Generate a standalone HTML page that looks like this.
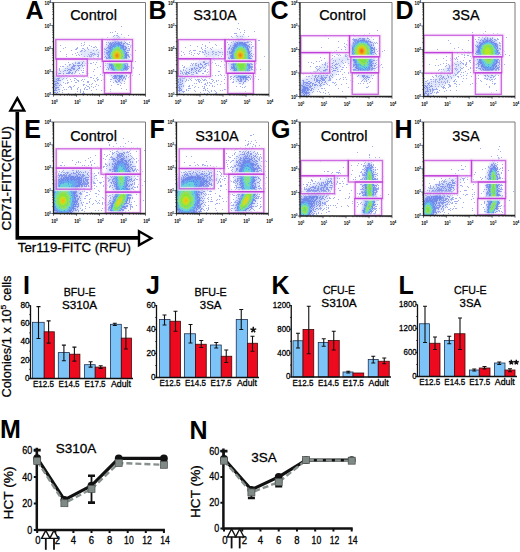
<!DOCTYPE html>
<html><head><meta charset="utf-8"><style>
html,body{margin:0;padding:0;background:#fff;}
svg{display:block;font-family:"Liberation Sans", sans-serif;}
</style></head><body>
<svg width="520" height="552" viewBox="0 0 520 552">
<defs><filter id="bl" x="-5%" y="-5%" width="110%" height="110%"><feGaussianBlur stdDeviation="1.0"/></filter><filter id="bl2"><feGaussianBlur stdDeviation="0.55"/></filter></defs>
<rect width="520" height="552" fill="#fff"/>
<text x="25.5" y="18.5" font-size="25" font-weight="bold">A</text><text x="148.5" y="18.5" font-size="25" font-weight="bold">B</text><text x="270.5" y="18.5" font-size="25" font-weight="bold">C</text><text x="395.5" y="18.5" font-size="25" font-weight="bold">D</text><text x="24.3" y="137.5" font-size="25" font-weight="bold">E</text><text x="149.5" y="137.5" font-size="25" font-weight="bold">F</text><text x="271" y="137.5" font-size="25" font-weight="bold">G</text><text x="394.5" y="137.5" font-size="25" font-weight="bold">H</text><text x="23" y="293.5" font-size="25" font-weight="bold">I</text><text x="146" y="293.5" font-size="25" font-weight="bold">J</text><text x="271.5" y="293.5" font-size="25" font-weight="bold">K</text><text x="398.5" y="293.5" font-size="25" font-weight="bold">L</text><text x="0" y="438" font-size="25" font-weight="bold">M</text><text x="189.5" y="438.5" font-size="25" font-weight="bold">N</text><clipPath id="c1"><rect x="53.5" y="2.5" width="92.0" height="92.0"/></clipPath><g clip-path="url(#c1)"><g filter="url(#bl)"><path d="M55.1 97.0L53.9 95.5L52.8 92.5L51.0 81.5L51.2 78.0L52.8 74.0L54.0 72.1L55.5 70.8L61.0 69.7L80.8 58.0L81.5 57.0L81.7 56.0L78.8 52.5L79.5 51.1L82.2 50.0L86.5 49.4L92.0 49.3L99.0 49.8L101.0 49.5L103.5 47.5L107.5 41.3L109.5 38.9L112.0 36.9L114.5 35.9L117.5 35.6L120.0 36.2L122.5 37.6L125.0 40.0L127.7 44.5L129.2 49.5L129.7 54.5L130.1 65.5L129.4 70.0L127.8 74.5L125.3 79.5L123.0 82.3L120.5 83.7L118.0 83.9L115.5 83.0L113.2 81.0L108.8 74.5L106.7 70.5L104.0 59.5L103.0 57.0L101.0 55.2L99.0 55.2L95.0 56.8L91.5 58.9L83.0 67.7L75.0 74.3L70.0 77.2L64.0 79.5L62.3 80.5L61.1 83.0L59.3 93.0L58.3 95.5L57.1 97.0Z" fill="rgb(225, 230, 250)" fill-rule="evenodd"/><path d="M120.0 80.6L117.5 80.5L115.5 79.3L113.3 76.5L110.2 71.5L108.1 66.0L105.6 54.0L105.7 51.5L106.2 49.5L109.0 44.0L112.0 40.8L114.0 39.6L116.0 39.1L118.0 39.2L120.0 39.8L123.5 42.6L126.3 47.5L127.4 53.0L127.8 64.5L127.2 69.0L125.8 73.0L123.5 77.5L122.0 79.4L120.0 80.6ZM69.5 71.6L68.0 71.9L67.2 71.5L68.1 70.0L71.6 67.5L75.0 66.1L76.0 66.0L76.5 66.4L75.9 67.5L74.3 69.0L69.5 71.6ZM56.0 91.6L55.0 90.7L54.2 88.5L53.5 80.5L54.5 76.4L55.5 75.2L57.0 74.7L58.5 75.6L59.0 78.0L58.0 88.2L57.0 90.9L56.0 91.6Z" fill="rgb(190, 202, 246)" fill-rule="evenodd"/><path d="M119.5 77.1L118.0 77.1L116.0 75.8L113.6 73.0L111.7 70.0L109.8 64.5L107.9 55.5L108.1 51.0L110.0 46.5L113.0 43.2L114.5 42.4L116.5 42.0L119.5 42.5L122.5 45.0L124.8 49.0L125.8 54.0L125.9 64.5L125.4 68.5L124.2 71.5L122.5 74.5L121.0 76.3L119.5 77.1Z" fill="rgb(135, 160, 240)" fill-rule="evenodd"/><path d="M120.0 73.7L118.5 74.0L117.0 73.5L115.0 71.9L113.6 70.0L111.8 66.0L109.3 56.5L109.3 52.5L110.8 48.5L113.0 45.7L116.0 44.3L119.0 44.6L121.5 46.5L123.4 49.5L124.5 53.5L124.5 64.5L124.1 67.5L122.5 71.2L120.0 73.7Z" fill="rgb(85, 125, 236)" fill-rule="evenodd"/><path d="M119.5 71.6L118.5 71.8L117.0 71.4L114.5 69.0L113.1 66.0L110.2 56.5L110.3 53.0L111.5 49.5L114.0 46.8L116.5 45.8L119.0 46.3L121.2 48.0L122.8 50.5L123.7 54.0L123.0 67.0L121.6 70.0L119.5 71.6Z" fill="rgb(75, 180, 235)" fill-rule="evenodd"/><path d="M119.0 70.0L117.0 69.7L115.0 67.5L111.7 59.5L110.9 56.0L111.1 53.0L112.3 50.0L114.0 48.1L116.5 47.1L118.5 47.4L120.8 49.0L122.3 51.5L123.0 54.5L121.9 66.5L120.6 69.0L119.0 70.0Z" fill="rgb(90, 220, 150)" fill-rule="evenodd"/><path d="M118.5 68.1L117.0 67.6L115.7 66.0L112.5 59.4L111.6 56.0L111.8 53.5L112.7 51.0L114.5 49.0L116.5 48.3L118.5 48.6L120.5 50.0L121.7 52.0L122.3 54.5L122.3 57.5L120.8 65.5L120.0 67.2L118.5 68.1Z" fill="rgb(120, 230, 60)" fill-rule="evenodd"/><path d="M118.5 62.2L117.0 62.3L115.5 61.3L113.8 59.0L112.9 56.5L112.9 54.5L113.5 52.4L115.0 50.6L116.5 50.1L118.0 50.2L119.5 51.1L120.5 52.5L121.1 54.5L120.7 58.5L119.5 61.0L118.5 62.2Z" fill="rgb(185, 230, 35)" fill-rule="evenodd"/><path d="M118.0 59.7L117.0 59.8L115.5 59.1L114.1 56.5L114.3 53.5L115.0 52.5L116.5 51.6L118.5 52.1L119.4 53.0L120.0 54.5L119.7 57.5L119.0 58.8L118.0 59.7Z" fill="rgb(240, 205, 25)" fill-rule="evenodd"/><path d="M117.5 58.2L116.0 57.8L115.0 56.0L115.3 54.0L116.5 52.9L118.0 53.2L119.0 55.0L118.8 57.0L117.5 58.2Z" fill="rgb(245, 135, 25)" fill-rule="evenodd"/><path d="M117.5 56.8L116.5 56.7L116.0 56.0L116.0 54.9L117.0 54.1L118.0 55.0L118.1 56.0L117.5 56.8Z" fill="rgb(235, 65, 20)" fill-rule="evenodd"/></g><g filter="url(#bl2)"><path d="M113 18.5h1M121 26.5h1M115 31.5h1M110 32.5h1M112 32.5h1M117 33.5h1M121 34.5h1M114 35.5h1M116 35.5h1M117 35.5h1M128 35.5h1M113 36.5h1M118 36.5h1M107 37.5h1M117 37.5h1M119 37.5h1M124 37.5h1M113 38.5h1M114 38.5h1M109 39.5h1M123 39.5h1M125 39.5h1M107 40.5h1M109 40.5h1M124 40.5h1M126 40.5h1M124 41.5h1M84 42.5h1M106 42.5h1M108 42.5h1M125 42.5h1M129 42.5h1M81 43.5h1M126 43.5h1M127 43.5h1M84 44.5h1M106 44.5h1M127 44.5h1M128 44.5h1M129 44.5h1M60 45.5h1M81 45.5h1M83 45.5h1M89 45.5h1M130 45.5h1M131 45.5h1M91 46.5h1M95 46.5h1M100 46.5h1M128 46.5h1M130 46.5h1M65 47.5h1M77 47.5h1M87 47.5h1M93 47.5h1M94 47.5h1M96 47.5h1M100 47.5h1M130 47.5h1M63 48.5h1M76 48.5h1M77 48.5h1M82 48.5h1M83 48.5h1M87 48.5h1M101 48.5h1M102 48.5h1M103 48.5h1M104 48.5h1M128 48.5h1M129 48.5h1M75 49.5h1M76 49.5h1M84 49.5h1M88 49.5h1M97 49.5h1M102 49.5h1M103 49.5h1M104 49.5h1M129 49.5h1M71 50.5h1M81 50.5h1M82 50.5h1M85 50.5h1M93 50.5h1M96 50.5h1M100 50.5h1M101 50.5h1M128 50.5h1M129 50.5h1M135 50.5h1M60 51.5h1M80 51.5h1M81 51.5h1M84 51.5h1M104 51.5h1M77 52.5h1M90 52.5h1M91 52.5h1M98 52.5h1M102 52.5h1M104 52.5h1M75 53.5h1M92 53.5h1M93 53.5h1M94 53.5h1M103 53.5h1M66 54.5h1M72 54.5h1M78 54.5h1M81 54.5h1M88 54.5h1M90 54.5h1M91 54.5h1M92 54.5h1M94 54.5h1M95 54.5h1M97 54.5h1M98 54.5h1M104 54.5h1M128 54.5h1M130 54.5h1M76 55.5h1M79 55.5h1M89 55.5h1M91 55.5h1M93 55.5h1M98 55.5h1M131 55.5h1M66 56.5h1M84 56.5h1M87 56.5h1M89 56.5h1M90 56.5h1M91 56.5h1M97 56.5h1M98 56.5h1M129 56.5h1M82 57.5h1M88 57.5h1M90 57.5h1M91 57.5h1M93 57.5h1M98 57.5h1M104 57.5h1M129 57.5h1M62 58.5h1M80 58.5h1M88 58.5h1M94 58.5h1M97 58.5h1M70 59.5h1M100 59.5h1M129 59.5h1M130 59.5h1M131 59.5h1M81 60.5h1M82 60.5h1M87 60.5h1M88 60.5h1M97 60.5h1M101 60.5h1M102 60.5h1M130 60.5h1M83 61.5h1M101 61.5h1M135 61.5h1M68 62.5h1M75 62.5h1M78 62.5h1M79 62.5h1M87 62.5h1M93 62.5h1M96 62.5h1M101 62.5h1M72 63.5h1M75 63.5h1M77 63.5h1M85 63.5h1M88 63.5h1M90 63.5h1M91 63.5h1M105 63.5h1M65 64.5h1M69 64.5h1M70 64.5h1M73 64.5h1M95 64.5h1M69 65.5h1M84 65.5h1M87 65.5h1M105 65.5h1M130 65.5h1M60 66.5h1M62 66.5h1M63 66.5h1M67 66.5h1M82 66.5h1M87 66.5h1M100 66.5h1M129 66.5h1M56 67.5h1M97 67.5h1M103 67.5h1M104 67.5h1M107 67.5h1M129 67.5h1M132 67.5h1M133 67.5h1M59 68.5h1M65 68.5h1M67 68.5h1M83 68.5h1M102 68.5h1M133 68.5h1M57 69.5h1M59 69.5h1M94 69.5h1M106 69.5h1M59 70.5h1M64 70.5h1M76 70.5h1M78 70.5h1M81 70.5h1M83 70.5h1M60 71.5h1M63 71.5h1M86 71.5h1M93 71.5h1M106 71.5h1M107 71.5h1M108 71.5h1M128 71.5h1M129 71.5h1M57 72.5h1M75 72.5h1M82 72.5h1M83 72.5h1M108 72.5h1M127 72.5h1M60 73.5h1M72 73.5h1M74 73.5h1M79 73.5h1M86 73.5h1M88 73.5h1M102 73.5h1M108 73.5h1M127 73.5h1M128 73.5h1M72 74.5h1M80 74.5h1M82 74.5h1M100 74.5h1M110 74.5h1M128 74.5h1M139 74.5h1M74 75.5h1M76 75.5h1M94 75.5h1M102 75.5h1M104 75.5h1M111 75.5h1M132 75.5h1M69 76.5h1M73 76.5h1M77 76.5h1M81 76.5h1M84 76.5h1M126 76.5h1M129 76.5h1M62 77.5h1M64 77.5h1M67 77.5h1M83 77.5h1M88 77.5h1M90 77.5h1M91 77.5h1M97 77.5h1M112 77.5h1M128 77.5h1M63 78.5h1M66 78.5h1M74 78.5h1M75 78.5h1M93 78.5h1M96 78.5h1M125 78.5h1M62 79.5h1M70 79.5h1M76 79.5h1M82 79.5h1M84 79.5h1M97 79.5h1M98 79.5h1M103 79.5h1M110 79.5h1M111 79.5h1M125 79.5h1M67 80.5h1M74 80.5h1M77 80.5h1M78 80.5h1M81 80.5h1M94 80.5h1M97 80.5h1M101 80.5h1M71 81.5h1M78 81.5h1M83 81.5h1M87 81.5h1M88 81.5h1M95 81.5h1M110 81.5h1M115 81.5h1M124 81.5h1M63 82.5h1M67 82.5h1M68 82.5h1M75 82.5h1M76 82.5h1M87 82.5h1M88 82.5h1M113 82.5h1M116 82.5h1M117 82.5h1M120 82.5h1M65 83.5h1M67 83.5h1M92 83.5h1M121 83.5h1M124 83.5h1M60 84.5h1M83 84.5h1M84 84.5h1M89 84.5h1M91 84.5h1M96 84.5h1M117 84.5h1M118 84.5h1M61 85.5h1M74 85.5h1M83 85.5h1M86 85.5h1M98 85.5h1M111 85.5h1M120 85.5h1M69 86.5h1M70 86.5h1M73 86.5h1M87 86.5h1M88 86.5h1M91 86.5h1M95 86.5h1M63 87.5h1M68 87.5h1M70 87.5h1M71 87.5h1M78 87.5h1M85 87.5h1M89 87.5h1M93 87.5h1M104 87.5h1M71 88.5h1M77 88.5h1M84 88.5h1M89 88.5h1M104 88.5h1M121 88.5h1M59 89.5h1M64 89.5h1M66 89.5h1M71 89.5h1M77 89.5h1M80 89.5h1M84 89.5h1M86 89.5h1M87 89.5h1M96 89.5h1M110 89.5h1M126 89.5h1M62 90.5h1M80 90.5h1M91 90.5h1M101 90.5h1M105 90.5h1M59 91.5h1M77 91.5h1M80 91.5h1M83 91.5h1M110 91.5h1M62 92.5h1M80 92.5h1M83 92.5h1M68 93.5h1M75 93.5h1M82 93.5h1M83 93.5h1M84 93.5h1M92 93.5h1M55 94.5h1M58 94.5h1M60 94.5h1M65 94.5h1" stroke="#a0aef0" stroke-width="1" fill="none"/><path d="M114 38.5h1M116 38.5h1M118 38.5h1M119 38.5h1M112 39.5h1M114 39.5h1M115 39.5h1M116 39.5h1M117 39.5h1M112 40.5h1M113 40.5h1M114 40.5h1M115 40.5h1M117 40.5h1M114 41.5h1M115 41.5h1M116 41.5h1M117 41.5h1M118 41.5h1M121 41.5h1M110 42.5h1M112 42.5h1M113 42.5h1M119 42.5h1M120 42.5h1M121 42.5h1M125 42.5h1M109 43.5h1M110 43.5h1M111 43.5h1M112 43.5h1M123 43.5h1M124 43.5h1M109 44.5h1M110 44.5h1M111 44.5h1M123 44.5h1M108 45.5h1M110 45.5h1M108 46.5h1M109 46.5h1M110 46.5h1M124 46.5h1M125 46.5h1M107 47.5h1M108 47.5h1M109 47.5h1M125 47.5h1M126 47.5h1M106 48.5h1M108 48.5h1M109 48.5h1M125 48.5h1M126 48.5h1M105 49.5h1M106 50.5h1M107 50.5h1M127 50.5h1M106 52.5h1M107 52.5h1M127 52.5h1M128 52.5h1M106 53.5h1M107 53.5h1M126 53.5h1M107 54.5h1M127 54.5h1M127 55.5h1M128 55.5h1M105 56.5h1M128 56.5h1M106 57.5h1M106 58.5h1M107 58.5h1M126 58.5h1M106 59.5h1M108 59.5h1M128 59.5h1M107 61.5h1M108 61.5h1M126 61.5h1M82 62.5h1M127 62.5h1M78 63.5h1M79 63.5h1M82 63.5h1M107 63.5h1M109 63.5h1M127 63.5h1M73 64.5h1M81 64.5h1M109 64.5h1M127 64.5h1M73 65.5h1M74 65.5h1M75 65.5h1M77 65.5h1M78 65.5h1M79 65.5h1M80 65.5h1M82 65.5h1M109 65.5h1M127 65.5h1M72 66.5h1M73 66.5h1M74 66.5h1M78 66.5h1M109 66.5h1M126 66.5h1M127 66.5h1M128 66.5h1M71 67.5h1M72 67.5h1M79 67.5h1M109 67.5h1M126 67.5h1M127 67.5h1M71 68.5h1M72 68.5h1M73 68.5h1M74 68.5h1M78 68.5h1M79 68.5h1M108 68.5h1M110 68.5h1M126 68.5h1M127 68.5h1M128 68.5h1M68 69.5h1M69 69.5h1M70 69.5h1M73 69.5h1M74 69.5h1M77 69.5h1M108 69.5h1M126 69.5h1M127 69.5h1M65 70.5h1M67 70.5h1M70 70.5h1M71 70.5h1M76 70.5h1M126 70.5h1M69 71.5h1M75 71.5h1M111 71.5h1M112 71.5h1M68 72.5h1M69 72.5h1M70 72.5h1M72 72.5h1M110 72.5h1M111 72.5h1M112 72.5h1M113 72.5h1M125 72.5h1M126 72.5h1M127 72.5h1M56 73.5h1M58 73.5h1M59 73.5h1M60 73.5h1M63 73.5h1M66 73.5h1M67 73.5h1M68 73.5h1M69 73.5h1M71 73.5h1M112 73.5h1M113 73.5h1M124 73.5h1M56 74.5h1M58 74.5h1M63 74.5h1M125 74.5h1M59 75.5h1M62 75.5h1M65 75.5h1M66 75.5h1M114 75.5h1M115 75.5h1M126 75.5h1M55 76.5h1M57 76.5h1M58 76.5h1M59 76.5h1M61 76.5h1M63 76.5h1M113 76.5h1M114 76.5h1M116 76.5h1M122 76.5h1M124 76.5h1M55 77.5h1M56 77.5h1M58 77.5h1M59 77.5h1M60 77.5h1M61 77.5h1M114 77.5h1M115 77.5h1M116 77.5h1M121 77.5h1M123 77.5h1M124 77.5h1M57 78.5h1M58 78.5h1M59 78.5h1M113 78.5h1M114 78.5h1M115 78.5h1M116 78.5h1M118 78.5h1M119 78.5h1M121 78.5h1M123 78.5h1M125 78.5h1M56 79.5h1M58 79.5h1M117 79.5h1M119 79.5h1M120 79.5h1M122 79.5h1M57 80.5h1M58 80.5h1M59 80.5h1M60 80.5h1M115 80.5h1M118 80.5h1M119 80.5h1M122 80.5h1M54 81.5h1M55 81.5h1M56 81.5h1M116 81.5h1M118 81.5h1M119 81.5h1M57 82.5h1M55 83.5h1M56 83.5h1M57 83.5h1M58 83.5h1M54 84.5h1M55 84.5h1M55 85.5h1M56 85.5h1M59 85.5h1M54 86.5h1M55 87.5h1M56 87.5h1M57 87.5h1M58 87.5h1M55 88.5h1M56 88.5h1M55 89.5h1M58 89.5h1M54 90.5h1M55 90.5h1M56 90.5h1M54 92.5h1M55 92.5h1M57 92.5h1M56 93.5h1" stroke="#8898ec" stroke-width="1" fill="none"/><path d="M115 42.5h1M118 42.5h1M114 43.5h1M116 43.5h1M117 43.5h1M118 43.5h1M119 43.5h1M121 43.5h1M111 44.5h1M113 44.5h1M115 44.5h1M117 44.5h1M118 44.5h1M119 44.5h1M120 44.5h1M111 45.5h1M113 45.5h1M120 45.5h1M121 45.5h1M122 45.5h1M123 45.5h1M110 46.5h1M112 46.5h1M113 46.5h1M121 46.5h1M122 46.5h1M123 46.5h1M110 47.5h1M111 47.5h1M122 47.5h1M123 47.5h1M109 48.5h1M110 48.5h1M122 48.5h1M123 48.5h1M110 49.5h1M123 49.5h1M124 49.5h1M125 49.5h1M108 51.5h1M109 51.5h1M125 51.5h1M108 52.5h1M126 52.5h1M109 53.5h1M125 53.5h1M126 53.5h1M109 54.5h1M125 54.5h1M126 54.5h1M108 55.5h1M125 55.5h1M126 55.5h1M109 56.5h1M125 56.5h1M126 56.5h1M108 57.5h1M109 57.5h1M125 57.5h1M126 57.5h1M110 59.5h1M109 60.5h1M110 60.5h1M125 60.5h1M126 60.5h1M109 61.5h1M110 61.5h1M125 61.5h1M126 61.5h1M109 62.5h1M110 62.5h1M124 62.5h1M125 62.5h1M109 63.5h1M111 63.5h1M125 63.5h1M126 63.5h1M110 64.5h1M111 64.5h1M110 65.5h1M111 65.5h1M124 65.5h1M125 65.5h1M111 66.5h1M124 66.5h1M125 66.5h1M111 67.5h1M125 67.5h1M126 67.5h1M111 68.5h1M112 68.5h1M124 68.5h1M125 68.5h1M112 69.5h1M125 69.5h1M113 70.5h1M114 70.5h1M114 71.5h1M113 72.5h1M114 72.5h1M115 72.5h1M122 72.5h1M123 72.5h1M113 73.5h1M114 73.5h1M116 73.5h1M117 73.5h1M122 73.5h1M123 73.5h1M114 74.5h1M116 74.5h1M117 74.5h1M119 74.5h1M121 74.5h1M122 74.5h1M115 75.5h1M117 75.5h1M119 75.5h1M121 75.5h1M122 75.5h1M115 76.5h1M119 76.5h1M120 76.5h1M121 76.5h1M119 77.5h1M120 77.5h1" stroke="#6f88ea" stroke-width="1" fill="none"/><path d="M116 44.5h1M117 44.5h1M115 45.5h1M116 45.5h1M117 45.5h1M119 45.5h1M114 46.5h1M115 46.5h1M116 46.5h1M118 46.5h1M120 46.5h1M121 46.5h1M112 47.5h1M113 47.5h1M114 47.5h1M120 47.5h1M111 48.5h1M112 48.5h1M113 48.5h1M121 48.5h1M122 48.5h1M111 49.5h1M111 50.5h1M123 50.5h1M124 50.5h1M110 51.5h1M111 51.5h1M123 51.5h1M124 51.5h1M109 52.5h1M110 52.5h1M123 52.5h1M109 53.5h1M110 53.5h1M124 53.5h1M110 54.5h1M124 54.5h1M124 55.5h1M124 56.5h1M124 57.5h1M110 58.5h1M124 58.5h1M110 59.5h1M124 59.5h1M124 60.5h1M111 61.5h1M111 62.5h1M124 62.5h1M111 63.5h1M112 63.5h1M123 63.5h1M124 63.5h1M112 64.5h1M123 64.5h1M124 64.5h1M123 65.5h1M124 65.5h1M113 66.5h1M123 66.5h1M124 66.5h1M112 67.5h1M113 67.5h1M123 67.5h1M124 67.5h1M114 68.5h1M123 68.5h1M114 69.5h1M122 69.5h1M114 70.5h1M115 70.5h1M122 70.5h1M123 70.5h1M114 71.5h1M115 71.5h1M116 71.5h1M121 71.5h1M122 71.5h1M123 71.5h1M115 72.5h1M116 72.5h1M117 72.5h1M118 72.5h1M119 72.5h1M120 72.5h1M118 73.5h1M119 73.5h1M121 73.5h1M118 74.5h1M119 74.5h1M120 74.5h1" stroke="#68a8ef" stroke-width="1" fill="none"/><path d="M116 46.5h1M117 46.5h1M119 46.5h1M113 47.5h1M115 47.5h1M116 47.5h1M117 47.5h1M118 47.5h1M119 47.5h1M113 48.5h1M114 48.5h1M115 48.5h1M119 48.5h1M113 49.5h1M121 49.5h1M122 49.5h1M112 50.5h1M121 50.5h1M122 50.5h1M112 51.5h1M122 51.5h1M123 51.5h1M111 52.5h1M123 52.5h1M111 53.5h1M123 53.5h1M110 54.5h1M123 54.5h1M124 54.5h1M110 55.5h1M111 55.5h1M123 55.5h1M110 56.5h1M123 56.5h1M124 56.5h1M111 57.5h1M123 57.5h1M111 58.5h1M123 58.5h1M124 58.5h1M111 59.5h1M112 60.5h1M112 61.5h1M123 61.5h1M112 62.5h1M123 62.5h1M112 63.5h1M123 63.5h1M122 64.5h1M123 64.5h1M114 65.5h1M122 65.5h1M123 65.5h1M114 66.5h1M122 66.5h1M123 66.5h1M114 67.5h1M115 67.5h1M122 67.5h1M123 67.5h1M114 68.5h1M115 68.5h1M122 68.5h1M115 69.5h1M116 69.5h1M120 69.5h1M121 69.5h1M122 69.5h1M115 70.5h1M116 70.5h1M117 70.5h1M118 70.5h1M120 70.5h1M117 71.5h1M118 71.5h1M119 71.5h1M120 71.5h1M121 71.5h1M118 72.5h1M119 72.5h1" stroke="#68d0d8" stroke-width="1" fill="none"/><path d="M116 47.5h1M117 47.5h1M118 47.5h1M119 47.5h1M114 48.5h1M115 48.5h1M116 48.5h1M117 48.5h1M118 48.5h1M119 48.5h1M113 49.5h1M115 49.5h1M120 49.5h1M113 50.5h1M114 50.5h1M120 50.5h1M121 50.5h1M112 51.5h1M121 51.5h1M122 51.5h1M111 52.5h1M112 52.5h1M122 52.5h1M111 53.5h1M122 53.5h1M111 54.5h1M112 54.5h1M123 54.5h1M111 55.5h1M112 55.5h1M123 55.5h1M123 56.5h1M111 57.5h1M112 57.5h1M122 57.5h1M112 58.5h1M112 59.5h1M112 60.5h1M122 60.5h1M113 61.5h1M122 61.5h1M113 62.5h1M114 62.5h1M121 62.5h1M122 62.5h1M113 63.5h1M114 63.5h1M121 63.5h1M122 63.5h1M113 64.5h1M114 64.5h1M115 64.5h1M121 64.5h1M122 64.5h1M114 65.5h1M121 65.5h1M114 66.5h1M115 66.5h1M121 66.5h1M122 66.5h1M116 67.5h1M120 67.5h1M121 67.5h1M116 68.5h1M117 68.5h1M119 68.5h1M120 68.5h1M121 68.5h1M117 69.5h1M118 69.5h1M119 69.5h1M118 70.5h1M119 70.5h1M120 70.5h1" stroke="#80e090" stroke-width="1" fill="none"/><path d="M118 48.5h1M119 49.5h1M120 50.5h1M121 50.5h1M113 51.5h1M121 51.5h1M112 52.5h1M122 53.5h1M112 54.5h1M122 54.5h1M112 55.5h1M122 55.5h1M112 56.5h1M122 57.5h1M112 58.5h1M122 58.5h1M112 59.5h1M113 60.5h1M113 61.5h1M121 62.5h1M115 63.5h1M115 64.5h1M121 64.5h1M115 65.5h1M120 65.5h1M121 65.5h1M120 66.5h1M117 67.5h1M119 67.5h1M120 67.5h1M117 68.5h1M118 68.5h1M119 68.5h1" stroke="#98e050" stroke-width="1" fill="none"/></g></g><rect x="55.8" y="39.5" width="46.2" height="19.5" fill="none" stroke="#f8e8f8" stroke-width="4" stroke-opacity="0.7"/><rect x="56.5" y="59" width="30.799999999999997" height="17" fill="none" stroke="#f8e8f8" stroke-width="4" stroke-opacity="0.7"/><rect x="102.3" y="39.5" width="30.200000000000003" height="21.799999999999997" fill="none" stroke="#f8e8f8" stroke-width="4" stroke-opacity="0.7"/><rect x="103.3" y="61.3" width="28.200000000000003" height="11.5" fill="none" stroke="#f8e8f8" stroke-width="4" stroke-opacity="0.7"/><rect x="104.5" y="72.8" width="26.0" height="20.700000000000003" fill="none" stroke="#f8e8f8" stroke-width="4" stroke-opacity="0.7"/><rect x="55.8" y="39.5" width="46.2" height="19.5" fill="none" stroke="#b828d8" stroke-opacity="0.66" stroke-width="1.35"/><rect x="56.5" y="59" width="30.799999999999997" height="17" fill="none" stroke="#b828d8" stroke-opacity="0.66" stroke-width="1.35"/><rect x="102.3" y="39.5" width="30.200000000000003" height="21.799999999999997" fill="none" stroke="#b828d8" stroke-opacity="0.66" stroke-width="1.35"/><rect x="103.3" y="61.3" width="28.200000000000003" height="11.5" fill="none" stroke="#b828d8" stroke-opacity="0.66" stroke-width="1.35"/><rect x="104.5" y="72.8" width="26.0" height="20.700000000000003" fill="none" stroke="#b828d8" stroke-opacity="0.66" stroke-width="1.35"/><path d="M53.5 2.5H145.5V94.5" stroke="#7a7a7a" stroke-width="1" fill="none"/><path d="M53.5 2.5V94.5H145.5" stroke="#222" stroke-width="1.3" fill="none"/><path d="M53.5 94.5h-2.2M53.5 94.5v2.2M53.5 87.6h-1.2M60.4 94.5v1.2M53.5 83.5h-1.2M64.5 94.5v1.2M53.5 80.7h-1.2M67.3 94.5v1.2M53.5 78.4h-1.2M69.6 94.5v1.2M53.5 76.6h-1.2M71.4 94.5v1.2M53.5 75.1h-1.2M72.9 94.5v1.2M53.5 73.7h-1.2M74.3 94.5v1.2M53.5 72.6h-1.2M75.4 94.5v1.2M53.5 71.5h-2.2M76.5 94.5v2.2M53.5 64.6h-1.2M83.4 94.5v1.2M53.5 60.5h-1.2M87.5 94.5v1.2M53.5 57.7h-1.2M90.3 94.5v1.2M53.5 55.4h-1.2M92.6 94.5v1.2M53.5 53.6h-1.2M94.4 94.5v1.2M53.5 52.1h-1.2M95.9 94.5v1.2M53.5 50.7h-1.2M97.3 94.5v1.2M53.5 49.6h-1.2M98.4 94.5v1.2M53.5 48.5h-2.2M99.5 94.5v2.2M53.5 41.6h-1.2M106.4 94.5v1.2M53.5 37.5h-1.2M110.5 94.5v1.2M53.5 34.7h-1.2M113.3 94.5v1.2M53.5 32.4h-1.2M115.6 94.5v1.2M53.5 30.6h-1.2M117.4 94.5v1.2M53.5 29.1h-1.2M118.9 94.5v1.2M53.5 27.7h-1.2M120.3 94.5v1.2M53.5 26.6h-1.2M121.4 94.5v1.2M53.5 25.5h-2.2M122.5 94.5v2.2M53.5 18.6h-1.2M129.4 94.5v1.2M53.5 14.5h-1.2M133.5 94.5v1.2M53.5 11.7h-1.2M136.3 94.5v1.2M53.5 9.4h-1.2M138.6 94.5v1.2M53.5 7.6h-1.2M140.4 94.5v1.2M53.5 6.1h-1.2M141.9 94.5v1.2M53.5 4.7h-1.2M143.3 94.5v1.2M53.5 3.6h-1.2M144.4 94.5v1.2M53.5 2.5h-2.2M145.5 94.5v2.2" stroke="#222" stroke-width="0.7" fill="none"/><text x="51.0" y="96.7" font-size="5.6" font-weight="bold" text-anchor="end" textLength="6.5" lengthAdjust="spacingAndGlyphs">10<tspan font-size="4" dy="-2">0</tspan></text><text x="54.5" y="103.5" font-size="5.6" font-weight="bold" text-anchor="middle" textLength="6.5" lengthAdjust="spacingAndGlyphs">10<tspan font-size="4" dy="-2">0</tspan></text><text x="51.0" y="73.7" font-size="5.6" font-weight="bold" text-anchor="end" textLength="6.5" lengthAdjust="spacingAndGlyphs">10<tspan font-size="4" dy="-2">1</tspan></text><text x="77.5" y="103.5" font-size="5.6" font-weight="bold" text-anchor="middle" textLength="6.5" lengthAdjust="spacingAndGlyphs">10<tspan font-size="4" dy="-2">1</tspan></text><text x="51.0" y="50.7" font-size="5.6" font-weight="bold" text-anchor="end" textLength="6.5" lengthAdjust="spacingAndGlyphs">10<tspan font-size="4" dy="-2">2</tspan></text><text x="100.5" y="103.5" font-size="5.6" font-weight="bold" text-anchor="middle" textLength="6.5" lengthAdjust="spacingAndGlyphs">10<tspan font-size="4" dy="-2">2</tspan></text><text x="51.0" y="27.7" font-size="5.6" font-weight="bold" text-anchor="end" textLength="6.5" lengthAdjust="spacingAndGlyphs">10<tspan font-size="4" dy="-2">3</tspan></text><text x="123.5" y="103.5" font-size="5.6" font-weight="bold" text-anchor="middle" textLength="6.5" lengthAdjust="spacingAndGlyphs">10<tspan font-size="4" dy="-2">3</tspan></text><text x="51.0" y="4.7" font-size="5.6" font-weight="bold" text-anchor="end" textLength="6.5" lengthAdjust="spacingAndGlyphs">10<tspan font-size="4" dy="-2">4</tspan></text><text x="146.5" y="103.5" font-size="5.6" font-weight="bold" text-anchor="middle" textLength="6.5" lengthAdjust="spacingAndGlyphs">10<tspan font-size="4" dy="-2">4</tspan></text><text x="93.5" y="20.3" font-size="14.5" text-anchor="middle" stroke="#000" stroke-width="0.25">Control</text><clipPath id="c2"><rect x="177" y="2.5" width="92" height="92.0"/></clipPath><g clip-path="url(#c2)"><g filter="url(#bl)"><path d="M178.7 97.0L177.4 95.5L176.3 92.5L174.4 80.5L174.6 78.0L175.7 75.0L177.0 72.7L178.5 71.0L180.0 70.3L183.0 70.0L184.5 69.4L192.0 64.8L203.4 58.5L204.9 56.5L204.5 55.2L202.1 52.5L202.4 51.5L203.5 50.8L206.0 50.0L210.5 49.4L216.0 49.4L222.5 50.1L224.5 49.8L227.0 47.6L230.9 41.0L233.0 38.3L235.5 36.2L238.0 35.1L240.5 34.9L243.0 35.4L245.5 36.7L247.9 39.0L250.7 43.5L252.3 48.5L253.1 54.0L254.0 66.5L253.4 71.0L252.1 74.5L249.6 79.0L247.0 82.2L244.0 84.0L240.5 84.3L237.5 83.0L234.2 80.0L230.8 75.5L228.9 71.5L228.1 68.0L227.2 60.0L226.5 57.3L225.0 55.2L224.0 54.8L222.5 54.8L218.0 56.6L214.5 58.8L206.0 67.6L198.0 74.1L193.5 76.9L186.0 80.1L184.7 82.5L182.8 93.0L181.7 95.5L180.5 97.0Z" fill="rgb(225, 230, 250)" fill-rule="evenodd"/><path d="M243.5 81.2L241.0 81.4L238.5 80.3L235.6 77.5L232.8 73.5L231.7 71.0L230.7 67.5L229.1 55.0L229.4 50.5L232.3 44.0L235.5 40.2L237.5 39.1L239.5 38.6L241.5 38.7L243.5 39.4L245.5 40.8L247.0 42.4L249.6 47.5L250.8 53.5L251.6 65.0L251.1 70.0L249.7 74.0L247.7 77.5L245.5 80.0L243.5 81.2ZM191.5 71.5L190.8 71.0L191.0 70.5L193.3 68.5L197.0 66.6L198.8 66.5L198.6 67.5L196.2 69.5L193.5 71.0L191.5 71.5ZM180.0 91.3L179.0 91.2L177.9 89.0L177.2 85.0L177.0 80.5L178.0 76.3L179.0 75.1L180.5 74.6L182.1 75.5L182.5 77.5L181.6 87.5L181.0 89.8L180.0 91.3Z" fill="rgb(190, 202, 246)" fill-rule="evenodd"/><path d="M242.5 78.5L240.5 78.4L238.5 77.3L236.0 74.6L234.1 71.5L232.6 67.0L231.2 56.0L231.5 51.0L233.5 46.2L236.5 42.8L238.5 41.8L240.0 41.6L243.0 42.3L246.0 45.0L248.3 49.5L249.2 54.5L249.7 65.5L249.2 70.0L248.0 73.0L246.1 76.0L244.5 77.6L242.5 78.5Z" fill="rgb(135, 160, 240)" fill-rule="evenodd"/><path d="M242.5 76.0L241.0 76.0L239.0 75.1L237.0 73.1L235.6 71.0L234.2 67.0L232.6 56.5L232.8 52.0L234.3 48.0L237.0 45.0L240.0 43.9L243.0 44.7L245.4 47.0L247.2 50.5L248.0 54.5L248.3 65.5L247.8 69.0L246.9 71.5L245.5 73.8L244.0 75.3L242.5 76.0Z" fill="rgb(85, 125, 236)" fill-rule="evenodd"/><path d="M242.0 74.1L240.5 73.9L239.0 73.0L237.5 71.5L236.3 69.5L235.4 66.5L233.5 56.0L233.7 52.5L235.0 49.0L237.5 46.4L240.0 45.6L242.5 46.2L244.7 48.0L246.4 51.0L247.1 54.5L247.0 66.0L246.7 68.5L246.0 70.5L244.6 72.5L243.5 73.5L242.0 74.1Z" fill="rgb(75, 180, 235)" fill-rule="evenodd"/><path d="M242.5 72.2L241.5 72.3L240.0 71.9L238.5 70.7L237.5 69.2L236.6 67.0L234.2 56.5L234.3 53.0L235.5 50.0L237.5 47.7L240.0 46.8L242.5 47.4L244.3 49.0L245.7 51.5L246.4 54.5L245.7 67.5L244.5 70.5L242.5 72.2Z" fill="rgb(90, 220, 150)" fill-rule="evenodd"/><path d="M242.5 70.1L240.5 70.2L238.5 68.2L234.9 56.0L235.1 53.0L236.1 50.5L238.0 48.6L240.0 48.0L242.0 48.3L243.6 49.5L245.0 51.7L245.7 54.5L244.5 67.0L243.7 69.0L242.5 70.1Z" fill="rgb(120, 230, 60)" fill-rule="evenodd"/><path d="M241.5 62.7L240.5 62.9L238.5 61.1L236.8 58.5L236.1 56.0L236.3 53.5L237.0 51.7L238.5 50.2L240.0 49.7L241.5 49.9L243.0 51.0L243.9 52.5L244.5 54.5L243.9 58.5L243.0 60.6L241.5 62.7Z" fill="rgb(185, 230, 35)" fill-rule="evenodd"/><path d="M241.0 59.6L239.5 59.4L238.5 58.6L237.3 56.0L237.7 53.0L238.5 51.9L240.0 51.2L241.0 51.3L242.1 52.0L243.3 54.5L242.9 57.5L242.0 58.9L241.0 59.6Z" fill="rgb(240, 205, 25)" fill-rule="evenodd"/><path d="M241.5 57.5L240.0 58.0L238.5 56.5L238.3 54.5L239.5 52.7L241.0 52.7L242.2 54.0L242.3 56.0L241.5 57.5Z" fill="rgb(245, 135, 25)" fill-rule="evenodd"/><path d="M240.5 56.6L239.9 56.5L239.2 55.5L239.3 54.5L240.0 53.8L241.0 54.0L241.4 55.0L241.2 56.0L240.5 56.6Z" fill="rgb(235, 65, 20)" fill-rule="evenodd"/></g><g filter="url(#bl2)"><path d="M238 23.5h1M237 28.5h1M239 29.5h1M244 30.5h1M254 31.5h1M240 32.5h1M244 32.5h1M234 33.5h1M235 33.5h1M236 33.5h1M243 34.5h1M236 35.5h1M231 36.5h1M237 36.5h1M240 36.5h1M242 36.5h1M248 36.5h1M232 37.5h1M228 38.5h1M231 39.5h1M233 39.5h1M246 39.5h1M248 39.5h1M229 40.5h1M258 40.5h1M259 40.5h1M233 41.5h1M248 41.5h1M249 41.5h1M250 41.5h1M209 42.5h1M227 42.5h1M231 42.5h1M248 42.5h1M251 42.5h1M202 44.5h1M215 44.5h1M228 44.5h1M251 44.5h1M190 45.5h1M205 45.5h1M216 45.5h1M230 45.5h1M178 46.5h1M197 46.5h1M205 46.5h1M225 46.5h1M230 46.5h1M252 46.5h1M253 46.5h1M185 47.5h1M201 47.5h1M207 47.5h1M212 47.5h1M229 47.5h1M251 47.5h1M255 47.5h1M201 48.5h1M205 48.5h1M210 48.5h1M221 48.5h1M228 48.5h1M251 48.5h1M254 48.5h1M202 49.5h1M211 49.5h1M226 49.5h1M228 49.5h1M190 50.5h1M193 50.5h1M194 50.5h1M195 50.5h1M204 50.5h1M205 50.5h1M225 50.5h1M251 50.5h1M181 51.5h1M189 51.5h1M199 51.5h1M200 51.5h1M202 51.5h1M205 51.5h1M212 51.5h1M213 51.5h1M218 51.5h1M227 51.5h1M183 52.5h1M191 52.5h1M202 52.5h1M203 52.5h1M205 52.5h1M208 52.5h1M212 52.5h1M215 52.5h1M216 52.5h1M219 52.5h1M220 52.5h1M222 52.5h1M227 52.5h1M179 53.5h1M189 53.5h1M194 53.5h1M197 53.5h1M199 53.5h1M206 53.5h1M213 53.5h1M225 53.5h1M226 53.5h1M184 54.5h1M191 54.5h1M198 54.5h1M204 54.5h1M208 54.5h1M212 54.5h1M215 54.5h1M216 54.5h1M222 54.5h1M224 54.5h1M226 54.5h1M227 54.5h1M253 54.5h1M181 55.5h1M193 55.5h1M218 55.5h1M223 55.5h1M225 55.5h1M226 55.5h1M206 56.5h1M221 56.5h1M224 56.5h1M255 56.5h1M264 56.5h1M204 57.5h1M208 57.5h1M213 57.5h1M218 57.5h1M225 57.5h1M228 57.5h1M179 58.5h1M201 58.5h1M202 58.5h1M209 58.5h1M219 58.5h1M228 58.5h1M204 59.5h1M205 59.5h1M207 59.5h1M209 59.5h1M213 59.5h1M227 59.5h1M229 59.5h1M252 59.5h1M193 60.5h1M199 60.5h1M205 60.5h1M208 60.5h1M209 60.5h1M210 60.5h1M211 60.5h1M214 60.5h1M255 60.5h1M203 61.5h1M204 61.5h1M209 61.5h1M210 61.5h1M221 61.5h1M208 62.5h1M209 62.5h1M212 62.5h1M226 62.5h1M227 62.5h1M229 62.5h1M191 63.5h1M193 63.5h1M195 63.5h1M196 63.5h1M207 63.5h1M208 63.5h1M210 63.5h1M211 63.5h1M215 63.5h1M226 63.5h1M228 63.5h1M256 63.5h1M192 64.5h1M195 64.5h1M208 64.5h1M224 64.5h1M255 64.5h1M182 65.5h1M190 65.5h1M192 65.5h1M195 65.5h1M206 65.5h1M208 65.5h1M209 65.5h1M216 65.5h1M218 65.5h1M224 65.5h1M254 65.5h1M184 66.5h1M205 66.5h1M220 66.5h1M183 67.5h1M184 67.5h1M203 67.5h1M204 67.5h1M210 67.5h1M224 67.5h1M255 67.5h1M179 68.5h1M186 68.5h1M203 68.5h1M205 68.5h1M255 68.5h1M183 69.5h1M207 69.5h1M210 69.5h1M230 69.5h1M256 69.5h1M260 69.5h1M180 70.5h1M183 70.5h1M185 70.5h1M201 70.5h1M205 70.5h1M253 70.5h1M254 70.5h1M180 71.5h1M181 71.5h1M186 71.5h1M199 71.5h1M200 71.5h1M204 71.5h1M205 71.5h1M208 71.5h1M218 71.5h1M219 71.5h1M182 72.5h1M184 72.5h1M207 72.5h1M230 72.5h1M254 72.5h1M178 73.5h1M197 73.5h1M202 73.5h1M203 73.5h1M226 73.5h1M228 73.5h1M231 73.5h1M206 74.5h1M208 74.5h1M220 74.5h1M232 74.5h1M251 74.5h1M255 74.5h1M212 75.5h1M215 75.5h1M218 75.5h1M221 75.5h1M224 75.5h1M226 75.5h1M188 76.5h1M191 76.5h1M197 76.5h1M200 76.5h1M202 76.5h1M228 76.5h1M230 76.5h1M231 76.5h1M251 76.5h1M253 76.5h1M255 76.5h1M185 77.5h1M194 77.5h1M197 77.5h1M203 77.5h1M205 77.5h1M206 77.5h1M225 77.5h1M230 77.5h1M233 77.5h1M251 77.5h1M189 78.5h1M191 78.5h1M201 78.5h1M209 78.5h1M228 78.5h1M231 78.5h1M250 78.5h1M252 78.5h1M254 78.5h1M186 79.5h1M190 79.5h1M195 79.5h1M197 79.5h1M198 79.5h1M199 79.5h1M202 79.5h1M204 79.5h1M205 79.5h1M211 79.5h1M212 79.5h1M224 79.5h1M227 79.5h1M230 79.5h1M233 79.5h1M250 79.5h1M252 79.5h1M258 79.5h1M186 80.5h1M188 80.5h1M191 80.5h1M196 80.5h1M198 80.5h1M200 80.5h1M203 80.5h1M204 80.5h1M206 80.5h1M213 80.5h1M216 80.5h1M218 80.5h1M248 80.5h1M185 81.5h1M198 81.5h1M199 81.5h1M212 81.5h1M216 81.5h1M221 81.5h1M233 81.5h1M236 81.5h1M252 81.5h1M199 82.5h1M201 82.5h1M207 82.5h1M209 82.5h1M214 82.5h1M232 82.5h1M233 82.5h1M194 83.5h1M196 83.5h1M205 83.5h1M207 83.5h1M210 83.5h1M211 83.5h1M224 83.5h1M239 83.5h1M240 83.5h1M243 83.5h1M204 84.5h1M205 84.5h1M217 84.5h1M220 84.5h1M227 84.5h1M242 84.5h1M183 85.5h1M189 85.5h1M192 85.5h1M206 85.5h1M209 85.5h1M212 85.5h1M183 86.5h1M188 86.5h1M189 86.5h1M195 86.5h1M202 86.5h1M204 86.5h1M212 86.5h1M214 86.5h1M236 86.5h1M240 86.5h1M245 86.5h1M194 87.5h1M198 87.5h1M204 87.5h1M228 87.5h1M242 87.5h1M244 87.5h1M188 88.5h1M189 88.5h1M190 88.5h1M203 88.5h1M204 88.5h1M207 88.5h1M186 89.5h1M205 89.5h1M224 89.5h1M225 89.5h1M186 90.5h1M188 90.5h1M194 90.5h1M203 90.5h1M205 90.5h1M207 90.5h1M211 90.5h1M214 90.5h1M220 90.5h1M222 90.5h1M182 91.5h1M183 91.5h1M184 91.5h1M195 91.5h1M208 91.5h1M211 91.5h1M215 91.5h1M245 91.5h1M183 92.5h1M200 92.5h1M209 92.5h1M216 92.5h1M204 93.5h1M207 93.5h1M215 93.5h1M216 93.5h1M254 93.5h1M178 94.5h1M227 94.5h1" stroke="#a0aef0" stroke-width="1" fill="none"/><path d="M237 38.5h1M238 38.5h1M240 38.5h1M241 38.5h1M242 38.5h1M236 39.5h1M238 39.5h1M239 39.5h1M240 39.5h1M241 39.5h1M242 39.5h1M238 40.5h1M239 40.5h1M243 40.5h1M244 40.5h1M233 41.5h1M235 41.5h1M238 41.5h1M247 41.5h1M236 42.5h1M237 42.5h1M244 42.5h1M245 42.5h1M246 42.5h1M247 42.5h1M234 43.5h1M235 43.5h1M245 43.5h1M234 44.5h1M246 44.5h1M249 44.5h1M233 45.5h1M234 45.5h1M247 45.5h1M248 45.5h1M248 46.5h1M249 46.5h1M229 47.5h1M232 47.5h1M249 47.5h1M229 48.5h1M231 48.5h1M248 48.5h1M231 49.5h1M232 49.5h1M229 51.5h1M231 51.5h1M249 51.5h1M250 51.5h1M229 52.5h1M230 52.5h1M229 53.5h1M230 53.5h1M251 53.5h1M250 54.5h1M230 55.5h1M251 55.5h1M230 56.5h1M250 56.5h1M252 56.5h1M230 57.5h1M231 57.5h1M229 58.5h1M231 58.5h1M251 58.5h1M229 59.5h1M231 59.5h1M250 59.5h1M252 59.5h1M231 60.5h1M251 60.5h1M231 61.5h1M251 61.5h1M203 62.5h1M204 62.5h1M231 62.5h1M251 62.5h1M200 63.5h1M205 63.5h1M206 63.5h1M250 63.5h1M251 63.5h1M198 64.5h1M200 64.5h1M201 64.5h1M204 64.5h1M205 64.5h1M231 64.5h1M232 64.5h1M251 64.5h1M252 64.5h1M196 65.5h1M198 65.5h1M202 65.5h1M198 66.5h1M202 66.5h1M231 66.5h1M250 66.5h1M251 66.5h1M252 66.5h1M194 67.5h1M199 67.5h1M200 67.5h1M201 67.5h1M231 67.5h1M232 67.5h1M250 67.5h1M251 67.5h1M252 67.5h1M191 68.5h1M192 68.5h1M194 68.5h1M196 68.5h1M197 68.5h1M200 68.5h1M231 68.5h1M232 68.5h1M233 68.5h1M251 68.5h1M189 69.5h1M191 69.5h1M192 69.5h1M195 69.5h1M199 69.5h1M251 69.5h1M252 69.5h1M191 70.5h1M196 70.5h1M198 70.5h1M233 70.5h1M189 71.5h1M195 71.5h1M198 71.5h1M233 71.5h1M186 72.5h1M187 72.5h1M188 72.5h1M191 72.5h1M193 72.5h1M196 72.5h1M232 72.5h1M234 72.5h1M249 72.5h1M250 72.5h1M251 72.5h1M180 73.5h1M182 73.5h1M185 73.5h1M186 73.5h1M188 73.5h1M189 73.5h1M196 73.5h1M232 73.5h1M234 73.5h1M250 73.5h1M251 73.5h1M183 74.5h1M185 74.5h1M186 74.5h1M187 74.5h1M191 74.5h1M192 74.5h1M193 74.5h1M232 74.5h1M233 74.5h1M234 74.5h1M248 74.5h1M249 74.5h1M178 75.5h1M179 75.5h1M180 75.5h1M181 75.5h1M182 75.5h1M187 75.5h1M235 75.5h1M236 75.5h1M249 75.5h1M250 75.5h1M178 76.5h1M179 76.5h1M180 76.5h1M185 76.5h1M186 76.5h1M234 76.5h1M248 76.5h1M180 77.5h1M181 77.5h1M182 77.5h1M184 77.5h1M236 77.5h1M237 77.5h1M247 77.5h1M248 77.5h1M249 77.5h1M179 78.5h1M180 78.5h1M182 78.5h1M183 78.5h1M184 78.5h1M245 78.5h1M246 78.5h1M178 79.5h1M180 79.5h1M237 79.5h1M238 79.5h1M240 79.5h1M243 79.5h1M245 79.5h1M246 79.5h1M247 79.5h1M180 80.5h1M182 80.5h1M238 80.5h1M240 80.5h1M241 80.5h1M245 80.5h1M178 81.5h1M182 81.5h1M239 81.5h1M240 81.5h1M241 81.5h1M244 81.5h1M245 81.5h1M178 82.5h1M180 82.5h1M243 82.5h1M182 83.5h1M179 84.5h1M180 84.5h1M181 84.5h1M178 85.5h1M179 86.5h1M181 86.5h1M178 87.5h1M179 87.5h1M179 88.5h1M180 88.5h1M179 89.5h1M181 89.5h1M178 90.5h1M179 90.5h1M180 90.5h1M181 90.5h1M179 91.5h1M179 93.5h1M180 94.5h1" stroke="#8898ec" stroke-width="1" fill="none"/><path d="M237 42.5h1M239 42.5h1M240 42.5h1M241 42.5h1M242 42.5h1M237 43.5h1M239 43.5h1M240 43.5h1M241 43.5h1M242 43.5h1M243 43.5h1M244 43.5h1M235 44.5h1M236 44.5h1M237 44.5h1M238 44.5h1M240 44.5h1M241 44.5h1M243 44.5h1M244 44.5h1M245 44.5h1M246 44.5h1M234 45.5h1M235 45.5h1M236 45.5h1M244 45.5h1M245 45.5h1M246 45.5h1M234 46.5h1M235 46.5h1M236 46.5h1M245 46.5h1M247 46.5h1M233 47.5h1M234 47.5h1M235 47.5h1M246 47.5h1M247 47.5h1M233 48.5h1M234 48.5h1M247 48.5h1M233 49.5h1M247 49.5h1M248 49.5h1M232 50.5h1M233 50.5h1M248 50.5h1M232 51.5h1M248 51.5h1M231 52.5h1M232 52.5h1M248 52.5h1M249 52.5h1M231 53.5h1M248 53.5h1M249 53.5h1M232 54.5h1M231 55.5h1M232 55.5h1M249 55.5h1M231 56.5h1M232 56.5h1M232 57.5h1M249 57.5h1M231 58.5h1M232 58.5h1M233 58.5h1M248 58.5h1M249 58.5h1M250 58.5h1M231 59.5h1M249 59.5h1M232 60.5h1M233 60.5h1M249 60.5h1M233 61.5h1M232 62.5h1M233 62.5h1M248 62.5h1M249 62.5h1M250 62.5h1M233 63.5h1M233 64.5h1M234 64.5h1M249 64.5h1M233 65.5h1M248 65.5h1M249 65.5h1M233 66.5h1M234 66.5h1M249 66.5h1M232 67.5h1M233 67.5h1M234 67.5h1M248 67.5h1M249 67.5h1M233 68.5h1M234 68.5h1M248 68.5h1M249 68.5h1M234 69.5h1M234 70.5h1M235 70.5h1M249 70.5h1M234 71.5h1M236 71.5h1M247 71.5h1M248 71.5h1M235 72.5h1M236 72.5h1M247 72.5h1M248 72.5h1M236 73.5h1M237 73.5h1M246 73.5h1M248 73.5h1M236 74.5h1M237 74.5h1M238 74.5h1M246 74.5h1M247 74.5h1M248 74.5h1M238 75.5h1M244 75.5h1M245 75.5h1M246 75.5h1M238 76.5h1M239 76.5h1M240 76.5h1M241 76.5h1M243 76.5h1M244 76.5h1M245 76.5h1M240 77.5h1M241 77.5h1M242 77.5h1M243 77.5h1M244 77.5h1M245 77.5h1M246 77.5h1M240 78.5h1M243 78.5h1M241 79.5h1" stroke="#6f88ea" stroke-width="1" fill="none"/><path d="M238 44.5h1M240 44.5h1M241 44.5h1M237 45.5h1M238 45.5h1M239 45.5h1M240 45.5h1M241 45.5h1M243 45.5h1M237 46.5h1M238 46.5h1M243 46.5h1M244 46.5h1M235 47.5h1M237 47.5h1M244 47.5h1M245 47.5h1M235 48.5h1M245 48.5h1M234 49.5h1M235 49.5h1M234 50.5h1M246 50.5h1M247 50.5h1M234 51.5h1M233 52.5h1M233 53.5h1M233 54.5h1M248 54.5h1M233 55.5h1M247 55.5h1M248 55.5h1M233 56.5h1M247 56.5h1M248 56.5h1M234 57.5h1M247 57.5h1M248 57.5h1M233 58.5h1M247 58.5h1M248 58.5h1M233 59.5h1M234 59.5h1M247 59.5h1M248 59.5h1M234 60.5h1M247 60.5h1M234 61.5h1M248 61.5h1M234 62.5h1M234 63.5h1M235 63.5h1M248 63.5h1M234 64.5h1M248 64.5h1M234 65.5h1M235 65.5h1M234 66.5h1M235 66.5h1M235 67.5h1M247 67.5h1M248 67.5h1M235 68.5h1M236 68.5h1M247 68.5h1M248 68.5h1M235 69.5h1M246 69.5h1M247 69.5h1M236 70.5h1M237 70.5h1M246 70.5h1M236 71.5h1M237 71.5h1M246 71.5h1M247 71.5h1M237 72.5h1M245 72.5h1M246 72.5h1M247 72.5h1M238 73.5h1M239 73.5h1M244 73.5h1M245 73.5h1M246 73.5h1M239 74.5h1M240 74.5h1M241 74.5h1M243 74.5h1M244 74.5h1M245 74.5h1M239 75.5h1M240 75.5h1M241 75.5h1M242 75.5h1M243 75.5h1M244 75.5h1M241 76.5h1M242 76.5h1" stroke="#68a8ef" stroke-width="1" fill="none"/><path d="M238 46.5h1M239 46.5h1M240 46.5h1M241 46.5h1M242 46.5h1M237 47.5h1M238 47.5h1M239 47.5h1M240 47.5h1M241 47.5h1M242 47.5h1M244 47.5h1M236 48.5h1M237 48.5h1M243 48.5h1M244 48.5h1M245 48.5h1M235 49.5h1M236 49.5h1M245 49.5h1M235 50.5h1M246 50.5h1M246 51.5h1M234 52.5h1M235 52.5h1M234 53.5h1M246 53.5h1M247 53.5h1M246 54.5h1M247 54.5h1M247 55.5h1M234 56.5h1M247 56.5h1M234 57.5h1M246 57.5h1M247 57.5h1M246 58.5h1M247 58.5h1M234 59.5h1M235 59.5h1M246 59.5h1M247 59.5h1M235 60.5h1M246 60.5h1M235 61.5h1M246 61.5h1M235 62.5h1M236 62.5h1M246 62.5h1M247 62.5h1M246 63.5h1M246 64.5h1M235 65.5h1M236 65.5h1M246 65.5h1M235 66.5h1M236 66.5h1M246 66.5h1M247 66.5h1M235 67.5h1M236 67.5h1M246 67.5h1M247 67.5h1M237 68.5h1M246 68.5h1M247 68.5h1M237 69.5h1M245 69.5h1M246 69.5h1M237 70.5h1M238 70.5h1M245 70.5h1M246 70.5h1M237 71.5h1M238 71.5h1M239 71.5h1M241 72.5h1M242 72.5h1M244 72.5h1M239 73.5h1M241 73.5h1M242 73.5h1M243 73.5h1M244 73.5h1M241 74.5h1" stroke="#68d0d8" stroke-width="1" fill="none"/><path d="M239 47.5h1M240 47.5h1M241 47.5h1M242 47.5h1M237 48.5h1M238 48.5h1M239 48.5h1M241 48.5h1M242 48.5h1M243 48.5h1M238 49.5h1M243 49.5h1M244 49.5h1M236 50.5h1M245 50.5h1M235 51.5h1M235 52.5h1M245 52.5h1M246 52.5h1M234 53.5h1M245 53.5h1M246 53.5h1M234 54.5h1M246 54.5h1M234 55.5h1M246 55.5h1M235 56.5h1M246 56.5h1M234 57.5h1M235 57.5h1M246 57.5h1M235 58.5h1M246 58.5h1M235 59.5h1M245 59.5h1M235 60.5h1M246 60.5h1M235 61.5h1M236 61.5h1M245 61.5h1M246 61.5h1M236 62.5h1M237 62.5h1M245 62.5h1M246 62.5h1M237 63.5h1M245 63.5h1M246 63.5h1M236 64.5h1M237 64.5h1M245 64.5h1M246 64.5h1M236 65.5h1M245 65.5h1M246 65.5h1M237 66.5h1M238 66.5h1M245 66.5h1M237 67.5h1M238 67.5h1M245 67.5h1M237 68.5h1M238 68.5h1M244 68.5h1M245 68.5h1M237 69.5h1M238 69.5h1M239 69.5h1M244 69.5h1M245 69.5h1M238 70.5h1M239 70.5h1M241 70.5h1M242 70.5h1M243 70.5h1M244 70.5h1M240 71.5h1M241 71.5h1M242 71.5h1M244 71.5h1M240 72.5h1M241 72.5h1M242 72.5h1" stroke="#80e090" stroke-width="1" fill="none"/><path d="M239 48.5h1M240 48.5h1M241 48.5h1M242 49.5h1M243 49.5h1M244 50.5h1M236 51.5h1M245 51.5h1M236 52.5h1M245 52.5h1M235 53.5h1M235 54.5h1M235 55.5h1M245 56.5h1M235 57.5h1M245 58.5h1M246 58.5h1M236 59.5h1M245 59.5h1M236 60.5h1M245 60.5h1M236 61.5h1M245 61.5h1M245 62.5h1M237 63.5h1M245 63.5h1M237 64.5h1M244 64.5h1M238 65.5h1M244 65.5h1M245 65.5h1M238 66.5h1M244 66.5h1M245 66.5h1M238 67.5h1M239 67.5h1M244 67.5h1M244 68.5h1M240 69.5h1M242 69.5h1M243 69.5h1M241 70.5h1M242 70.5h1" stroke="#98e050" stroke-width="1" fill="none"/></g></g><rect x="178.2" y="39.6" width="46.80000000000001" height="19.199999999999996" fill="none" stroke="#f8e8f8" stroke-width="4" stroke-opacity="0.7"/><rect x="178.2" y="58.8" width="32.30000000000001" height="17.700000000000003" fill="none" stroke="#f8e8f8" stroke-width="4" stroke-opacity="0.7"/><rect x="225" y="39.6" width="30.69999999999999" height="21.6" fill="none" stroke="#f8e8f8" stroke-width="4" stroke-opacity="0.7"/><rect x="226.3" y="61.2" width="28.5" height="12.099999999999994" fill="none" stroke="#f8e8f8" stroke-width="4" stroke-opacity="0.7"/><rect x="227.8" y="73.3" width="25.599999999999994" height="20.200000000000003" fill="none" stroke="#f8e8f8" stroke-width="4" stroke-opacity="0.7"/><rect x="178.2" y="39.6" width="46.80000000000001" height="19.199999999999996" fill="none" stroke="#b828d8" stroke-opacity="0.66" stroke-width="1.35"/><rect x="178.2" y="58.8" width="32.30000000000001" height="17.700000000000003" fill="none" stroke="#b828d8" stroke-opacity="0.66" stroke-width="1.35"/><rect x="225" y="39.6" width="30.69999999999999" height="21.6" fill="none" stroke="#b828d8" stroke-opacity="0.66" stroke-width="1.35"/><rect x="226.3" y="61.2" width="28.5" height="12.099999999999994" fill="none" stroke="#b828d8" stroke-opacity="0.66" stroke-width="1.35"/><rect x="227.8" y="73.3" width="25.599999999999994" height="20.200000000000003" fill="none" stroke="#b828d8" stroke-opacity="0.66" stroke-width="1.35"/><path d="M177 2.5H269V94.5" stroke="#7a7a7a" stroke-width="1" fill="none"/><path d="M177 2.5V94.5H269" stroke="#222" stroke-width="1.3" fill="none"/><path d="M177 94.5h-2.2M177.0 94.5v2.2M177 87.6h-1.2M183.9 94.5v1.2M177 83.5h-1.2M188.0 94.5v1.2M177 80.7h-1.2M190.8 94.5v1.2M177 78.4h-1.2M193.1 94.5v1.2M177 76.6h-1.2M194.9 94.5v1.2M177 75.1h-1.2M196.4 94.5v1.2M177 73.7h-1.2M197.8 94.5v1.2M177 72.6h-1.2M198.9 94.5v1.2M177 71.5h-2.2M200.0 94.5v2.2M177 64.6h-1.2M206.9 94.5v1.2M177 60.5h-1.2M211.0 94.5v1.2M177 57.7h-1.2M213.8 94.5v1.2M177 55.4h-1.2M216.1 94.5v1.2M177 53.6h-1.2M217.9 94.5v1.2M177 52.1h-1.2M219.4 94.5v1.2M177 50.7h-1.2M220.8 94.5v1.2M177 49.6h-1.2M221.9 94.5v1.2M177 48.5h-2.2M223.0 94.5v2.2M177 41.6h-1.2M229.9 94.5v1.2M177 37.5h-1.2M234.0 94.5v1.2M177 34.7h-1.2M236.8 94.5v1.2M177 32.4h-1.2M239.1 94.5v1.2M177 30.6h-1.2M240.9 94.5v1.2M177 29.1h-1.2M242.4 94.5v1.2M177 27.7h-1.2M243.8 94.5v1.2M177 26.6h-1.2M244.9 94.5v1.2M177 25.5h-2.2M246.0 94.5v2.2M177 18.6h-1.2M252.9 94.5v1.2M177 14.5h-1.2M257.0 94.5v1.2M177 11.7h-1.2M259.8 94.5v1.2M177 9.4h-1.2M262.1 94.5v1.2M177 7.6h-1.2M263.9 94.5v1.2M177 6.1h-1.2M265.4 94.5v1.2M177 4.7h-1.2M266.8 94.5v1.2M177 3.6h-1.2M267.9 94.5v1.2M177 2.5h-2.2M269 94.5v2.2" stroke="#222" stroke-width="0.7" fill="none"/><text x="174.5" y="96.7" font-size="5.6" font-weight="bold" text-anchor="end" textLength="6.5" lengthAdjust="spacingAndGlyphs">10<tspan font-size="4" dy="-2">0</tspan></text><text x="178.0" y="103.5" font-size="5.6" font-weight="bold" text-anchor="middle" textLength="6.5" lengthAdjust="spacingAndGlyphs">10<tspan font-size="4" dy="-2">0</tspan></text><text x="174.5" y="73.7" font-size="5.6" font-weight="bold" text-anchor="end" textLength="6.5" lengthAdjust="spacingAndGlyphs">10<tspan font-size="4" dy="-2">1</tspan></text><text x="201.0" y="103.5" font-size="5.6" font-weight="bold" text-anchor="middle" textLength="6.5" lengthAdjust="spacingAndGlyphs">10<tspan font-size="4" dy="-2">1</tspan></text><text x="174.5" y="50.7" font-size="5.6" font-weight="bold" text-anchor="end" textLength="6.5" lengthAdjust="spacingAndGlyphs">10<tspan font-size="4" dy="-2">2</tspan></text><text x="224.0" y="103.5" font-size="5.6" font-weight="bold" text-anchor="middle" textLength="6.5" lengthAdjust="spacingAndGlyphs">10<tspan font-size="4" dy="-2">2</tspan></text><text x="174.5" y="27.7" font-size="5.6" font-weight="bold" text-anchor="end" textLength="6.5" lengthAdjust="spacingAndGlyphs">10<tspan font-size="4" dy="-2">3</tspan></text><text x="247.0" y="103.5" font-size="5.6" font-weight="bold" text-anchor="middle" textLength="6.5" lengthAdjust="spacingAndGlyphs">10<tspan font-size="4" dy="-2">3</tspan></text><text x="174.5" y="4.7" font-size="5.6" font-weight="bold" text-anchor="end" textLength="6.5" lengthAdjust="spacingAndGlyphs">10<tspan font-size="4" dy="-2">4</tspan></text><text x="270.0" y="103.5" font-size="5.6" font-weight="bold" text-anchor="middle" textLength="6.5" lengthAdjust="spacingAndGlyphs">10<tspan font-size="4" dy="-2">4</tspan></text><text x="215" y="20.3" font-size="14.5" text-anchor="middle" stroke="#000" stroke-width="0.25">S310A</text><clipPath id="c3"><rect x="300" y="2.5" width="92" height="94.0"/></clipPath><g clip-path="url(#c3)"><g filter="url(#bl)"><path d="M299.6 99.0L297.6 95.0L297.1 92.0L297.2 89.0L297.7 86.0L298.7 83.0L300.0 80.9L301.5 79.3L303.5 78.1L308.0 77.1L309.5 76.4L319.5 66.6L324.0 63.2L328.0 60.7L334.5 57.9L338.0 57.2L342.0 56.9L343.5 56.3L344.5 54.7L347.2 47.0L348.9 43.5L351.7 40.0L355.0 37.5L359.0 36.1L364.0 36.1L368.5 37.7L371.9 40.5L374.7 44.5L376.3 49.5L376.7 53.5L376.4 65.5L375.9 68.5L374.8 71.5L371.3 77.5L369.4 80.0L367.5 81.3L366.0 81.6L364.5 81.4L362.5 80.3L353.2 72.5L351.4 70.0L347.5 63.1L346.0 61.6L345.0 61.4L343.5 62.6L337.9 72.0L333.2 77.5L329.0 81.4L324.5 84.9L313.5 91.5L308.3 99.0Z" fill="rgb(225, 230, 250)" fill-rule="evenodd"/><path d="M367.0 77.0L365.0 77.3L363.0 76.6L358.0 73.2L355.1 70.5L352.6 66.0L349.4 55.5L349.2 50.0L349.9 47.0L350.9 44.5L352.6 42.0L354.5 40.3L357.0 38.8L359.0 38.1L361.5 37.8L364.0 38.1L366.0 38.7L368.5 40.2L370.5 42.0L371.9 44.0L373.8 49.0L374.2 54.0L373.4 67.5L372.6 70.0L370.9 73.0L369.0 75.5L367.0 77.0ZM320.0 80.0L318.0 80.1L317.4 79.0L317.9 77.0L320.1 74.0L322.8 71.5L325.5 69.8L328.0 69.0L329.4 69.5L329.4 71.5L327.1 75.0L323.5 78.2L320.0 80.0ZM305.5 97.6L303.5 97.9L301.2 96.5L299.9 94.0L299.3 90.5L299.7 87.0L300.9 84.0L303.0 82.0L305.0 81.5L307.1 82.0L309.0 83.5L309.9 85.0L310.2 87.0L309.8 90.0L308.7 93.5L307.3 96.0L305.5 97.6Z" fill="rgb(190, 202, 246)" fill-rule="evenodd"/><path d="M365.0 73.5L363.0 73.2L360.5 72.1L358.3 70.5L356.5 68.5L354.3 64.0L351.2 53.5L351.3 48.5L352.8 44.5L356.0 41.2L360.0 39.6L364.0 39.8L368.0 41.8L370.9 45.5L372.2 50.0L372.3 55.0L371.5 64.5L370.9 67.5L370.0 69.6L368.5 71.7L367.0 72.9L365.0 73.5ZM304.5 94.0L303.5 94.0L302.5 93.1L301.6 90.0L302.5 86.8L303.5 85.8L304.5 85.5L306.1 86.5L306.9 89.5L306.2 92.5L304.5 94.0Z" fill="rgb(135, 160, 240)" fill-rule="evenodd"/><path d="M365.5 70.5L363.5 70.7L361.5 70.1L359.5 68.9L358.0 67.3L355.8 63.0L352.6 53.5L352.5 49.5L353.7 45.5L356.5 42.3L360.0 40.8L363.5 40.9L367.0 42.6L369.4 45.5L370.8 49.0L370.9 54.5L369.4 65.5L368.0 68.5L365.5 70.5Z" fill="rgb(85, 125, 236)" fill-rule="evenodd"/><path d="M365.0 68.2L363.5 68.5L362.0 68.2L360.5 67.4L359.0 65.9L356.4 61.0L353.6 53.5L353.4 49.5L354.5 46.0L357.0 43.2L360.0 41.8L363.5 41.9L366.5 43.5L368.6 46.0L369.9 49.5L369.9 54.5L368.2 63.5L367.0 66.5L365.0 68.2Z" fill="rgb(75, 180, 235)" fill-rule="evenodd"/><path d="M364.0 66.2L361.5 65.8L359.0 63.4L355.7 57.0L354.3 52.5L354.3 49.0L355.5 46.0L357.5 43.8L360.5 42.6L363.5 42.8L366.0 44.1L368.0 46.5L369.1 50.0L369.0 54.5L367.3 61.5L366.0 64.6L364.0 66.2Z" fill="rgb(90, 220, 150)" fill-rule="evenodd"/><path d="M363.5 63.6L361.5 63.3L359.0 60.8L356.2 56.0L355.1 52.0L355.1 49.0L356.1 46.5L358.0 44.4L360.5 43.4L363.0 43.5L365.5 44.7L367.4 47.0L368.3 50.0L368.2 54.0L367.0 58.5L365.4 62.0L363.5 63.6Z" fill="rgb(120, 230, 60)" fill-rule="evenodd"/><path d="M363.5 59.1L362.0 59.4L360.0 58.3L358.0 55.9L356.6 52.5L356.4 50.0L357.2 47.5L358.5 45.9L360.5 44.9L362.5 44.9L364.5 45.8L366.0 47.5L366.8 49.5L367.0 52.0L366.3 55.0L365.0 57.7L363.5 59.1Z" fill="rgb(185, 230, 35)" fill-rule="evenodd"/><path d="M363.0 56.3L361.5 56.4L360.0 55.6L358.7 54.0L357.9 52.0L357.8 50.0L358.2 48.5L359.5 47.0L361.0 46.3L362.5 46.4L364.0 47.2L365.0 48.5L365.5 50.0L365.6 52.0L365.0 54.0L364.0 55.5L363.0 56.3Z" fill="rgb(240, 205, 25)" fill-rule="evenodd"/><path d="M363.0 54.0L362.0 54.4L361.0 54.2L360.0 53.4L359.2 52.0L359.2 49.5L360.0 48.3L361.0 47.8L363.0 48.1L364.2 50.0L364.1 52.5L363.0 54.0Z" fill="rgb(245, 135, 25)" fill-rule="evenodd"/><path d="M362.0 52.7L361.0 52.4L360.3 51.0L360.5 49.8L361.5 49.1L362.5 49.4L363.1 50.5L362.8 52.0L362.0 52.7Z" fill="rgb(235, 65, 20)" fill-rule="evenodd"/></g><g filter="url(#bl2)"><path d="M377 30.5h1M369 33.5h1M353 34.5h1M364 34.5h1M363 35.5h1M325 36.5h1M354 36.5h1M367 37.5h1M371 37.5h1M328 38.5h1M350 38.5h1M353 38.5h1M367 38.5h1M368 38.5h1M352 39.5h1M353 39.5h1M354 39.5h1M369 39.5h1M373 39.5h1M347 40.5h1M349 40.5h1M353 40.5h1M338 41.5h1M372 42.5h1M374 42.5h1M376 42.5h1M344 43.5h1M373 43.5h1M375 43.5h1M377 43.5h1M346 44.5h1M350 44.5h1M373 44.5h1M347 45.5h1M349 45.5h1M344 46.5h1M321 47.5h1M338 47.5h1M345 47.5h1M348 47.5h1M378 48.5h1M341 49.5h1M345 49.5h1M376 49.5h1M336 50.5h1M378 50.5h1M379 50.5h1M384 50.5h1M334 51.5h1M377 51.5h1M382 51.5h1M337 52.5h1M339 52.5h1M309 53.5h1M332 53.5h1M378 53.5h1M379 53.5h1M336 54.5h1M337 54.5h1M339 54.5h1M345 54.5h1M346 54.5h1M376 54.5h1M379 54.5h1M332 55.5h1M338 55.5h1M340 55.5h1M345 55.5h1M347 55.5h1M348 55.5h1M376 55.5h1M334 56.5h1M345 56.5h1M346 56.5h1M377 56.5h1M378 56.5h1M320 57.5h1M347 57.5h1M324 58.5h1M332 58.5h1M347 58.5h1M331 59.5h1M339 59.5h1M347 59.5h1M348 59.5h1M377 59.5h1M321 60.5h1M330 60.5h1M333 60.5h1M335 60.5h1M342 60.5h1M376 60.5h1M377 60.5h1M316 61.5h1M319 61.5h1M335 61.5h1M341 61.5h1M308 62.5h1M311 62.5h1M325 62.5h1M328 62.5h1M329 62.5h1M333 62.5h1M342 62.5h1M345 62.5h1M376 62.5h1M313 63.5h1M325 63.5h1M327 63.5h1M331 63.5h1M336 63.5h1M338 63.5h1M343 63.5h1M348 63.5h1M349 63.5h1M322 64.5h1M324 64.5h1M325 64.5h1M336 64.5h1M337 64.5h1M376 64.5h1M377 64.5h1M381 64.5h1M325 65.5h1M327 65.5h1M339 65.5h1M344 65.5h1M349 65.5h1M375 65.5h1M378 65.5h1M380 65.5h1M310 66.5h1M316 66.5h1M317 66.5h1M319 66.5h1M340 66.5h1M377 66.5h1M379 66.5h1M315 67.5h1M320 67.5h1M337 67.5h1M342 67.5h1M343 67.5h1M346 67.5h1M376 67.5h1M377 67.5h1M378 67.5h1M382 67.5h1M316 68.5h1M319 68.5h1M336 68.5h1M350 68.5h1M375 68.5h1M317 69.5h1M318 69.5h1M337 69.5h1M341 69.5h1M342 69.5h1M352 69.5h1M377 69.5h1M317 70.5h1M319 70.5h1M353 70.5h1M374 70.5h1M313 71.5h1M314 71.5h1M315 71.5h1M316 71.5h1M317 71.5h1M337 71.5h1M338 71.5h1M340 71.5h1M353 71.5h1M375 71.5h1M310 72.5h1M315 72.5h1M344 72.5h1M348 72.5h1M354 72.5h1M311 73.5h1M348 73.5h1M373 73.5h1M303 74.5h1M336 74.5h1M338 74.5h1M342 74.5h1M354 74.5h1M356 74.5h1M374 74.5h1M312 75.5h1M332 75.5h1M350 75.5h1M371 75.5h1M373 75.5h1M306 76.5h1M308 76.5h1M309 76.5h1M314 76.5h1M331 76.5h1M357 76.5h1M332 77.5h1M343 77.5h1M345 77.5h1M311 78.5h1M329 78.5h1M330 78.5h1M340 78.5h1M353 78.5h1M372 78.5h1M306 79.5h1M307 79.5h1M329 79.5h1M330 79.5h1M336 79.5h1M339 79.5h1M343 79.5h1M346 79.5h1M363 79.5h1M365 79.5h1M302 80.5h1M328 80.5h1M329 80.5h1M330 80.5h1M350 80.5h1M362 80.5h1M366 80.5h1M325 81.5h1M352 81.5h1M353 81.5h1M361 81.5h1M364 81.5h1M366 81.5h1M370 81.5h1M324 82.5h1M325 82.5h1M332 82.5h1M333 82.5h1M335 82.5h1M369 82.5h1M326 83.5h1M334 83.5h1M346 83.5h1M358 83.5h1M360 83.5h1M363 83.5h1M367 83.5h1M323 84.5h1M324 84.5h1M327 84.5h1M336 84.5h1M341 84.5h1M319 85.5h1M320 85.5h1M321 85.5h1M329 85.5h1M335 85.5h1M320 86.5h1M368 86.5h1M314 87.5h1M348 87.5h1M366 87.5h1M367 87.5h1M321 88.5h1M322 88.5h1M324 88.5h1M338 88.5h1M313 89.5h1M318 89.5h1M351 89.5h1M325 90.5h1M313 91.5h1M317 91.5h1M319 91.5h1M342 91.5h1M312 92.5h1M320 92.5h1M323 92.5h1M328 92.5h1M325 93.5h1M329 94.5h1M353 94.5h1M313 96.5h1" stroke="#a0aef0" stroke-width="1" fill="none"/><path d="M359 38.5h1M360 38.5h1M362 38.5h1M363 38.5h1M364 38.5h1M367 38.5h1M354 39.5h1M355 39.5h1M356 39.5h1M358 39.5h1M362 39.5h1M363 39.5h1M364 39.5h1M354 40.5h1M355 40.5h1M356 40.5h1M357 40.5h1M358 40.5h1M366 40.5h1M368 40.5h1M354 41.5h1M355 41.5h1M367 41.5h1M368 41.5h1M369 41.5h1M370 41.5h1M353 42.5h1M355 42.5h1M370 42.5h1M371 42.5h1M353 43.5h1M371 44.5h1M350 45.5h1M351 45.5h1M373 45.5h1M351 46.5h1M349 47.5h1M350 47.5h1M374 47.5h1M349 48.5h1M350 48.5h1M351 48.5h1M373 48.5h1M374 48.5h1M373 49.5h1M374 49.5h1M374 50.5h1M374 51.5h1M373 52.5h1M374 52.5h1M348 53.5h1M350 53.5h1M351 53.5h1M375 53.5h1M351 54.5h1M373 54.5h1M349 55.5h1M350 55.5h1M351 55.5h1M374 55.5h1M351 56.5h1M373 56.5h1M374 56.5h1M351 57.5h1M373 57.5h1M351 58.5h1M373 58.5h1M374 58.5h1M349 59.5h1M351 59.5h1M352 59.5h1M351 60.5h1M352 60.5h1M373 60.5h1M374 60.5h1M350 61.5h1M351 61.5h1M372 61.5h1M350 62.5h1M332 63.5h1M351 63.5h1M372 63.5h1M373 63.5h1M375 63.5h1M335 64.5h1M353 64.5h1M354 64.5h1M332 65.5h1M334 65.5h1M353 65.5h1M354 65.5h1M372 65.5h1M374 65.5h1M327 66.5h1M328 66.5h1M330 66.5h1M331 66.5h1M335 66.5h1M353 66.5h1M374 66.5h1M324 67.5h1M327 67.5h1M330 67.5h1M331 67.5h1M332 67.5h1M336 67.5h1M352 67.5h1M372 67.5h1M333 68.5h1M335 68.5h1M371 68.5h1M372 68.5h1M373 68.5h1M374 68.5h1M325 69.5h1M326 69.5h1M327 69.5h1M329 69.5h1M331 69.5h1M353 69.5h1M354 69.5h1M355 69.5h1M371 69.5h1M372 69.5h1M323 70.5h1M324 70.5h1M325 70.5h1M329 70.5h1M333 70.5h1M334 70.5h1M335 70.5h1M353 70.5h1M354 70.5h1M355 70.5h1M356 70.5h1M357 70.5h1M371 70.5h1M320 71.5h1M321 71.5h1M323 71.5h1M324 71.5h1M325 71.5h1M328 71.5h1M330 71.5h1M332 71.5h1M358 71.5h1M370 71.5h1M321 72.5h1M323 72.5h1M327 72.5h1M330 72.5h1M357 72.5h1M358 72.5h1M371 72.5h1M320 73.5h1M322 73.5h1M323 73.5h1M324 73.5h1M326 73.5h1M331 73.5h1M357 73.5h1M359 73.5h1M360 73.5h1M361 73.5h1M368 73.5h1M369 73.5h1M370 73.5h1M319 74.5h1M320 74.5h1M325 74.5h1M327 74.5h1M330 74.5h1M332 74.5h1M358 74.5h1M359 74.5h1M361 74.5h1M363 74.5h1M364 74.5h1M367 74.5h1M371 74.5h1M315 75.5h1M316 75.5h1M318 75.5h1M321 75.5h1M323 75.5h1M326 75.5h1M327 75.5h1M330 75.5h1M358 75.5h1M362 75.5h1M363 75.5h1M364 75.5h1M315 76.5h1M318 76.5h1M321 76.5h1M329 76.5h1M362 76.5h1M363 76.5h1M364 76.5h1M366 76.5h1M367 76.5h1M315 77.5h1M317 77.5h1M321 77.5h1M322 77.5h1M324 77.5h1M325 77.5h1M326 77.5h1M329 77.5h1M363 77.5h1M365 77.5h1M367 77.5h1M368 77.5h1M369 77.5h1M314 78.5h1M316 78.5h1M320 78.5h1M321 78.5h1M322 78.5h1M323 78.5h1M325 78.5h1M364 78.5h1M366 78.5h1M314 79.5h1M316 79.5h1M317 79.5h1M321 79.5h1M322 79.5h1M323 79.5h1M324 79.5h1M368 79.5h1M303 80.5h1M314 80.5h1M316 80.5h1M317 80.5h1M318 80.5h1M319 80.5h1M320 80.5h1M322 80.5h1M323 80.5h1M324 80.5h1M303 81.5h1M308 81.5h1M309 81.5h1M316 81.5h1M317 81.5h1M319 81.5h1M321 81.5h1M325 81.5h1M303 82.5h1M304 82.5h1M305 82.5h1M306 82.5h1M307 82.5h1M310 82.5h1M311 82.5h1M315 82.5h1M318 82.5h1M319 82.5h1M322 82.5h1M303 83.5h1M306 83.5h1M307 83.5h1M308 83.5h1M309 83.5h1M310 83.5h1M312 83.5h1M313 83.5h1M319 83.5h1M321 83.5h1M303 84.5h1M305 84.5h1M309 84.5h1M312 84.5h1M314 84.5h1M315 84.5h1M316 84.5h1M320 84.5h1M301 85.5h1M302 85.5h1M306 85.5h1M307 85.5h1M308 85.5h1M310 85.5h1M312 85.5h1M314 85.5h1M315 85.5h1M317 85.5h1M302 86.5h1M309 86.5h1M310 86.5h1M311 86.5h1M309 87.5h1M310 87.5h1M308 88.5h1M311 88.5h1M312 88.5h1M308 89.5h1M309 89.5h1M311 89.5h1M301 90.5h1M308 90.5h1M310 90.5h1M311 90.5h1M301 92.5h1M307 92.5h1M308 92.5h1M309 92.5h1M307 93.5h1M308 93.5h1M306 94.5h1M309 94.5h1M301 95.5h1M303 95.5h1M304 95.5h1M306 95.5h1M308 95.5h1M302 96.5h1M303 96.5h1" stroke="#8898ec" stroke-width="1" fill="none"/><path d="M360 40.5h1M361 40.5h1M362 40.5h1M363 40.5h1M364 40.5h1M357 41.5h1M358 41.5h1M361 41.5h1M363 41.5h1M365 41.5h1M366 41.5h1M367 42.5h1M371 45.5h1M370 46.5h1M352 47.5h1M371 47.5h1M372 47.5h1M352 48.5h1M371 48.5h1M372 48.5h1M352 49.5h1M371 49.5h1M352 50.5h1M371 50.5h1M372 50.5h1M351 51.5h1M371 51.5h1M351 52.5h1M372 52.5h1M352 53.5h1M371 53.5h1M371 55.5h1M372 55.5h1M351 56.5h1M352 56.5h1M353 56.5h1M372 56.5h1M352 57.5h1M353 57.5h1M371 57.5h1M352 58.5h1M353 58.5h1M371 58.5h1M352 59.5h1M353 59.5h1M354 59.5h1M353 60.5h1M354 60.5h1M370 60.5h1M355 61.5h1M370 61.5h1M371 61.5h1M354 62.5h1M355 62.5h1M371 62.5h1M370 63.5h1M355 64.5h1M356 64.5h1M371 64.5h1M356 65.5h1M370 65.5h1M371 65.5h1M356 66.5h1M371 66.5h1M355 67.5h1M356 67.5h1M369 67.5h1M356 68.5h1M357 68.5h1M369 68.5h1M358 69.5h1M360 69.5h1M369 69.5h1M358 70.5h1M360 70.5h1M367 70.5h1M368 70.5h1M359 71.5h1M361 71.5h1M362 71.5h1M364 71.5h1M365 71.5h1M366 71.5h1M367 71.5h1M369 71.5h1M370 71.5h1M361 72.5h1M362 72.5h1M364 72.5h1M365 72.5h1M366 72.5h1M368 72.5h1M369 72.5h1M362 73.5h1M363 73.5h1M366 73.5h1M367 73.5h1M303 86.5h1M304 86.5h1M303 87.5h1M304 87.5h1M305 87.5h1M306 87.5h1M307 87.5h1M303 88.5h1M304 88.5h1M305 88.5h1M306 88.5h1M307 88.5h1M302 89.5h1M303 89.5h1M304 89.5h1M305 89.5h1M307 89.5h1M302 90.5h1M303 90.5h1M304 90.5h1M305 90.5h1M307 90.5h1M302 91.5h1M303 91.5h1M304 91.5h1M306 91.5h1M302 92.5h1M304 92.5h1M305 92.5h1M306 92.5h1M303 93.5h1M305 93.5h1M306 93.5h1M304 94.5h1" stroke="#6f88ea" stroke-width="1" fill="none"/><path d="M360 41.5h1M361 41.5h1M362 41.5h1M363 41.5h1M364 41.5h1M357 42.5h1M358 42.5h1M360 42.5h1M361 42.5h1M363 42.5h1M364 42.5h1M366 42.5h1M357 43.5h1M366 43.5h1M367 43.5h1M356 44.5h1M368 44.5h1M355 45.5h1M354 46.5h1M369 46.5h1M353 47.5h1M354 47.5h1M370 47.5h1M353 48.5h1M370 48.5h1M370 49.5h1M371 49.5h1M353 50.5h1M370 50.5h1M352 51.5h1M353 51.5h1M370 51.5h1M371 51.5h1M353 52.5h1M371 52.5h1M353 53.5h1M370 54.5h1M371 54.5h1M370 55.5h1M371 55.5h1M370 56.5h1M354 57.5h1M355 57.5h1M354 58.5h1M369 58.5h1M370 58.5h1M355 59.5h1M356 59.5h1M369 59.5h1M370 59.5h1M356 60.5h1M370 60.5h1M356 61.5h1M370 61.5h1M356 62.5h1M369 62.5h1M370 62.5h1M356 63.5h1M357 63.5h1M368 63.5h1M369 63.5h1M357 64.5h1M358 64.5h1M368 64.5h1M369 64.5h1M357 65.5h1M358 65.5h1M369 65.5h1M357 66.5h1M358 66.5h1M367 66.5h1M368 66.5h1M358 67.5h1M359 67.5h1M360 67.5h1M367 67.5h1M359 68.5h1M360 68.5h1M361 68.5h1M362 68.5h1M366 68.5h1M368 68.5h1M361 69.5h1M362 69.5h1M364 69.5h1M365 69.5h1M366 69.5h1M367 69.5h1M361 70.5h1M363 70.5h1M365 70.5h1M366 70.5h1M364 71.5h1" stroke="#68a8ef" stroke-width="1" fill="none"/><path d="M359 42.5h1M360 42.5h1M362 42.5h1M364 42.5h1M358 43.5h1M359 43.5h1M365 43.5h1M366 43.5h1M356 44.5h1M357 44.5h1M366 44.5h1M355 45.5h1M355 46.5h1M368 46.5h1M369 46.5h1M354 47.5h1M368 47.5h1M369 47.5h1M354 48.5h1M355 48.5h1M369 48.5h1M354 49.5h1M369 49.5h1M353 50.5h1M370 50.5h1M354 51.5h1M369 51.5h1M354 52.5h1M369 52.5h1M369 53.5h1M354 54.5h1M369 54.5h1M370 54.5h1M354 55.5h1M355 55.5h1M370 55.5h1M354 56.5h1M355 56.5h1M369 56.5h1M369 57.5h1M355 58.5h1M356 58.5h1M368 58.5h1M369 58.5h1M356 59.5h1M357 59.5h1M368 59.5h1M369 59.5h1M357 60.5h1M368 60.5h1M357 61.5h1M367 61.5h1M368 61.5h1M357 62.5h1M358 62.5h1M368 62.5h1M357 63.5h1M358 63.5h1M359 63.5h1M368 63.5h1M367 64.5h1M359 65.5h1M367 65.5h1M368 65.5h1M359 66.5h1M360 66.5h1M361 66.5h1M364 66.5h1M365 66.5h1M366 66.5h1M367 66.5h1M361 67.5h1M362 67.5h1M363 67.5h1M365 67.5h1M367 67.5h1M363 68.5h1M364 68.5h1M366 68.5h1" stroke="#68d0d8" stroke-width="1" fill="none"/><path d="M359 43.5h1M360 43.5h1M361 43.5h1M362 43.5h1M363 43.5h1M364 43.5h1M358 44.5h1M359 44.5h1M365 44.5h1M366 44.5h1M357 45.5h1M367 45.5h1M356 46.5h1M367 46.5h1M368 46.5h1M355 47.5h1M356 47.5h1M368 47.5h1M355 48.5h1M368 48.5h1M355 49.5h1M368 49.5h1M369 49.5h1M355 50.5h1M368 50.5h1M369 50.5h1M355 51.5h1M368 51.5h1M369 51.5h1M354 52.5h1M355 52.5h1M369 52.5h1M355 53.5h1M369 53.5h1M355 54.5h1M355 55.5h1M356 55.5h1M356 56.5h1M368 56.5h1M369 56.5h1M356 57.5h1M357 57.5h1M368 57.5h1M356 58.5h1M357 58.5h1M368 58.5h1M357 59.5h1M367 59.5h1M368 59.5h1M357 60.5h1M358 60.5h1M367 60.5h1M358 61.5h1M359 61.5h1M366 61.5h1M367 61.5h1M358 62.5h1M359 62.5h1M360 62.5h1M366 62.5h1M360 63.5h1M361 63.5h1M365 63.5h1M366 63.5h1M367 63.5h1M361 64.5h1M362 64.5h1M363 64.5h1M365 64.5h1M366 64.5h1M362 65.5h1M363 65.5h1M365 65.5h1M366 65.5h1" stroke="#80e090" stroke-width="1" fill="none"/><path d="M358 44.5h1M360 44.5h1M362 44.5h1M366 45.5h1M357 46.5h1M367 47.5h1M355 48.5h1M368 48.5h1M355 49.5h1M368 49.5h1M355 50.5h1M355 52.5h1M368 52.5h1M356 54.5h1M356 55.5h1M368 55.5h1M357 56.5h1M357 57.5h1M357 58.5h1M358 58.5h1M358 59.5h1M366 59.5h1M358 60.5h1M359 60.5h1M366 60.5h1M360 61.5h1M366 61.5h1M360 62.5h1M361 62.5h1M365 62.5h1M361 63.5h1M362 63.5h1M363 63.5h1M364 63.5h1M365 63.5h1M362 64.5h1" stroke="#98e050" stroke-width="1" fill="none"/></g></g><rect x="300.8" y="35.7" width="48.69999999999999" height="16.9" fill="none" stroke="#f8e8f8" stroke-width="4" stroke-opacity="0.7"/><rect x="300.8" y="52.6" width="28.899999999999977" height="20.6" fill="none" stroke="#f8e8f8" stroke-width="4" stroke-opacity="0.7"/><rect x="349.5" y="35.7" width="30.19999999999999" height="21.099999999999994" fill="none" stroke="#f8e8f8" stroke-width="4" stroke-opacity="0.7"/><rect x="350.8" y="56.8" width="27.899999999999977" height="16.0" fill="none" stroke="#f8e8f8" stroke-width="4" stroke-opacity="0.7"/><rect x="352.2" y="72.8" width="26.100000000000023" height="21.5" fill="none" stroke="#f8e8f8" stroke-width="4" stroke-opacity="0.7"/><rect x="300.8" y="35.7" width="48.69999999999999" height="16.9" fill="none" stroke="#b828d8" stroke-opacity="0.66" stroke-width="1.35"/><rect x="300.8" y="52.6" width="28.899999999999977" height="20.6" fill="none" stroke="#b828d8" stroke-opacity="0.66" stroke-width="1.35"/><rect x="349.5" y="35.7" width="30.19999999999999" height="21.099999999999994" fill="none" stroke="#b828d8" stroke-opacity="0.66" stroke-width="1.35"/><rect x="350.8" y="56.8" width="27.899999999999977" height="16.0" fill="none" stroke="#b828d8" stroke-opacity="0.66" stroke-width="1.35"/><rect x="352.2" y="72.8" width="26.100000000000023" height="21.5" fill="none" stroke="#b828d8" stroke-opacity="0.66" stroke-width="1.35"/><path d="M300 2.5H392V96.5" stroke="#7a7a7a" stroke-width="1" fill="none"/><path d="M300 2.5V96.5H392" stroke="#222" stroke-width="1.3" fill="none"/><path d="M300 96.5h-2.2M300.0 96.5v2.2M300 89.4h-1.2M306.9 96.5v1.2M300 85.3h-1.2M311.0 96.5v1.2M300 82.4h-1.2M313.8 96.5v1.2M300 80.1h-1.2M316.1 96.5v1.2M300 78.2h-1.2M317.9 96.5v1.2M300 76.6h-1.2M319.4 96.5v1.2M300 75.3h-1.2M320.8 96.5v1.2M300 74.1h-1.2M321.9 96.5v1.2M300 73.0h-2.2M323.0 96.5v2.2M300 65.9h-1.2M329.9 96.5v1.2M300 61.8h-1.2M334.0 96.5v1.2M300 58.9h-1.2M336.8 96.5v1.2M300 56.6h-1.2M339.1 96.5v1.2M300 54.7h-1.2M340.9 96.5v1.2M300 53.1h-1.2M342.4 96.5v1.2M300 51.8h-1.2M343.8 96.5v1.2M300 50.6h-1.2M344.9 96.5v1.2M300 49.5h-2.2M346.0 96.5v2.2M300 42.4h-1.2M352.9 96.5v1.2M300 38.3h-1.2M357.0 96.5v1.2M300 35.4h-1.2M359.8 96.5v1.2M300 33.1h-1.2M362.1 96.5v1.2M300 31.2h-1.2M363.9 96.5v1.2M300 29.6h-1.2M365.4 96.5v1.2M300 28.3h-1.2M366.8 96.5v1.2M300 27.1h-1.2M367.9 96.5v1.2M300 26.0h-2.2M369.0 96.5v2.2M300 18.9h-1.2M375.9 96.5v1.2M300 14.8h-1.2M380.0 96.5v1.2M300 11.9h-1.2M382.8 96.5v1.2M300 9.6h-1.2M385.1 96.5v1.2M300 7.7h-1.2M386.9 96.5v1.2M300 6.1h-1.2M388.4 96.5v1.2M300 4.8h-1.2M389.8 96.5v1.2M300 3.6h-1.2M390.9 96.5v1.2M300 2.5h-2.2M392 96.5v2.2" stroke="#222" stroke-width="0.7" fill="none"/><text x="297.5" y="98.7" font-size="5.6" font-weight="bold" text-anchor="end" textLength="6.5" lengthAdjust="spacingAndGlyphs">10<tspan font-size="4" dy="-2">0</tspan></text><text x="301.0" y="105.5" font-size="5.6" font-weight="bold" text-anchor="middle" textLength="6.5" lengthAdjust="spacingAndGlyphs">10<tspan font-size="4" dy="-2">0</tspan></text><text x="297.5" y="75.2" font-size="5.6" font-weight="bold" text-anchor="end" textLength="6.5" lengthAdjust="spacingAndGlyphs">10<tspan font-size="4" dy="-2">1</tspan></text><text x="324.0" y="105.5" font-size="5.6" font-weight="bold" text-anchor="middle" textLength="6.5" lengthAdjust="spacingAndGlyphs">10<tspan font-size="4" dy="-2">1</tspan></text><text x="297.5" y="51.7" font-size="5.6" font-weight="bold" text-anchor="end" textLength="6.5" lengthAdjust="spacingAndGlyphs">10<tspan font-size="4" dy="-2">2</tspan></text><text x="347.0" y="105.5" font-size="5.6" font-weight="bold" text-anchor="middle" textLength="6.5" lengthAdjust="spacingAndGlyphs">10<tspan font-size="4" dy="-2">2</tspan></text><text x="297.5" y="28.2" font-size="5.6" font-weight="bold" text-anchor="end" textLength="6.5" lengthAdjust="spacingAndGlyphs">10<tspan font-size="4" dy="-2">3</tspan></text><text x="370.0" y="105.5" font-size="5.6" font-weight="bold" text-anchor="middle" textLength="6.5" lengthAdjust="spacingAndGlyphs">10<tspan font-size="4" dy="-2">3</tspan></text><text x="297.5" y="4.7" font-size="5.6" font-weight="bold" text-anchor="end" textLength="6.5" lengthAdjust="spacingAndGlyphs">10<tspan font-size="4" dy="-2">4</tspan></text><text x="393.0" y="105.5" font-size="5.6" font-weight="bold" text-anchor="middle" textLength="6.5" lengthAdjust="spacingAndGlyphs">10<tspan font-size="4" dy="-2">4</tspan></text><text x="342.5" y="20.3" font-size="14.5" text-anchor="middle" stroke="#000" stroke-width="0.25">Control</text><clipPath id="c4"><rect x="423.5" y="2.5" width="91.5" height="94.0"/></clipPath><g clip-path="url(#c4)"><g filter="url(#bl)"><path d="M491.5 79.6L489.5 79.9L487.0 79.0L478.9 72.0L476.3 67.5L472.6 56.0L472.5 52.5L473.1 49.0L474.2 45.5L475.8 42.5L478.0 39.8L480.5 37.7L483.5 36.3L486.0 35.7L489.0 35.7L491.5 36.3L494.0 37.5L496.5 39.4L498.4 41.5L499.8 44.0L500.8 46.5L501.6 50.0L501.6 55.5L500.9 65.5L500.2 68.5L498.9 71.5L496.7 74.5L493.5 78.2L491.5 79.6ZM426.2 99.0L424.5 98.2L423.1 96.5L422.2 94.5L421.7 92.0L422.2 86.5L423.1 84.0L424.5 82.1L426.0 80.9L427.5 80.4L432.0 80.6L433.8 80.0L442.6 70.0L447.0 66.3L451.5 63.5L454.5 62.1L457.5 61.3L460.0 61.3L461.4 62.0L462.3 64.0L461.6 67.5L459.4 71.5L456.3 75.5L451.6 80.0L446.5 83.8L442.5 86.0L436.0 88.8L434.5 90.6L431.0 96.8L429.5 98.2L427.8 99.0Z" fill="rgb(225, 230, 250)" fill-rule="evenodd"/><path d="M491.5 75.0L489.5 75.5L487.0 74.8L483.5 72.6L480.9 70.0L478.6 65.5L475.9 55.0L475.9 49.0L477.6 44.0L479.4 41.5L481.5 39.7L483.5 38.6L486.0 37.9L490.5 38.3L494.5 40.5L497.6 44.5L499.2 49.5L499.2 55.0L497.6 67.5L496.5 70.0L495.1 72.0L491.5 75.0ZM427.5 94.1L426.5 94.0L425.5 93.1L424.7 90.0L425.5 86.9L426.5 85.9L427.5 85.5L428.5 85.8L429.5 86.8L430.1 89.5L429.3 92.5L428.5 93.6L427.5 94.1Z" fill="rgb(190, 202, 246)" fill-rule="evenodd"/><path d="M491.0 71.5L489.0 71.9L487.0 71.5L485.0 70.4L482.9 68.5L480.6 64.0L477.9 54.5L477.7 49.5L479.2 45.0L482.0 41.6L484.0 40.4L486.0 39.8L490.0 40.1L493.4 42.0L495.8 45.0L497.3 49.5L497.4 55.0L495.6 65.5L494.0 69.0L492.5 70.6L491.0 71.5Z" fill="rgb(135, 160, 240)" fill-rule="evenodd"/><path d="M489.0 69.0L487.5 68.8L486.0 68.1L484.5 66.8L483.2 65.0L480.3 58.0L479.1 52.5L479.4 48.5L481.0 44.8L483.5 42.4L487.0 41.2L490.5 41.8L493.4 44.0L495.2 47.0L496.1 51.0L495.6 56.5L493.5 64.9L491.5 67.9L489.0 69.0Z" fill="rgb(85, 125, 236)" fill-rule="evenodd"/><path d="M489.5 66.1L487.0 66.0L484.5 63.7L481.6 58.0L480.2 52.5L480.5 48.5L481.9 45.5L484.0 43.5L487.0 42.4L490.0 42.9L492.3 44.5L494.0 47.0L494.9 50.5L494.7 55.0L493.1 61.0L491.5 64.4L489.5 66.1Z" fill="rgb(75, 180, 235)" fill-rule="evenodd"/><path d="M489.0 63.5L487.0 63.4L484.5 61.0L482.2 56.5L481.2 52.5L481.3 49.5L482.4 46.5L484.5 44.4L487.0 43.5L489.5 43.9L491.5 45.1L493.2 47.5L494.0 50.5L493.8 54.5L492.7 58.5L491.0 61.8L489.0 63.5Z" fill="rgb(90, 220, 150)" fill-rule="evenodd"/><path d="M488.0 61.0L486.0 60.2L484.2 58.0L482.8 55.0L482.2 51.5L482.5 49.0L483.5 46.8L485.5 45.1L487.5 44.6L489.5 45.1L491.5 46.7L492.7 49.0L493.0 51.5L492.7 54.5L491.5 57.9L490.0 60.1L488.0 61.0Z" fill="rgb(120, 230, 60)" fill-rule="evenodd"/><path d="M488.5 56.6L487.0 56.6L486.0 55.9L485.0 54.5L484.3 52.5L484.2 50.5L484.7 49.0L485.5 47.9L487.0 47.1L488.5 47.2L489.5 47.8L490.5 49.0L490.9 50.5L491.0 52.5L490.5 54.3L489.5 55.9L488.5 56.6Z" fill="rgb(185, 230, 35)" fill-rule="evenodd"/></g><g filter="url(#bl2)"><path d="M485 31.5h1M472 32.5h1M483 33.5h1M493 33.5h1M497 33.5h1M482 35.5h1M488 35.5h1M472 36.5h1M485 36.5h1M486 36.5h1M478 37.5h1M479 37.5h1M482 37.5h1M485 37.5h1M492 37.5h1M506 37.5h1M497 38.5h1M475 39.5h1M478 39.5h1M481 39.5h1M495 39.5h1M497 39.5h1M498 39.5h1M448 40.5h1M468 40.5h1M495 40.5h1M496 40.5h1M476 41.5h1M501 41.5h1M471 42.5h1M477 42.5h1M499 42.5h1M450 43.5h1M499 43.5h1M500 43.5h1M474 44.5h1M471 45.5h1M475 45.5h1M499 45.5h1M500 45.5h1M502 45.5h1M473 46.5h1M500 46.5h1M458 47.5h1M502 47.5h1M454 48.5h1M500 48.5h1M437 49.5h1M462 49.5h1M473 49.5h1M500 49.5h1M473 50.5h1M474 50.5h1M502 50.5h1M503 50.5h1M464 51.5h1M468 51.5h1M473 51.5h1M504 51.5h1M457 52.5h1M465 52.5h1M466 52.5h1M501 52.5h1M427 53.5h1M438 53.5h1M457 53.5h1M467 53.5h1M468 53.5h1M469 53.5h1M461 54.5h1M462 54.5h1M464 54.5h1M471 54.5h1M501 54.5h1M505 54.5h1M464 55.5h1M467 55.5h1M468 55.5h1M474 55.5h1M501 55.5h1M503 55.5h1M509 55.5h1M446 56.5h1M458 56.5h1M470 56.5h1M473 56.5h1M452 57.5h1M456 57.5h1M464 57.5h1M500 57.5h1M443 58.5h1M450 58.5h1M452 58.5h1M454 58.5h1M456 58.5h1M471 58.5h1M472 58.5h1M436 59.5h1M451 59.5h1M455 59.5h1M457 59.5h1M446 60.5h1M450 60.5h1M463 60.5h1M469 60.5h1M470 60.5h1M475 60.5h1M501 60.5h1M457 61.5h1M460 61.5h1M469 61.5h1M501 61.5h1M453 62.5h1M461 62.5h1M466 62.5h1M470 62.5h1M473 62.5h1M443 63.5h1M446 63.5h1M454 63.5h1M460 63.5h1M462 63.5h1M463 63.5h1M466 63.5h1M473 63.5h1M474 63.5h1M429 64.5h1M440 64.5h1M448 64.5h1M452 64.5h1M453 64.5h1M455 64.5h1M456 64.5h1M458 64.5h1M463 64.5h1M465 64.5h1M466 64.5h1M475 64.5h1M476 64.5h1M500 64.5h1M504 64.5h1M435 65.5h1M438 65.5h1M446 65.5h1M449 65.5h1M451 65.5h1M452 65.5h1M453 65.5h1M458 65.5h1M465 65.5h1M472 65.5h1M474 65.5h1M501 65.5h1M445 66.5h1M449 66.5h1M450 66.5h1M456 66.5h1M466 66.5h1M501 66.5h1M449 67.5h1M460 67.5h1M463 67.5h1M470 67.5h1M473 67.5h1M475 67.5h1M476 67.5h1M477 67.5h1M499 67.5h1M447 68.5h1M448 68.5h1M449 68.5h1M450 68.5h1M452 68.5h1M454 68.5h1M455 68.5h1M456 68.5h1M461 68.5h1M462 68.5h1M470 68.5h1M472 68.5h1M476 68.5h1M478 68.5h1M500 68.5h1M439 69.5h1M441 69.5h1M443 69.5h1M448 69.5h1M450 69.5h1M453 69.5h1M455 69.5h1M457 69.5h1M460 69.5h1M468 69.5h1M499 69.5h1M438 70.5h1M447 70.5h1M448 70.5h1M449 70.5h1M451 70.5h1M452 70.5h1M456 70.5h1M460 70.5h1M473 70.5h1M475 70.5h1M476 70.5h1M498 70.5h1M441 71.5h1M444 71.5h1M446 71.5h1M458 71.5h1M459 71.5h1M465 71.5h1M478 71.5h1M497 71.5h1M440 72.5h1M441 72.5h1M442 72.5h1M453 72.5h1M457 72.5h1M458 72.5h1M461 72.5h1M463 72.5h1M470 72.5h1M473 72.5h1M498 72.5h1M431 73.5h1M436 73.5h1M438 73.5h1M444 73.5h1M454 73.5h1M457 73.5h1M467 73.5h1M479 73.5h1M480 73.5h1M496 73.5h1M436 74.5h1M440 74.5h1M441 74.5h1M444 74.5h1M455 74.5h1M456 74.5h1M460 74.5h1M480 74.5h1M483 74.5h1M495 74.5h1M496 74.5h1M497 74.5h1M435 75.5h1M436 75.5h1M439 75.5h1M440 75.5h1M441 75.5h1M453 75.5h1M455 75.5h1M463 75.5h1M466 75.5h1M478 75.5h1M484 75.5h1M495 75.5h1M498 75.5h1M432 76.5h1M436 76.5h1M438 76.5h1M441 76.5h1M443 76.5h1M450 76.5h1M457 76.5h1M458 76.5h1M461 76.5h1M471 76.5h1M485 76.5h1M493 76.5h1M494 76.5h1M433 77.5h1M440 77.5h1M442 77.5h1M443 77.5h1M451 77.5h1M458 77.5h1M491 77.5h1M493 77.5h1M424 78.5h1M439 78.5h1M441 78.5h1M442 78.5h1M451 78.5h1M463 78.5h1M466 78.5h1M476 78.5h1M478 78.5h1M484 78.5h1M485 78.5h1M487 78.5h1M495 78.5h1M430 79.5h1M431 79.5h1M433 79.5h1M435 79.5h1M436 79.5h1M439 79.5h1M440 79.5h1M442 79.5h1M445 79.5h1M455 79.5h1M475 79.5h1M486 79.5h1M487 79.5h1M489 79.5h1M491 79.5h1M492 79.5h1M494 79.5h1M427 80.5h1M435 80.5h1M439 80.5h1M447 80.5h1M454 80.5h1M480 80.5h1M490 80.5h1M425 81.5h1M426 81.5h1M431 81.5h1M433 81.5h1M435 81.5h1M437 81.5h1M441 81.5h1M444 81.5h1M447 81.5h1M453 81.5h1M454 81.5h1M456 81.5h1M462 81.5h1M481 81.5h1M492 81.5h1M429 82.5h1M435 82.5h1M438 82.5h1M439 82.5h1M441 82.5h1M443 82.5h1M445 82.5h1M447 82.5h1M449 82.5h1M425 83.5h1M427 83.5h1M429 83.5h1M431 83.5h1M445 83.5h1M454 83.5h1M455 83.5h1M472 83.5h1M476 83.5h1M492 83.5h1M494 83.5h1M495 83.5h1M435 84.5h1M439 84.5h1M442 84.5h1M448 84.5h1M449 84.5h1M456 84.5h1M459 84.5h1M470 84.5h1M486 84.5h1M494 84.5h1M424 85.5h1M444 85.5h1M449 85.5h1M450 85.5h1M432 86.5h1M435 86.5h1M438 86.5h1M441 86.5h1M443 86.5h1M449 86.5h1M450 86.5h1M456 86.5h1M489 86.5h1M442 87.5h1M443 87.5h1M444 87.5h1M448 87.5h1M489 87.5h1M436 88.5h1M443 88.5h1M445 88.5h1M433 89.5h1M434 89.5h1M435 89.5h1M436 89.5h1M437 89.5h1M432 90.5h1M433 90.5h1M439 90.5h1M446 90.5h1M450 90.5h1M456 90.5h1M496 90.5h1M432 91.5h1M437 91.5h1M444 91.5h1M432 92.5h1M434 92.5h1M436 92.5h1M437 92.5h1M438 92.5h1M491 92.5h1M436 93.5h1M476 94.5h1M424 95.5h1M433 95.5h1M431 96.5h1M439 96.5h1M468 96.5h1" stroke="#a0aef0" stroke-width="1" fill="none"/><path d="M487 37.5h1M484 38.5h1M487 38.5h1M490 38.5h1M492 38.5h1M484 39.5h1M485 39.5h1M487 39.5h1M490 39.5h1M491 39.5h1M494 39.5h1M480 40.5h1M482 40.5h1M483 40.5h1M492 40.5h1M494 41.5h1M479 42.5h1M480 42.5h1M479 43.5h1M480 43.5h1M496 43.5h1M496 44.5h1M497 44.5h1M477 45.5h1M479 45.5h1M496 45.5h1M497 45.5h1M476 46.5h1M477 46.5h1M478 46.5h1M497 46.5h1M477 47.5h1M478 47.5h1M478 48.5h1M499 48.5h1M478 49.5h1M500 49.5h1M477 50.5h1M498 50.5h1M476 51.5h1M477 51.5h1M476 52.5h1M477 52.5h1M498 52.5h1M499 52.5h1M475 53.5h1M498 53.5h1M499 53.5h1M476 54.5h1M477 54.5h1M500 54.5h1M475 55.5h1M477 55.5h1M498 55.5h1M499 55.5h1M475 56.5h1M476 56.5h1M498 56.5h1M476 57.5h1M478 57.5h1M498 57.5h1M475 58.5h1M476 58.5h1M497 58.5h1M499 58.5h1M477 59.5h1M497 59.5h1M498 59.5h1M500 59.5h1M497 60.5h1M499 60.5h1M478 61.5h1M479 61.5h1M497 61.5h1M499 61.5h1M478 62.5h1M479 62.5h1M497 62.5h1M498 62.5h1M499 62.5h1M477 63.5h1M478 63.5h1M480 63.5h1M499 63.5h1M478 64.5h1M479 64.5h1M499 64.5h1M478 65.5h1M498 65.5h1M478 66.5h1M499 66.5h1M481 67.5h1M497 67.5h1M498 67.5h1M499 67.5h1M479 68.5h1M480 68.5h1M482 68.5h1M496 68.5h1M497 68.5h1M498 68.5h1M480 69.5h1M482 69.5h1M483 69.5h1M495 69.5h1M496 69.5h1M498 69.5h1M451 70.5h1M481 70.5h1M483 70.5h1M484 70.5h1M495 70.5h1M496 70.5h1M449 71.5h1M452 71.5h1M482 71.5h1M493 71.5h1M495 71.5h1M448 72.5h1M450 72.5h1M452 72.5h1M483 72.5h1M485 72.5h1M491 72.5h1M492 72.5h1M493 72.5h1M495 72.5h1M448 73.5h1M483 73.5h1M485 73.5h1M486 73.5h1M487 73.5h1M488 73.5h1M489 73.5h1M490 73.5h1M492 73.5h1M447 74.5h1M449 74.5h1M450 74.5h1M486 74.5h1M487 74.5h1M491 74.5h1M495 74.5h1M447 75.5h1M485 75.5h1M487 75.5h1M491 75.5h1M492 75.5h1M443 76.5h1M448 76.5h1M488 76.5h1M443 77.5h1M448 77.5h1M490 77.5h1M444 78.5h1M446 78.5h1M428 83.5h1M428 84.5h1M425 85.5h1M427 85.5h1M429 85.5h1M431 85.5h1M425 86.5h1M426 86.5h1M430 86.5h1M431 86.5h1M424 87.5h1M426 87.5h1M427 87.5h1M429 87.5h1M425 88.5h1M427 88.5h1M432 88.5h1M427 89.5h1M429 89.5h1M430 89.5h1M432 89.5h1M427 90.5h1M430 90.5h1M425 91.5h1M426 91.5h1M427 91.5h1M428 91.5h1M430 91.5h1M425 92.5h1M424 93.5h1M425 93.5h1M426 93.5h1M428 93.5h1M430 93.5h1M431 93.5h1M424 94.5h1M427 94.5h1M428 94.5h1M427 95.5h1M428 95.5h1" stroke="#8898ec" stroke-width="1" fill="none"/><path d="M486 40.5h1M487 40.5h1M489 40.5h1M490 40.5h1M483 41.5h1M485 41.5h1M486 41.5h1M487 41.5h1M491 41.5h1M483 42.5h1M484 42.5h1M491 42.5h1M492 42.5h1M493 42.5h1M481 43.5h1M482 43.5h1M483 43.5h1M494 43.5h1M495 43.5h1M480 44.5h1M481 44.5h1M495 44.5h1M479 45.5h1M480 45.5h1M481 45.5h1M495 45.5h1M479 46.5h1M480 46.5h1M496 46.5h1M478 47.5h1M479 47.5h1M495 47.5h1M497 47.5h1M478 48.5h1M497 48.5h1M478 49.5h1M479 49.5h1M496 49.5h1M477 50.5h1M478 50.5h1M479 50.5h1M496 50.5h1M497 50.5h1M478 51.5h1M479 51.5h1M497 51.5h1M477 52.5h1M478 52.5h1M497 52.5h1M478 54.5h1M496 54.5h1M497 54.5h1M498 54.5h1M479 55.5h1M496 55.5h1M497 55.5h1M478 56.5h1M480 56.5h1M497 56.5h1M479 57.5h1M480 57.5h1M496 57.5h1M497 57.5h1M479 58.5h1M480 58.5h1M496 58.5h1M497 58.5h1M479 59.5h1M480 59.5h1M481 59.5h1M479 60.5h1M480 60.5h1M481 60.5h1M496 60.5h1M480 61.5h1M481 61.5h1M495 61.5h1M496 61.5h1M479 62.5h1M480 62.5h1M481 62.5h1M496 62.5h1M480 63.5h1M481 63.5h1M495 63.5h1M496 63.5h1M482 64.5h1M494 64.5h1M495 64.5h1M481 65.5h1M482 65.5h1M483 65.5h1M493 65.5h1M494 65.5h1M496 65.5h1M481 66.5h1M482 66.5h1M483 66.5h1M484 66.5h1M493 66.5h1M495 66.5h1M496 66.5h1M483 67.5h1M484 67.5h1M492 67.5h1M493 67.5h1M495 67.5h1M485 68.5h1M486 68.5h1M492 68.5h1M493 68.5h1M494 68.5h1M483 69.5h1M485 69.5h1M487 69.5h1M488 69.5h1M490 69.5h1M491 69.5h1M492 69.5h1M493 69.5h1M485 70.5h1M486 70.5h1M487 70.5h1M488 70.5h1M489 70.5h1M491 70.5h1M492 70.5h1M487 71.5h1M488 71.5h1M489 71.5h1M490 71.5h1M491 71.5h1M488 72.5h1M489 72.5h1M492 72.5h1" stroke="#6f88ea" stroke-width="1" fill="none"/><path d="M485 42.5h1M487 42.5h1M488 42.5h1M489 42.5h1M490 42.5h1M483 43.5h1M484 43.5h1M485 43.5h1M489 43.5h1M490 43.5h1M491 43.5h1M492 43.5h1M483 44.5h1M492 44.5h1M493 44.5h1M494 44.5h1M481 45.5h1M482 45.5h1M493 45.5h1M481 46.5h1M493 46.5h1M494 46.5h1M495 46.5h1M480 47.5h1M494 47.5h1M495 47.5h1M481 48.5h1M495 48.5h1M480 49.5h1M495 49.5h1M480 50.5h1M495 50.5h1M496 50.5h1M495 51.5h1M496 51.5h1M495 52.5h1M496 52.5h1M479 53.5h1M496 53.5h1M479 54.5h1M495 54.5h1M496 54.5h1M480 55.5h1M495 55.5h1M496 55.5h1M480 56.5h1M495 56.5h1M480 57.5h1M481 57.5h1M495 57.5h1M481 58.5h1M494 58.5h1M495 58.5h1M481 59.5h1M482 59.5h1M494 59.5h1M495 59.5h1M481 60.5h1M494 60.5h1M495 60.5h1M481 61.5h1M482 61.5h1M493 61.5h1M494 61.5h1M495 61.5h1M482 62.5h1M483 62.5h1M484 62.5h1M493 62.5h1M482 63.5h1M483 63.5h1M484 63.5h1M493 63.5h1M494 63.5h1M483 64.5h1M484 64.5h1M492 64.5h1M493 64.5h1M483 65.5h1M484 65.5h1M485 65.5h1M486 65.5h1M491 65.5h1M484 66.5h1M485 66.5h1M486 66.5h1M487 66.5h1M490 66.5h1M491 66.5h1M492 66.5h1M488 67.5h1M489 67.5h1M491 67.5h1M492 67.5h1M486 68.5h1M487 68.5h1M488 68.5h1M489 68.5h1M491 68.5h1M492 68.5h1M489 69.5h1" stroke="#68a8ef" stroke-width="1" fill="none"/><path d="M488 42.5h1M486 43.5h1M487 43.5h1M488 43.5h1M489 43.5h1M490 43.5h1M484 44.5h1M485 44.5h1M486 44.5h1M489 44.5h1M491 44.5h1M482 45.5h1M483 45.5h1M484 45.5h1M492 45.5h1M482 46.5h1M483 46.5h1M493 46.5h1M481 47.5h1M493 47.5h1M482 48.5h1M494 48.5h1M480 49.5h1M481 49.5h1M494 49.5h1M495 49.5h1M480 50.5h1M481 50.5h1M494 50.5h1M495 50.5h1M481 51.5h1M494 51.5h1M480 52.5h1M481 52.5h1M494 52.5h1M495 52.5h1M481 53.5h1M494 53.5h1M481 54.5h1M494 54.5h1M495 54.5h1M481 55.5h1M494 55.5h1M495 55.5h1M494 56.5h1M481 57.5h1M482 57.5h1M482 58.5h1M483 58.5h1M494 58.5h1M482 59.5h1M483 59.5h1M493 59.5h1M482 60.5h1M483 60.5h1M493 60.5h1M483 61.5h1M484 61.5h1M492 61.5h1M493 61.5h1M484 62.5h1M485 62.5h1M486 62.5h1M491 62.5h1M492 62.5h1M484 63.5h1M485 63.5h1M486 63.5h1M489 63.5h1M491 63.5h1M492 63.5h1M485 64.5h1M486 64.5h1M487 64.5h1M489 64.5h1M490 64.5h1M491 64.5h1M485 65.5h1M486 65.5h1M487 65.5h1M488 65.5h1M489 65.5h1M490 65.5h1M491 65.5h1M487 66.5h1M489 66.5h1M490 66.5h1" stroke="#68d0d8" stroke-width="1" fill="none"/><path d="M485 44.5h1M486 44.5h1M487 44.5h1M488 44.5h1M489 44.5h1M490 44.5h1M483 45.5h1M484 45.5h1M485 45.5h1M486 45.5h1M489 45.5h1M490 45.5h1M491 45.5h1M492 45.5h1M483 46.5h1M484 46.5h1M492 46.5h1M482 47.5h1M483 47.5h1M491 47.5h1M493 47.5h1M493 48.5h1M482 49.5h1M493 49.5h1M494 49.5h1M481 50.5h1M482 50.5h1M493 50.5h1M481 51.5h1M482 51.5h1M493 51.5h1M481 52.5h1M482 52.5h1M493 52.5h1M494 52.5h1M482 53.5h1M493 53.5h1M494 53.5h1M482 54.5h1M482 55.5h1M483 55.5h1M493 55.5h1M482 56.5h1M483 56.5h1M493 56.5h1M482 57.5h1M483 57.5h1M484 57.5h1M492 57.5h1M493 57.5h1M483 58.5h1M492 58.5h1M493 58.5h1M483 59.5h1M484 59.5h1M485 59.5h1M491 59.5h1M492 59.5h1M484 60.5h1M485 60.5h1M486 60.5h1M490 60.5h1M491 60.5h1M492 60.5h1M485 61.5h1M486 61.5h1M487 61.5h1M488 61.5h1M489 61.5h1M490 61.5h1M491 61.5h1M486 62.5h1M487 62.5h1M488 62.5h1M489 62.5h1M490 62.5h1M491 62.5h1M487 63.5h1M488 63.5h1M489 63.5h1M490 63.5h1" stroke="#80e090" stroke-width="1" fill="none"/><path d="M485 45.5h1M486 45.5h1M487 45.5h1M488 45.5h1M489 45.5h1M490 45.5h1M484 46.5h1M485 46.5h1M484 47.5h1M492 47.5h1M483 48.5h1M492 48.5h1M483 49.5h1M482 50.5h1M492 50.5h1M493 50.5h1M482 51.5h1M482 52.5h1M483 52.5h1M493 52.5h1M483 53.5h1M483 54.5h1M493 54.5h1M483 55.5h1M492 56.5h1M484 58.5h1M485 58.5h1M491 58.5h1M485 59.5h1M486 59.5h1M490 59.5h1M491 59.5h1M486 60.5h1M487 60.5h1M488 60.5h1M489 60.5h1M488 61.5h1M489 61.5h1" stroke="#98e050" stroke-width="1" fill="none"/></g></g><rect x="423.8" y="35.3" width="49.099999999999966" height="17.300000000000004" fill="none" stroke="#f8e8f8" stroke-width="4" stroke-opacity="0.7"/><rect x="423.8" y="52.6" width="28.5" height="20.6" fill="none" stroke="#f8e8f8" stroke-width="4" stroke-opacity="0.7"/><rect x="472.9" y="35.3" width="29.80000000000001" height="21.5" fill="none" stroke="#f8e8f8" stroke-width="4" stroke-opacity="0.7"/><rect x="473.8" y="56.8" width="27.899999999999977" height="16.0" fill="none" stroke="#f8e8f8" stroke-width="4" stroke-opacity="0.7"/><rect x="475.4" y="72.8" width="25.900000000000034" height="21.5" fill="none" stroke="#f8e8f8" stroke-width="4" stroke-opacity="0.7"/><rect x="423.8" y="35.3" width="49.099999999999966" height="17.300000000000004" fill="none" stroke="#b828d8" stroke-opacity="0.66" stroke-width="1.35"/><rect x="423.8" y="52.6" width="28.5" height="20.6" fill="none" stroke="#b828d8" stroke-opacity="0.66" stroke-width="1.35"/><rect x="472.9" y="35.3" width="29.80000000000001" height="21.5" fill="none" stroke="#b828d8" stroke-opacity="0.66" stroke-width="1.35"/><rect x="473.8" y="56.8" width="27.899999999999977" height="16.0" fill="none" stroke="#b828d8" stroke-opacity="0.66" stroke-width="1.35"/><rect x="475.4" y="72.8" width="25.900000000000034" height="21.5" fill="none" stroke="#b828d8" stroke-opacity="0.66" stroke-width="1.35"/><path d="M423.5 2.5H515V96.5" stroke="#7a7a7a" stroke-width="1" fill="none"/><path d="M423.5 2.5V96.5H515" stroke="#222" stroke-width="1.3" fill="none"/><path d="M423.5 96.5h-2.2M423.5 96.5v2.2M423.5 89.4h-1.2M430.4 96.5v1.2M423.5 85.3h-1.2M434.4 96.5v1.2M423.5 82.4h-1.2M437.3 96.5v1.2M423.5 80.1h-1.2M439.5 96.5v1.2M423.5 78.2h-1.2M441.3 96.5v1.2M423.5 76.6h-1.2M442.8 96.5v1.2M423.5 75.3h-1.2M444.2 96.5v1.2M423.5 74.1h-1.2M445.3 96.5v1.2M423.5 73.0h-2.2M446.4 96.5v2.2M423.5 65.9h-1.2M453.3 96.5v1.2M423.5 61.8h-1.2M457.3 96.5v1.2M423.5 58.9h-1.2M460.1 96.5v1.2M423.5 56.6h-1.2M462.4 96.5v1.2M423.5 54.7h-1.2M464.2 96.5v1.2M423.5 53.1h-1.2M465.7 96.5v1.2M423.5 51.8h-1.2M467.0 96.5v1.2M423.5 50.6h-1.2M468.2 96.5v1.2M423.5 49.5h-2.2M469.2 96.5v2.2M423.5 42.4h-1.2M476.1 96.5v1.2M423.5 38.3h-1.2M480.2 96.5v1.2M423.5 35.4h-1.2M483.0 96.5v1.2M423.5 33.1h-1.2M485.2 96.5v1.2M423.5 31.2h-1.2M487.1 96.5v1.2M423.5 29.6h-1.2M488.6 96.5v1.2M423.5 28.3h-1.2M489.9 96.5v1.2M423.5 27.1h-1.2M491.1 96.5v1.2M423.5 26.0h-2.2M492.1 96.5v2.2M423.5 18.9h-1.2M499.0 96.5v1.2M423.5 14.8h-1.2M503.0 96.5v1.2M423.5 11.9h-1.2M505.9 96.5v1.2M423.5 9.6h-1.2M508.1 96.5v1.2M423.5 7.7h-1.2M509.9 96.5v1.2M423.5 6.1h-1.2M511.5 96.5v1.2M423.5 4.8h-1.2M512.8 96.5v1.2M423.5 3.6h-1.2M514.0 96.5v1.2M423.5 2.5h-2.2M515 96.5v2.2" stroke="#222" stroke-width="0.7" fill="none"/><text x="421.0" y="98.7" font-size="5.6" font-weight="bold" text-anchor="end" textLength="6.5" lengthAdjust="spacingAndGlyphs">10<tspan font-size="4" dy="-2">0</tspan></text><text x="424.5" y="105.5" font-size="5.6" font-weight="bold" text-anchor="middle" textLength="6.5" lengthAdjust="spacingAndGlyphs">10<tspan font-size="4" dy="-2">0</tspan></text><text x="421.0" y="75.2" font-size="5.6" font-weight="bold" text-anchor="end" textLength="6.5" lengthAdjust="spacingAndGlyphs">10<tspan font-size="4" dy="-2">1</tspan></text><text x="447.4" y="105.5" font-size="5.6" font-weight="bold" text-anchor="middle" textLength="6.5" lengthAdjust="spacingAndGlyphs">10<tspan font-size="4" dy="-2">1</tspan></text><text x="421.0" y="51.7" font-size="5.6" font-weight="bold" text-anchor="end" textLength="6.5" lengthAdjust="spacingAndGlyphs">10<tspan font-size="4" dy="-2">2</tspan></text><text x="470.2" y="105.5" font-size="5.6" font-weight="bold" text-anchor="middle" textLength="6.5" lengthAdjust="spacingAndGlyphs">10<tspan font-size="4" dy="-2">2</tspan></text><text x="421.0" y="28.2" font-size="5.6" font-weight="bold" text-anchor="end" textLength="6.5" lengthAdjust="spacingAndGlyphs">10<tspan font-size="4" dy="-2">3</tspan></text><text x="493.1" y="105.5" font-size="5.6" font-weight="bold" text-anchor="middle" textLength="6.5" lengthAdjust="spacingAndGlyphs">10<tspan font-size="4" dy="-2">3</tspan></text><text x="421.0" y="4.7" font-size="5.6" font-weight="bold" text-anchor="end" textLength="6.5" lengthAdjust="spacingAndGlyphs">10<tspan font-size="4" dy="-2">4</tspan></text><text x="516.0" y="105.5" font-size="5.6" font-weight="bold" text-anchor="middle" textLength="6.5" lengthAdjust="spacingAndGlyphs">10<tspan font-size="4" dy="-2">4</tspan></text><text x="466" y="20.3" font-size="14.5" text-anchor="middle" stroke="#000" stroke-width="0.25">3SA</text><clipPath id="c5"><rect x="53.5" y="122" width="92.0" height="91.5"/></clipPath><g clip-path="url(#c5)"><g filter="url(#bl)"><path d="M107.3 216.0L106.6 211.5L107.1 204.5L108.1 200.0L110.3 193.5L110.7 191.0L110.2 188.0L107.6 180.5L106.5 176.0L106.2 171.5L106.8 166.5L109.2 159.5L112.5 154.3L114.5 152.2L117.0 150.5L119.0 149.6L121.5 149.3L124.5 150.0L127.5 151.6L130.2 154.0L132.4 157.0L134.1 160.5L135.3 164.5L135.9 168.5L136.0 173.0L132.3 196.5L130.5 203.0L128.4 207.0L125.5 210.8L122.5 213.5L118.5 216.0ZM50.5 177.2L55.5 173.9L61.5 171.2L68.5 169.2L76.0 168.1L82.0 168.3L87.0 169.4L91.2 171.5L94.2 174.5L95.4 177.5L94.8 181.0L92.3 184.5L85.0 190.1L83.0 192.5L82.4 195.0L81.9 202.5L80.9 206.5L78.7 211.5L75.4 216.0Z" fill="rgb(225, 230, 250)" fill-rule="evenodd"/><path d="M110.8 216.0L109.6 215.0L108.9 213.5L108.8 209.0L110.2 203.5L114.0 194.5L114.4 191.5L113.8 187.0L110.8 175.0L110.5 171.0L110.8 167.5L112.3 162.5L115.0 157.9L118.0 155.1L120.0 154.3L121.5 154.3L124.5 155.3L127.7 158.0L130.0 161.5L131.7 166.0L132.2 172.5L131.7 176.5L130.0 183.5L130.1 193.0L128.3 200.5L124.9 207.0L122.4 210.0L119.5 212.6L116.5 214.7L113.6 216.0ZM50.5 182.0L54.0 178.9L58.5 176.4L64.5 174.4L70.5 173.3L76.5 173.0L81.5 173.6L85.5 175.1L88.1 177.5L88.6 180.0L87.7 182.5L85.4 185.0L80.5 189.1L78.8 191.5L78.4 193.5L78.3 202.5L76.5 208.5L73.6 213.0L70.1 216.0ZM55.0 216.0L52.6 214.0L50.5 211.5Z" fill="rgb(190, 202, 246)" fill-rule="evenodd"/><path d="M114.0 214.1L112.5 214.2L111.2 213.5L110.5 212.4L110.2 210.5L110.4 208.0L111.3 204.5L115.6 195.5L116.5 192.5L116.3 189.5L113.9 176.0L114.0 169.0L115.1 164.5L117.0 161.0L119.0 159.2L121.5 158.7L123.5 159.6L125.7 162.0L127.3 165.0L128.2 168.0L128.4 174.0L126.5 185.0L128.2 190.5L128.3 194.5L126.4 201.0L123.3 206.5L118.5 211.6L116.0 213.3L114.0 214.1ZM50.5 190.8L51.6 186.5L53.9 183.0L57.5 180.1L62.0 178.1L68.5 176.7L75.0 176.5L80.0 177.7L81.5 178.8L82.3 180.0L82.3 181.5L81.7 183.0L77.0 187.9L75.7 190.0L75.2 192.5L75.7 200.0L75.1 204.0L73.3 208.5L69.9 212.5L67.5 214.1L64.5 215.0L61.5 215.2L59.0 214.6L56.5 213.4L54.0 211.4L51.9 208.5L50.5 205.5Z" fill="rgb(135, 160, 240)" fill-rule="evenodd"/><path d="M114.5 212.6L113.0 212.6L112.1 212.0L111.5 210.7L111.4 209.0L112.7 203.5L117.1 195.0L118.1 192.0L118.1 190.0L115.9 178.5L115.8 171.0L116.5 167.5L117.9 164.5L119.5 162.8L121.0 162.5L122.5 163.1L123.8 164.5L124.8 166.5L125.7 169.5L125.9 175.5L124.5 186.5L124.8 188.0L126.8 191.5L127.0 195.0L125.7 200.0L122.8 205.5L118.5 210.3L116.5 211.7L114.5 212.6ZM64.0 212.5L60.5 212.4L57.5 211.1L55.0 208.9L53.1 206.0L52.0 202.5L51.7 199.0L52.1 195.5L53.3 190.5L54.4 187.5L55.9 185.0L57.9 183.0L60.0 181.6L63.0 180.4L66.5 179.6L70.5 179.3L73.5 179.7L75.9 181.0L76.3 182.5L75.8 184.0L73.2 188.0L72.6 190.0L72.5 192.5L73.4 199.0L72.8 204.0L71.5 207.0L69.5 209.6L67.0 211.5L64.0 212.5Z" fill="rgb(85, 125, 236)" fill-rule="evenodd"/><path d="M115.5 211.2L114.0 211.4L113.0 210.9L112.3 209.5L112.3 207.5L113.8 202.5L118.9 193.5L120.1 190.5L119.9 189.0L118.5 185.9L117.6 182.5L116.9 174.5L117.3 171.0L118.3 168.0L119.5 166.3L121.0 165.8L122.0 166.3L123.2 168.0L124.4 173.0L124.2 179.0L122.5 188.5L123.0 189.5L125.6 192.0L126.2 194.0L126.1 196.0L124.8 200.5L122.3 205.0L119.0 208.9L115.5 211.2ZM63.0 210.5L61.0 210.4L59.0 209.7L57.0 208.2L55.5 206.4L53.8 202.0L53.6 199.5L53.9 196.5L56.1 190.0L57.5 187.3L59.0 185.5L61.0 184.0L63.5 182.9L66.0 182.4L68.4 182.5L70.0 183.3L70.5 184.5L69.8 190.0L71.4 197.5L71.4 202.0L70.2 205.5L68.4 208.0L66.0 209.7L63.0 210.5Z" fill="rgb(75, 180, 235)" fill-rule="evenodd"/><path d="M121.0 184.9L120.0 184.7L119.0 182.8L118.1 177.0L118.8 171.5L119.5 169.9L120.5 169.2L121.5 169.6L122.4 171.0L123.2 175.5L122.5 181.5L122.0 183.3L121.0 184.9ZM64.5 208.5L61.5 208.7L58.5 207.3L56.3 204.5L55.2 200.5L55.6 196.5L57.5 192.1L60.5 188.5L62.0 187.5L63.5 187.1L65.1 187.5L66.5 189.5L69.2 195.5L70.0 199.5L69.7 202.5L68.7 205.0L67.0 207.1L64.5 208.5ZM116.0 210.1L114.0 210.2L113.2 209.0L113.1 206.5L114.2 203.0L116.6 198.5L120.5 192.9L122.0 191.8L123.5 191.8L124.9 193.0L125.4 195.0L125.2 197.5L124.2 200.5L122.7 203.5L120.5 206.5L118.0 208.9L116.0 210.1Z" fill="rgb(90, 220, 150)" fill-rule="evenodd"/><path d="M120.5 178.9L120.0 177.0L120.5 175.2L121.0 175.6L121.1 177.0L121.0 178.3L120.5 178.9ZM64.5 207.0L62.0 207.3L59.5 206.1L57.8 204.0L57.0 201.5L57.0 198.5L58.0 195.6L60.0 193.1L62.0 192.1L64.0 192.3L66.0 193.8L67.5 196.0L68.4 198.5L68.5 201.5L67.7 204.0L66.5 205.7L64.5 207.0ZM116.5 209.0L115.0 209.3L113.9 208.0L114.0 205.5L115.0 202.5L117.2 198.5L120.0 194.8L122.0 193.3L123.5 193.4L124.4 194.5L124.6 196.0L124.3 198.5L123.4 201.0L120.2 206.0L118.5 207.7L116.5 209.0Z" fill="rgb(120, 230, 60)" fill-rule="evenodd"/><path d="M64.0 205.1L62.5 205.2L61.0 204.7L59.9 203.5L59.1 201.5L59.1 199.5L59.7 198.0L61.0 196.5L62.5 195.9L64.0 196.1L65.3 197.0L66.3 198.5L66.7 200.0L66.2 203.0L65.0 204.5L64.0 205.1ZM117.0 207.1L115.7 207.0L115.3 206.0L115.5 204.0L116.5 201.5L120.0 196.7L121.5 195.7L122.5 195.8L123.1 196.5L123.2 198.0L122.1 201.5L119.5 205.3L117.0 207.1Z" fill="rgb(185, 230, 35)" fill-rule="evenodd"/><path d="M63.5 203.6L62.5 203.6L61.5 203.1L60.6 201.5L61.0 199.1L62.5 197.9L64.0 198.2L65.2 200.0L65.0 202.1L63.5 203.6ZM118.5 204.6L117.5 205.0L117.0 204.6L117.2 202.5L119.0 199.5L121.0 198.1L121.6 199.0L121.2 201.0L120.0 203.1L118.5 204.6Z" fill="rgb(240, 205, 25)" fill-rule="evenodd"/><path d="M63.5 201.7L63.0 202.0L62.2 201.5L62.0 200.5L62.5 199.8L63.6 200.0L63.9 201.0L63.5 201.7Z" fill="rgb(245, 135, 25)" fill-rule="evenodd"/></g><g filter="url(#bl2)"><path d="M123 138.5h1M128 141.5h1M108 142.5h1M131 142.5h1M116 143.5h1M125 143.5h1M109 144.5h1M109 145.5h1M113 146.5h1M120 146.5h1M123 146.5h1M118 147.5h1M125 147.5h1M131 147.5h1M133 147.5h1M137 147.5h1M109 148.5h1M120 148.5h1M123 148.5h1M129 148.5h1M118 149.5h1M121 149.5h1M130 149.5h1M112 150.5h1M117 150.5h1M122 150.5h1M130 150.5h1M144 150.5h1M110 151.5h1M116 151.5h1M117 151.5h1M127 151.5h1M129 151.5h1M136 151.5h1M112 152.5h1M114 152.5h1M118 152.5h1M123 152.5h1M124 152.5h1M126 152.5h1M127 152.5h1M128 152.5h1M112 153.5h1M113 153.5h1M116 153.5h1M130 153.5h1M104 154.5h1M109 154.5h1M112 154.5h1M128 154.5h1M95 155.5h1M107 155.5h1M130 155.5h1M106 156.5h1M111 156.5h1M128 156.5h1M131 156.5h1M90 157.5h1M101 157.5h1M110 157.5h1M111 157.5h1M112 157.5h1M132 157.5h1M88 158.5h1M103 158.5h1M112 158.5h1M131 158.5h1M133 158.5h1M136 158.5h1M105 159.5h1M109 159.5h1M111 159.5h1M134 159.5h1M72 160.5h1M85 160.5h1M92 160.5h1M138 160.5h1M78 161.5h1M90 161.5h1M132 161.5h1M136 161.5h1M62 162.5h1M76 162.5h1M78 162.5h1M80 162.5h1M90 162.5h1M136 162.5h1M94 163.5h1M105 163.5h1M109 163.5h1M75 164.5h1M91 164.5h1M105 164.5h1M106 164.5h1M109 164.5h1M60 165.5h1M61 165.5h1M64 165.5h1M82 165.5h1M84 165.5h1M88 165.5h1M91 165.5h1M107 165.5h1M109 165.5h1M57 166.5h1M85 166.5h1M86 166.5h1M97 166.5h1M103 166.5h1M104 166.5h1M106 166.5h1M134 166.5h1M135 166.5h1M58 167.5h1M82 167.5h1M83 167.5h1M87 167.5h1M90 167.5h1M91 167.5h1M95 167.5h1M103 167.5h1M140 167.5h1M57 168.5h1M63 168.5h1M72 168.5h1M75 168.5h1M78 168.5h1M82 168.5h1M85 168.5h1M86 168.5h1M91 168.5h1M92 168.5h1M106 168.5h1M135 168.5h1M58 169.5h1M63 169.5h1M65 169.5h1M71 169.5h1M72 169.5h1M73 169.5h1M74 169.5h1M77 169.5h1M80 169.5h1M83 169.5h1M87 169.5h1M89 169.5h1M98 169.5h1M100 169.5h1M134 169.5h1M135 169.5h1M137 169.5h1M141 169.5h1M63 170.5h1M72 170.5h1M73 170.5h1M76 170.5h1M78 170.5h1M89 170.5h1M90 170.5h1M100 170.5h1M109 170.5h1M136 170.5h1M138 170.5h1M57 171.5h1M59 171.5h1M62 171.5h1M78 171.5h1M80 171.5h1M85 171.5h1M136 171.5h1M142 171.5h1M55 172.5h1M57 172.5h1M61 172.5h1M63 172.5h1M64 172.5h1M66 172.5h1M68 172.5h1M83 172.5h1M85 172.5h1M88 172.5h1M90 172.5h1M98 172.5h1M102 172.5h1M106 172.5h1M107 172.5h1M108 172.5h1M134 172.5h1M137 172.5h1M55 173.5h1M58 173.5h1M87 173.5h1M90 173.5h1M91 173.5h1M92 173.5h1M94 173.5h1M98 173.5h1M107 173.5h1M135 173.5h1M58 174.5h1M90 174.5h1M102 174.5h1M106 174.5h1M107 174.5h1M108 174.5h1M109 174.5h1M57 175.5h1M95 175.5h1M96 175.5h1M103 175.5h1M134 175.5h1M135 175.5h1M138 175.5h1M55 176.5h1M94 176.5h1M134 176.5h1M137 176.5h1M138 176.5h1M92 177.5h1M102 177.5h1M104 177.5h1M107 177.5h1M94 178.5h1M96 178.5h1M106 178.5h1M107 178.5h1M108 178.5h1M135 178.5h1M139 178.5h1M92 179.5h1M109 179.5h1M110 179.5h1M134 179.5h1M136 179.5h1M137 179.5h1M139 179.5h1M141 179.5h1M92 180.5h1M97 180.5h1M108 180.5h1M109 180.5h1M133 180.5h1M134 180.5h1M139 180.5h1M91 181.5h1M92 181.5h1M93 181.5h1M103 181.5h1M108 181.5h1M144 181.5h1M91 182.5h1M93 182.5h1M94 182.5h1M99 182.5h1M100 182.5h1M101 182.5h1M110 182.5h1M134 182.5h1M91 183.5h1M93 183.5h1M94 183.5h1M95 183.5h1M100 183.5h1M132 183.5h1M134 183.5h1M90 184.5h1M104 184.5h1M106 184.5h1M132 184.5h1M134 184.5h1M138 184.5h1M94 185.5h1M103 185.5h1M107 185.5h1M110 185.5h1M142 185.5h1M88 186.5h1M89 186.5h1M91 186.5h1M92 186.5h1M96 186.5h1M103 186.5h1M109 186.5h1M110 186.5h1M133 186.5h1M137 186.5h1M109 187.5h1M112 187.5h1M132 187.5h1M134 187.5h1M135 187.5h1M137 187.5h1M92 188.5h1M94 188.5h1M105 188.5h1M106 188.5h1M132 188.5h1M87 189.5h1M133 189.5h1M84 190.5h1M89 190.5h1M98 190.5h1M104 190.5h1M113 190.5h1M134 190.5h1M135 190.5h1M82 191.5h1M84 191.5h1M90 191.5h1M99 191.5h1M134 191.5h1M86 192.5h1M87 192.5h1M112 192.5h1M81 193.5h1M95 193.5h1M96 193.5h1M105 193.5h1M108 193.5h1M109 193.5h1M132 193.5h1M139 193.5h1M80 194.5h1M81 194.5h1M89 194.5h1M98 194.5h1M112 194.5h1M136 194.5h1M86 195.5h1M87 195.5h1M106 195.5h1M107 195.5h1M109 195.5h1M110 195.5h1M131 195.5h1M85 196.5h1M96 196.5h1M108 196.5h1M112 196.5h1M102 197.5h1M106 197.5h1M110 197.5h1M132 197.5h1M80 198.5h1M84 198.5h1M85 198.5h1M90 198.5h1M103 198.5h1M110 198.5h1M132 198.5h1M89 199.5h1M104 199.5h1M105 199.5h1M140 199.5h1M95 200.5h1M99 200.5h1M105 200.5h1M109 200.5h1M110 200.5h1M143 200.5h1M89 201.5h1M96 201.5h1M109 201.5h1M134 201.5h1M140 201.5h1M81 202.5h1M83 202.5h1M89 202.5h1M98 202.5h1M102 202.5h1M104 202.5h1M105 202.5h1M108 202.5h1M129 202.5h1M131 202.5h1M81 203.5h1M86 203.5h1M87 203.5h1M93 203.5h1M97 203.5h1M99 203.5h1M102 203.5h1M104 203.5h1M109 203.5h1M82 204.5h1M92 204.5h1M102 204.5h1M105 204.5h1M107 204.5h1M108 204.5h1M129 204.5h1M130 204.5h1M131 204.5h1M82 205.5h1M105 205.5h1M107 205.5h1M130 205.5h1M136 205.5h1M85 206.5h1M130 206.5h1M131 206.5h1M132 206.5h1M89 207.5h1M104 207.5h1M108 207.5h1M130 207.5h1M132 207.5h1M80 208.5h1M85 208.5h1M102 208.5h1M104 208.5h1M108 208.5h1M126 208.5h1M130 208.5h1M82 209.5h1M107 209.5h1M108 209.5h1M130 209.5h1M78 210.5h1M81 210.5h1M82 210.5h1M95 210.5h1M98 210.5h1M101 210.5h1M104 210.5h1M108 210.5h1M128 210.5h1M78 211.5h1M84 211.5h1M125 211.5h1M91 212.5h1M104 212.5h1M123 212.5h1M125 212.5h1M129 212.5h1M133 212.5h1M76 213.5h1M103 213.5h1M121 213.5h1" stroke="#a0aef0" stroke-width="1" fill="none"/><path d="M123 152.5h1M119 153.5h1M120 153.5h1M121 153.5h1M122 153.5h1M124 153.5h1M117 154.5h1M118 154.5h1M119 154.5h1M121 154.5h1M122 154.5h1M123 154.5h1M117 155.5h1M118 155.5h1M119 155.5h1M120 155.5h1M121 155.5h1M123 155.5h1M117 156.5h1M118 156.5h1M119 156.5h1M120 156.5h1M121 156.5h1M122 156.5h1M124 156.5h1M126 156.5h1M128 156.5h1M116 157.5h1M117 157.5h1M119 157.5h1M120 157.5h1M123 157.5h1M126 157.5h1M113 158.5h1M114 158.5h1M117 158.5h1M118 158.5h1M121 158.5h1M122 158.5h1M123 158.5h1M124 158.5h1M112 159.5h1M113 159.5h1M114 159.5h1M115 159.5h1M117 159.5h1M129 159.5h1M130 159.5h1M113 160.5h1M115 160.5h1M116 160.5h1M125 160.5h1M126 160.5h1M128 160.5h1M129 160.5h1M113 161.5h1M114 161.5h1M126 161.5h1M128 161.5h1M130 161.5h1M115 162.5h1M127 162.5h1M130 162.5h1M132 162.5h1M112 163.5h1M114 163.5h1M128 163.5h1M112 164.5h1M113 164.5h1M115 164.5h1M128 164.5h1M130 164.5h1M131 164.5h1M128 165.5h1M130 165.5h1M112 166.5h1M129 166.5h1M132 166.5h1M133 166.5h1M113 167.5h1M114 167.5h1M130 167.5h1M131 167.5h1M113 168.5h1M129 168.5h1M131 168.5h1M132 168.5h1M109 169.5h1M110 169.5h1M112 169.5h1M113 169.5h1M130 169.5h1M132 169.5h1M110 170.5h1M129 170.5h1M132 170.5h1M133 170.5h1M134 170.5h1M76 171.5h1M112 171.5h1M129 171.5h1M130 171.5h1M133 171.5h1M67 172.5h1M73 172.5h1M76 172.5h1M77 172.5h1M79 172.5h1M81 172.5h1M83 172.5h1M111 172.5h1M112 172.5h1M130 172.5h1M131 172.5h1M65 173.5h1M67 173.5h1M71 173.5h1M73 173.5h1M74 173.5h1M75 173.5h1M78 173.5h1M87 173.5h1M113 173.5h1M129 173.5h1M130 173.5h1M132 173.5h1M60 174.5h1M61 174.5h1M63 174.5h1M64 174.5h1M66 174.5h1M69 174.5h1M70 174.5h1M76 174.5h1M78 174.5h1M79 174.5h1M80 174.5h1M82 174.5h1M83 174.5h1M87 174.5h1M111 174.5h1M113 174.5h1M131 174.5h1M133 174.5h1M57 175.5h1M58 175.5h1M59 175.5h1M60 175.5h1M61 175.5h1M62 175.5h1M63 175.5h1M64 175.5h1M65 175.5h1M66 175.5h1M68 175.5h1M69 175.5h1M70 175.5h1M76 175.5h1M77 175.5h1M80 175.5h1M82 175.5h1M83 175.5h1M84 175.5h1M88 175.5h1M109 175.5h1M110 175.5h1M130 175.5h1M132 175.5h1M56 176.5h1M57 176.5h1M59 176.5h1M61 176.5h1M62 176.5h1M64 176.5h1M65 176.5h1M66 176.5h1M68 176.5h1M70 176.5h1M71 176.5h1M76 176.5h1M79 176.5h1M81 176.5h1M82 176.5h1M83 176.5h1M89 176.5h1M110 176.5h1M112 176.5h1M129 176.5h1M131 176.5h1M55 177.5h1M57 177.5h1M58 177.5h1M61 177.5h1M63 177.5h1M64 177.5h1M65 177.5h1M80 177.5h1M81 177.5h1M82 177.5h1M85 177.5h1M86 177.5h1M87 177.5h1M88 177.5h1M90 177.5h1M91 177.5h1M111 177.5h1M129 177.5h1M56 178.5h1M60 178.5h1M61 178.5h1M83 178.5h1M84 178.5h1M85 178.5h1M113 178.5h1M131 178.5h1M55 179.5h1M56 179.5h1M57 179.5h1M83 179.5h1M85 179.5h1M86 179.5h1M87 179.5h1M88 179.5h1M90 179.5h1M91 179.5h1M112 179.5h1M113 179.5h1M129 179.5h1M130 179.5h1M131 179.5h1M54 180.5h1M55 180.5h1M56 180.5h1M85 180.5h1M86 180.5h1M87 180.5h1M112 180.5h1M128 180.5h1M129 180.5h1M131 180.5h1M54 181.5h1M84 181.5h1M86 181.5h1M87 181.5h1M112 181.5h1M113 181.5h1M114 181.5h1M128 181.5h1M130 181.5h1M132 181.5h1M83 182.5h1M84 182.5h1M85 182.5h1M87 182.5h1M88 182.5h1M90 182.5h1M111 182.5h1M113 182.5h1M83 183.5h1M84 183.5h1M85 183.5h1M86 183.5h1M87 183.5h1M88 183.5h1M111 183.5h1M113 183.5h1M114 183.5h1M128 183.5h1M82 184.5h1M83 184.5h1M84 184.5h1M85 184.5h1M86 184.5h1M87 184.5h1M114 184.5h1M115 184.5h1M130 184.5h1M131 184.5h1M82 185.5h1M84 185.5h1M86 185.5h1M88 185.5h1M112 185.5h1M114 185.5h1M129 185.5h1M131 185.5h1M81 186.5h1M82 186.5h1M84 186.5h1M85 186.5h1M86 186.5h1M114 186.5h1M115 186.5h1M128 186.5h1M129 186.5h1M79 187.5h1M81 187.5h1M78 188.5h1M80 188.5h1M83 188.5h1M84 188.5h1M115 188.5h1M116 188.5h1M129 188.5h1M131 188.5h1M77 189.5h1M80 189.5h1M113 189.5h1M116 189.5h1M129 189.5h1M78 190.5h1M79 190.5h1M114 190.5h1M115 190.5h1M129 190.5h1M130 190.5h1M131 190.5h1M115 191.5h1M76 192.5h1M80 192.5h1M130 192.5h1M79 193.5h1M80 193.5h1M115 193.5h1M116 193.5h1M129 193.5h1M131 193.5h1M76 194.5h1M115 194.5h1M129 194.5h1M130 194.5h1M76 195.5h1M77 195.5h1M115 195.5h1M129 195.5h1M130 195.5h1M76 196.5h1M77 196.5h1M79 196.5h1M114 196.5h1M115 196.5h1M79 197.5h1M113 197.5h1M114 197.5h1M128 197.5h1M129 197.5h1M130 197.5h1M77 198.5h1M78 198.5h1M113 198.5h1M128 198.5h1M129 198.5h1M130 198.5h1M77 199.5h1M78 199.5h1M113 199.5h1M129 199.5h1M76 200.5h1M77 200.5h1M80 200.5h1M127 200.5h1M129 200.5h1M76 201.5h1M77 201.5h1M112 201.5h1M113 201.5h1M129 201.5h1M76 202.5h1M77 202.5h1M110 202.5h1M129 202.5h1M78 203.5h1M110 203.5h1M111 203.5h1M126 203.5h1M127 203.5h1M128 203.5h1M76 204.5h1M77 204.5h1M78 204.5h1M111 204.5h1M78 205.5h1M110 205.5h1M111 205.5h1M126 205.5h1M127 205.5h1M76 206.5h1M77 206.5h1M78 206.5h1M109 206.5h1M111 206.5h1M125 206.5h1M126 206.5h1M127 206.5h1M77 207.5h1M109 207.5h1M110 207.5h1M124 207.5h1M125 207.5h1M74 208.5h1M75 208.5h1M109 208.5h1M124 208.5h1M125 208.5h1M75 209.5h1M77 209.5h1M110 209.5h1M122 209.5h1M123 209.5h1M73 210.5h1M75 210.5h1M76 210.5h1M120 210.5h1M122 210.5h1M123 210.5h1M120 211.5h1M121 211.5h1M122 211.5h1M54 212.5h1M71 212.5h1M109 212.5h1M119 212.5h1M121 212.5h1M122 212.5h1M73 213.5h1M75 213.5h1M109 213.5h1M110 213.5h1M118 213.5h1" stroke="#8898ec" stroke-width="1" fill="none"/><path d="M121 158.5h1M122 158.5h1M120 159.5h1M121 159.5h1M122 159.5h1M123 159.5h1M118 160.5h1M121 160.5h1M122 160.5h1M124 160.5h1M125 160.5h1M117 161.5h1M118 161.5h1M119 161.5h1M120 161.5h1M121 161.5h1M122 161.5h1M125 161.5h1M126 161.5h1M117 162.5h1M118 162.5h1M119 162.5h1M120 162.5h1M121 162.5h1M122 162.5h1M123 162.5h1M126 162.5h1M115 163.5h1M117 163.5h1M123 163.5h1M124 163.5h1M125 163.5h1M126 163.5h1M115 164.5h1M116 164.5h1M117 164.5h1M118 164.5h1M124 164.5h1M125 164.5h1M126 164.5h1M127 164.5h1M114 165.5h1M116 165.5h1M117 165.5h1M125 165.5h1M127 165.5h1M114 166.5h1M115 166.5h1M116 166.5h1M117 166.5h1M125 166.5h1M128 166.5h1M114 167.5h1M115 167.5h1M116 167.5h1M117 167.5h1M125 167.5h1M127 167.5h1M128 167.5h1M114 168.5h1M115 168.5h1M116 168.5h1M126 168.5h1M127 168.5h1M114 169.5h1M116 169.5h1M126 169.5h1M128 169.5h1M114 170.5h1M115 170.5h1M128 170.5h1M114 171.5h1M115 171.5h1M126 171.5h1M127 171.5h1M128 171.5h1M129 171.5h1M126 172.5h1M127 172.5h1M129 172.5h1M113 173.5h1M114 173.5h1M115 173.5h1M126 173.5h1M127 173.5h1M128 173.5h1M115 174.5h1M126 174.5h1M127 174.5h1M114 175.5h1M115 175.5h1M116 175.5h1M126 175.5h1M127 175.5h1M69 176.5h1M71 176.5h1M72 176.5h1M73 176.5h1M75 176.5h1M77 176.5h1M114 176.5h1M116 176.5h1M126 176.5h1M127 176.5h1M128 176.5h1M63 177.5h1M65 177.5h1M66 177.5h1M67 177.5h1M68 177.5h1M70 177.5h1M71 177.5h1M72 177.5h1M73 177.5h1M74 177.5h1M75 177.5h1M77 177.5h1M78 177.5h1M79 177.5h1M126 177.5h1M61 178.5h1M63 178.5h1M64 178.5h1M66 178.5h1M67 178.5h1M68 178.5h1M70 178.5h1M71 178.5h1M73 178.5h1M74 178.5h1M76 178.5h1M77 178.5h1M78 178.5h1M79 178.5h1M80 178.5h1M81 178.5h1M114 178.5h1M116 178.5h1M127 178.5h1M58 179.5h1M59 179.5h1M61 179.5h1M62 179.5h1M63 179.5h1M65 179.5h1M67 179.5h1M68 179.5h1M69 179.5h1M71 179.5h1M72 179.5h1M73 179.5h1M74 179.5h1M75 179.5h1M76 179.5h1M77 179.5h1M78 179.5h1M79 179.5h1M81 179.5h1M126 179.5h1M57 180.5h1M58 180.5h1M60 180.5h1M62 180.5h1M63 180.5h1M76 180.5h1M78 180.5h1M79 180.5h1M80 180.5h1M81 180.5h1M83 180.5h1M116 180.5h1M127 180.5h1M56 181.5h1M57 181.5h1M59 181.5h1M76 181.5h1M77 181.5h1M78 181.5h1M79 181.5h1M81 181.5h1M83 181.5h1M116 181.5h1M126 181.5h1M56 182.5h1M57 182.5h1M59 182.5h1M77 182.5h1M78 182.5h1M79 182.5h1M80 182.5h1M81 182.5h1M115 182.5h1M126 182.5h1M54 183.5h1M55 183.5h1M56 183.5h1M57 183.5h1M58 183.5h1M76 183.5h1M78 183.5h1M79 183.5h1M80 183.5h1M82 183.5h1M116 183.5h1M126 183.5h1M54 184.5h1M55 184.5h1M78 184.5h1M79 184.5h1M80 184.5h1M81 184.5h1M115 184.5h1M116 184.5h1M117 184.5h1M126 184.5h1M127 184.5h1M55 185.5h1M56 185.5h1M75 185.5h1M76 185.5h1M77 185.5h1M78 185.5h1M79 185.5h1M81 185.5h1M116 185.5h1M126 185.5h1M127 185.5h1M54 186.5h1M55 186.5h1M74 186.5h1M75 186.5h1M76 186.5h1M77 186.5h1M78 186.5h1M79 186.5h1M116 186.5h1M125 186.5h1M126 186.5h1M54 187.5h1M75 187.5h1M76 187.5h1M77 187.5h1M116 187.5h1M117 187.5h1M125 187.5h1M54 188.5h1M73 188.5h1M74 188.5h1M75 188.5h1M76 188.5h1M77 188.5h1M116 188.5h1M117 188.5h1M118 188.5h1M125 188.5h1M126 188.5h1M127 188.5h1M74 189.5h1M75 189.5h1M76 189.5h1M117 189.5h1M126 189.5h1M127 189.5h1M128 189.5h1M75 190.5h1M76 190.5h1M116 190.5h1M117 190.5h1M127 190.5h1M72 191.5h1M73 191.5h1M74 191.5h1M75 191.5h1M76 191.5h1M116 191.5h1M127 191.5h1M128 191.5h1M73 192.5h1M74 192.5h1M75 192.5h1M117 192.5h1M127 192.5h1M128 192.5h1M129 192.5h1M73 193.5h1M74 193.5h1M75 193.5h1M116 193.5h1M117 193.5h1M127 193.5h1M128 193.5h1M73 194.5h1M74 194.5h1M116 194.5h1M127 194.5h1M128 194.5h1M74 195.5h1M75 195.5h1M117 195.5h1M127 195.5h1M128 195.5h1M74 196.5h1M76 196.5h1M115 196.5h1M116 196.5h1M127 196.5h1M74 197.5h1M75 197.5h1M116 197.5h1M127 197.5h1M128 197.5h1M73 198.5h1M74 198.5h1M75 198.5h1M115 198.5h1M127 198.5h1M75 199.5h1M114 199.5h1M127 199.5h1M75 200.5h1M114 200.5h1M127 200.5h1M73 201.5h1M74 201.5h1M75 201.5h1M76 201.5h1M113 201.5h1M125 201.5h1M126 201.5h1M74 202.5h1M75 202.5h1M113 202.5h1M126 202.5h1M73 203.5h1M74 203.5h1M76 203.5h1M112 203.5h1M113 203.5h1M124 203.5h1M125 203.5h1M73 204.5h1M74 204.5h1M75 204.5h1M112 204.5h1M124 204.5h1M73 205.5h1M75 205.5h1M111 205.5h1M112 205.5h1M73 206.5h1M74 206.5h1M75 206.5h1M111 206.5h1M112 206.5h1M122 206.5h1M123 206.5h1M124 206.5h1M72 207.5h1M73 207.5h1M111 207.5h1M122 207.5h1M123 207.5h1M71 208.5h1M72 208.5h1M73 208.5h1M74 208.5h1M111 208.5h1M121 208.5h1M54 209.5h1M71 209.5h1M73 209.5h1M121 209.5h1M54 210.5h1M55 210.5h1M56 210.5h1M69 210.5h1M70 210.5h1M71 210.5h1M110 210.5h1M111 210.5h1M119 210.5h1M120 210.5h1M57 211.5h1M69 211.5h1M70 211.5h1M72 211.5h1M111 211.5h1M118 211.5h1M119 211.5h1M55 212.5h1M56 212.5h1M57 212.5h1M59 212.5h1M67 212.5h1M68 212.5h1M70 212.5h1M71 212.5h1M110 212.5h1M111 212.5h1M116 212.5h1M117 212.5h1M56 213.5h1M58 213.5h1M60 213.5h1M62 213.5h1M63 213.5h1M64 213.5h1M65 213.5h1M68 213.5h1M69 213.5h1M110 213.5h1M112 213.5h1M113 213.5h1M114 213.5h1M115 213.5h1" stroke="#6f88ea" stroke-width="1" fill="none"/><path d="M121 162.5h1M120 163.5h1M122 163.5h1M123 163.5h1M119 164.5h1M120 164.5h1M121 164.5h1M122 164.5h1M123 164.5h1M117 165.5h1M118 165.5h1M119 165.5h1M120 165.5h1M121 165.5h1M122 165.5h1M123 165.5h1M124 165.5h1M117 166.5h1M118 166.5h1M119 166.5h1M122 166.5h1M123 166.5h1M124 166.5h1M117 167.5h1M118 167.5h1M123 167.5h1M124 167.5h1M118 168.5h1M124 168.5h1M125 168.5h1M117 169.5h1M124 169.5h1M125 169.5h1M116 170.5h1M117 170.5h1M124 170.5h1M125 170.5h1M126 170.5h1M116 171.5h1M125 171.5h1M126 171.5h1M117 172.5h1M125 172.5h1M126 172.5h1M116 173.5h1M117 173.5h1M125 173.5h1M126 173.5h1M116 174.5h1M117 174.5h1M125 174.5h1M116 175.5h1M117 175.5h1M116 176.5h1M125 176.5h1M126 176.5h1M116 177.5h1M117 177.5h1M125 177.5h1M125 178.5h1M69 179.5h1M117 179.5h1M125 179.5h1M64 180.5h1M66 180.5h1M68 180.5h1M69 180.5h1M70 180.5h1M72 180.5h1M73 180.5h1M116 180.5h1M117 180.5h1M124 180.5h1M125 180.5h1M62 181.5h1M63 181.5h1M64 181.5h1M65 181.5h1M66 181.5h1M67 181.5h1M69 181.5h1M70 181.5h1M71 181.5h1M72 181.5h1M73 181.5h1M74 181.5h1M75 181.5h1M76 181.5h1M117 181.5h1M124 181.5h1M125 181.5h1M59 182.5h1M60 182.5h1M62 182.5h1M64 182.5h1M65 182.5h1M66 182.5h1M67 182.5h1M68 182.5h1M69 182.5h1M70 182.5h1M71 182.5h1M72 182.5h1M73 182.5h1M74 182.5h1M117 182.5h1M124 182.5h1M125 182.5h1M59 183.5h1M61 183.5h1M62 183.5h1M63 183.5h1M70 183.5h1M71 183.5h1M72 183.5h1M73 183.5h1M74 183.5h1M75 183.5h1M76 183.5h1M117 183.5h1M118 183.5h1M124 183.5h1M125 183.5h1M58 184.5h1M59 184.5h1M60 184.5h1M61 184.5h1M62 184.5h1M71 184.5h1M72 184.5h1M73 184.5h1M74 184.5h1M75 184.5h1M76 184.5h1M117 184.5h1M123 184.5h1M124 184.5h1M56 185.5h1M57 185.5h1M71 185.5h1M72 185.5h1M73 185.5h1M74 185.5h1M75 185.5h1M117 185.5h1M118 185.5h1M124 185.5h1M56 186.5h1M58 186.5h1M71 186.5h1M72 186.5h1M73 186.5h1M74 186.5h1M117 186.5h1M118 186.5h1M119 186.5h1M124 186.5h1M55 187.5h1M56 187.5h1M57 187.5h1M58 187.5h1M70 187.5h1M71 187.5h1M72 187.5h1M73 187.5h1M74 187.5h1M118 187.5h1M119 187.5h1M123 187.5h1M124 187.5h1M54 188.5h1M56 188.5h1M57 188.5h1M70 188.5h1M71 188.5h1M72 188.5h1M118 188.5h1M119 188.5h1M124 188.5h1M125 188.5h1M55 189.5h1M56 189.5h1M70 189.5h1M71 189.5h1M72 189.5h1M119 189.5h1M120 189.5h1M123 189.5h1M124 189.5h1M125 189.5h1M70 190.5h1M71 190.5h1M72 190.5h1M119 190.5h1M120 190.5h1M124 190.5h1M125 190.5h1M126 190.5h1M54 191.5h1M55 191.5h1M56 191.5h1M70 191.5h1M72 191.5h1M118 191.5h1M119 191.5h1M125 191.5h1M126 191.5h1M55 192.5h1M70 192.5h1M71 192.5h1M72 192.5h1M118 192.5h1M119 192.5h1M120 192.5h1M126 192.5h1M54 193.5h1M55 193.5h1M71 193.5h1M72 193.5h1M118 193.5h1M119 193.5h1M126 193.5h1M54 194.5h1M71 194.5h1M72 194.5h1M73 194.5h1M118 194.5h1M126 194.5h1M127 194.5h1M54 195.5h1M72 195.5h1M117 195.5h1M118 195.5h1M127 195.5h1M72 196.5h1M73 196.5h1M117 196.5h1M127 196.5h1M71 197.5h1M72 197.5h1M73 197.5h1M116 197.5h1M126 197.5h1M72 198.5h1M73 198.5h1M116 198.5h1M72 199.5h1M73 199.5h1M115 199.5h1M116 199.5h1M126 199.5h1M72 200.5h1M115 200.5h1M125 200.5h1M126 200.5h1M114 201.5h1M125 201.5h1M72 202.5h1M73 202.5h1M114 202.5h1M124 202.5h1M71 203.5h1M72 203.5h1M73 203.5h1M124 203.5h1M71 204.5h1M72 204.5h1M113 204.5h1M123 204.5h1M124 204.5h1M54 205.5h1M71 205.5h1M72 205.5h1M54 206.5h1M71 206.5h1M72 206.5h1M113 206.5h1M122 206.5h1M55 207.5h1M70 207.5h1M71 207.5h1M121 207.5h1M55 208.5h1M56 208.5h1M57 208.5h1M69 208.5h1M70 208.5h1M71 208.5h1M112 208.5h1M120 208.5h1M121 208.5h1M55 209.5h1M56 209.5h1M57 209.5h1M58 209.5h1M68 209.5h1M69 209.5h1M70 209.5h1M57 210.5h1M58 210.5h1M59 210.5h1M60 210.5h1M61 210.5h1M65 210.5h1M67 210.5h1M68 210.5h1M112 210.5h1M118 210.5h1M119 210.5h1M58 211.5h1M59 211.5h1M60 211.5h1M62 211.5h1M63 211.5h1M64 211.5h1M65 211.5h1M66 211.5h1M67 211.5h1M112 211.5h1M113 211.5h1M115 211.5h1M117 211.5h1M60 212.5h1M62 212.5h1M63 212.5h1M64 212.5h1M65 212.5h1M112 212.5h1M113 212.5h1M114 212.5h1M115 212.5h1" stroke="#68a8ef" stroke-width="1" fill="none"/><path d="M119 166.5h1M120 166.5h1M119 167.5h1M120 167.5h1M121 167.5h1M122 167.5h1M118 168.5h1M119 168.5h1M120 168.5h1M121 168.5h1M122 168.5h1M118 169.5h1M119 169.5h1M120 169.5h1M121 169.5h1M123 169.5h1M118 170.5h1M119 170.5h1M122 170.5h1M123 170.5h1M124 170.5h1M118 171.5h1M122 171.5h1M123 171.5h1M124 171.5h1M117 172.5h1M118 172.5h1M119 172.5h1M123 172.5h1M124 172.5h1M117 173.5h1M118 173.5h1M123 173.5h1M124 173.5h1M118 174.5h1M123 174.5h1M124 174.5h1M117 175.5h1M117 176.5h1M118 176.5h1M124 176.5h1M123 177.5h1M124 177.5h1M117 178.5h1M118 178.5h1M123 178.5h1M124 178.5h1M123 179.5h1M124 179.5h1M118 180.5h1M117 181.5h1M118 181.5h1M123 181.5h1M124 181.5h1M118 182.5h1M123 182.5h1M64 183.5h1M65 183.5h1M66 183.5h1M67 183.5h1M69 183.5h1M118 183.5h1M119 183.5h1M122 183.5h1M123 183.5h1M61 184.5h1M62 184.5h1M63 184.5h1M64 184.5h1M65 184.5h1M66 184.5h1M67 184.5h1M69 184.5h1M70 184.5h1M71 184.5h1M118 184.5h1M119 184.5h1M120 184.5h1M122 184.5h1M123 184.5h1M60 185.5h1M61 185.5h1M62 185.5h1M63 185.5h1M64 185.5h1M65 185.5h1M66 185.5h1M67 185.5h1M68 185.5h1M69 185.5h1M70 185.5h1M118 185.5h1M119 185.5h1M120 185.5h1M121 185.5h1M122 185.5h1M123 185.5h1M60 186.5h1M61 186.5h1M62 186.5h1M63 186.5h1M64 186.5h1M65 186.5h1M66 186.5h1M67 186.5h1M68 186.5h1M70 186.5h1M119 186.5h1M120 186.5h1M121 186.5h1M122 186.5h1M58 187.5h1M59 187.5h1M60 187.5h1M61 187.5h1M62 187.5h1M63 187.5h1M64 187.5h1M65 187.5h1M66 187.5h1M67 187.5h1M68 187.5h1M69 187.5h1M70 187.5h1M119 187.5h1M120 187.5h1M121 187.5h1M122 187.5h1M123 187.5h1M57 188.5h1M58 188.5h1M59 188.5h1M61 188.5h1M66 188.5h1M67 188.5h1M68 188.5h1M69 188.5h1M70 188.5h1M120 188.5h1M121 188.5h1M57 189.5h1M58 189.5h1M59 189.5h1M60 189.5h1M67 189.5h1M68 189.5h1M69 189.5h1M70 189.5h1M120 189.5h1M122 189.5h1M56 190.5h1M57 190.5h1M58 190.5h1M59 190.5h1M67 190.5h1M68 190.5h1M69 190.5h1M121 190.5h1M122 190.5h1M123 190.5h1M56 191.5h1M58 191.5h1M68 191.5h1M69 191.5h1M120 191.5h1M121 191.5h1M122 191.5h1M123 191.5h1M124 191.5h1M125 191.5h1M56 192.5h1M57 192.5h1M68 192.5h1M69 192.5h1M70 192.5h1M120 192.5h1M121 192.5h1M124 192.5h1M126 192.5h1M55 193.5h1M56 193.5h1M57 193.5h1M68 193.5h1M69 193.5h1M70 193.5h1M119 193.5h1M120 193.5h1M121 193.5h1M125 193.5h1M55 194.5h1M56 194.5h1M69 194.5h1M70 194.5h1M71 194.5h1M119 194.5h1M120 194.5h1M126 194.5h1M55 195.5h1M56 195.5h1M69 195.5h1M70 195.5h1M118 195.5h1M54 196.5h1M55 196.5h1M70 196.5h1M71 196.5h1M118 196.5h1M125 196.5h1M126 196.5h1M55 197.5h1M71 197.5h1M117 197.5h1M125 197.5h1M126 197.5h1M55 198.5h1M71 198.5h1M116 198.5h1M117 198.5h1M125 198.5h1M54 199.5h1M55 199.5h1M70 199.5h1M71 199.5h1M116 199.5h1M125 199.5h1M55 200.5h1M70 200.5h1M71 200.5h1M124 200.5h1M125 200.5h1M54 201.5h1M70 201.5h1M71 201.5h1M115 201.5h1M124 201.5h1M54 202.5h1M55 202.5h1M70 202.5h1M71 202.5h1M124 202.5h1M55 203.5h1M70 203.5h1M114 203.5h1M123 203.5h1M55 204.5h1M56 204.5h1M69 204.5h1M70 204.5h1M113 204.5h1M122 204.5h1M123 204.5h1M55 205.5h1M56 205.5h1M69 205.5h1M70 205.5h1M113 205.5h1M122 205.5h1M56 206.5h1M68 206.5h1M69 206.5h1M70 206.5h1M113 206.5h1M56 207.5h1M57 207.5h1M58 207.5h1M67 207.5h1M68 207.5h1M113 207.5h1M121 207.5h1M57 208.5h1M58 208.5h1M60 208.5h1M65 208.5h1M66 208.5h1M67 208.5h1M68 208.5h1M112 208.5h1M113 208.5h1M119 208.5h1M58 209.5h1M59 209.5h1M60 209.5h1M61 209.5h1M62 209.5h1M63 209.5h1M65 209.5h1M66 209.5h1M67 209.5h1M112 209.5h1M113 209.5h1M118 209.5h1M60 210.5h1M61 210.5h1M62 210.5h1M63 210.5h1M65 210.5h1M66 210.5h1M113 210.5h1M114 210.5h1M115 210.5h1M116 210.5h1M117 210.5h1M118 210.5h1M114 211.5h1M115 211.5h1M116 211.5h1" stroke="#68d0d8" stroke-width="1" fill="none"/><path d="M120 170.5h1M121 170.5h1M122 170.5h1M120 171.5h1M121 171.5h1M122 171.5h1M119 172.5h1M120 172.5h1M121 172.5h1M122 172.5h1M123 172.5h1M119 173.5h1M120 173.5h1M121 173.5h1M122 173.5h1M123 173.5h1M118 174.5h1M119 174.5h1M120 174.5h1M121 174.5h1M122 174.5h1M123 174.5h1M118 175.5h1M119 175.5h1M120 175.5h1M121 175.5h1M122 175.5h1M123 175.5h1M118 176.5h1M119 176.5h1M120 176.5h1M121 176.5h1M122 176.5h1M123 176.5h1M118 177.5h1M119 177.5h1M120 177.5h1M121 177.5h1M122 177.5h1M123 177.5h1M118 178.5h1M119 178.5h1M120 178.5h1M121 178.5h1M122 178.5h1M123 178.5h1M118 179.5h1M119 179.5h1M120 179.5h1M121 179.5h1M122 179.5h1M123 179.5h1M119 180.5h1M120 180.5h1M121 180.5h1M122 180.5h1M123 180.5h1M119 181.5h1M120 181.5h1M121 181.5h1M122 181.5h1M123 181.5h1M119 182.5h1M120 182.5h1M121 182.5h1M122 182.5h1M119 183.5h1M121 183.5h1M122 183.5h1M120 184.5h1M121 184.5h1M122 184.5h1M121 185.5h1M63 187.5h1M62 188.5h1M63 188.5h1M64 188.5h1M65 188.5h1M60 189.5h1M61 189.5h1M62 189.5h1M63 189.5h1M64 189.5h1M65 189.5h1M66 189.5h1M59 190.5h1M60 190.5h1M61 190.5h1M62 190.5h1M63 190.5h1M64 190.5h1M65 190.5h1M66 190.5h1M67 190.5h1M59 191.5h1M61 191.5h1M62 191.5h1M63 191.5h1M64 191.5h1M65 191.5h1M66 191.5h1M67 191.5h1M58 192.5h1M59 192.5h1M60 192.5h1M61 192.5h1M62 192.5h1M64 192.5h1M65 192.5h1M66 192.5h1M67 192.5h1M121 192.5h1M122 192.5h1M123 192.5h1M124 192.5h1M57 193.5h1M59 193.5h1M60 193.5h1M65 193.5h1M66 193.5h1M67 193.5h1M68 193.5h1M121 193.5h1M122 193.5h1M123 193.5h1M124 193.5h1M57 194.5h1M58 194.5h1M59 194.5h1M67 194.5h1M68 194.5h1M120 194.5h1M121 194.5h1M125 194.5h1M56 195.5h1M57 195.5h1M58 195.5h1M67 195.5h1M68 195.5h1M69 195.5h1M119 195.5h1M125 195.5h1M56 196.5h1M57 196.5h1M67 196.5h1M68 196.5h1M69 196.5h1M118 196.5h1M125 196.5h1M56 197.5h1M57 197.5h1M68 197.5h1M69 197.5h1M70 197.5h1M117 197.5h1M118 197.5h1M125 197.5h1M55 198.5h1M56 198.5h1M57 198.5h1M69 198.5h1M117 198.5h1M124 198.5h1M125 198.5h1M55 199.5h1M56 199.5h1M57 199.5h1M69 199.5h1M116 199.5h1M125 199.5h1M56 200.5h1M57 200.5h1M69 200.5h1M70 200.5h1M116 200.5h1M124 200.5h1M56 201.5h1M123 201.5h1M124 201.5h1M55 202.5h1M56 202.5h1M69 202.5h1M115 202.5h1M124 202.5h1M56 203.5h1M57 203.5h1M68 203.5h1M69 203.5h1M114 203.5h1M115 203.5h1M56 204.5h1M57 204.5h1M58 204.5h1M68 204.5h1M69 204.5h1M114 204.5h1M122 204.5h1M57 205.5h1M58 205.5h1M67 205.5h1M68 205.5h1M69 205.5h1M57 206.5h1M58 206.5h1M59 206.5h1M66 206.5h1M67 206.5h1M114 206.5h1M120 206.5h1M58 207.5h1M60 207.5h1M61 207.5h1M62 207.5h1M65 207.5h1M66 207.5h1M67 207.5h1M113 207.5h1M120 207.5h1M59 208.5h1M60 208.5h1M61 208.5h1M62 208.5h1M63 208.5h1M64 208.5h1M65 208.5h1M66 208.5h1M113 208.5h1M114 208.5h1M118 208.5h1M119 208.5h1M62 209.5h1M63 209.5h1M64 209.5h1M114 209.5h1M116 209.5h1M117 209.5h1M118 209.5h1M114 210.5h1M115 210.5h1M116 210.5h1" stroke="#80e090" stroke-width="1" fill="none"/><path d="M120 175.5h1M121 175.5h1M120 176.5h1M121 176.5h1M121 177.5h1M120 178.5h1M121 178.5h1M121 179.5h1M62 192.5h1M63 192.5h1M64 192.5h1M60 193.5h1M61 193.5h1M62 193.5h1M63 193.5h1M64 193.5h1M65 193.5h1M123 193.5h1M59 194.5h1M60 194.5h1M66 194.5h1M121 194.5h1M122 194.5h1M124 194.5h1M59 195.5h1M66 195.5h1M67 195.5h1M120 195.5h1M124 195.5h1M125 195.5h1M58 196.5h1M67 196.5h1M58 197.5h1M68 197.5h1M118 197.5h1M57 198.5h1M58 198.5h1M68 198.5h1M68 199.5h1M57 200.5h1M68 200.5h1M116 200.5h1M117 200.5h1M57 201.5h1M68 201.5h1M116 201.5h1M123 201.5h1M57 202.5h1M68 202.5h1M115 202.5h1M123 202.5h1M57 203.5h1M58 203.5h1M68 203.5h1M115 203.5h1M122 203.5h1M58 204.5h1M68 204.5h1M59 205.5h1M67 205.5h1M60 206.5h1M65 206.5h1M120 206.5h1M61 207.5h1M62 207.5h1M63 207.5h1M64 207.5h1M65 207.5h1M114 208.5h1M115 209.5h1M116 209.5h1M117 209.5h1" stroke="#98e050" stroke-width="1" fill="none"/></g></g><rect x="56.2" y="148.8" width="44.8" height="19.299999999999983" fill="none" stroke="#f8e8f8" stroke-width="4" stroke-opacity="0.7"/><rect x="56.2" y="168.1" width="35.099999999999994" height="21.099999999999994" fill="none" stroke="#f8e8f8" stroke-width="4" stroke-opacity="0.7"/><rect x="101" y="148.8" width="39.400000000000006" height="25.399999999999977" fill="none" stroke="#f8e8f8" stroke-width="4" stroke-opacity="0.7"/><rect x="105.8" y="174.2" width="34.60000000000001" height="17.900000000000006" fill="none" stroke="#f8e8f8" stroke-width="4" stroke-opacity="0.7"/><rect x="105.8" y="192.1" width="34.60000000000001" height="20.900000000000006" fill="none" stroke="#f8e8f8" stroke-width="4" stroke-opacity="0.7"/><rect x="56.2" y="148.8" width="44.8" height="19.299999999999983" fill="none" stroke="#b828d8" stroke-opacity="0.66" stroke-width="1.35"/><rect x="56.2" y="168.1" width="35.099999999999994" height="21.099999999999994" fill="none" stroke="#b828d8" stroke-opacity="0.66" stroke-width="1.35"/><rect x="101" y="148.8" width="39.400000000000006" height="25.399999999999977" fill="none" stroke="#b828d8" stroke-opacity="0.66" stroke-width="1.35"/><rect x="105.8" y="174.2" width="34.60000000000001" height="17.900000000000006" fill="none" stroke="#b828d8" stroke-opacity="0.66" stroke-width="1.35"/><rect x="105.8" y="192.1" width="34.60000000000001" height="20.900000000000006" fill="none" stroke="#b828d8" stroke-opacity="0.66" stroke-width="1.35"/><path d="M53.5 122H145.5V213.5" stroke="#7a7a7a" stroke-width="1" fill="none"/><path d="M53.5 122V213.5H145.5" stroke="#222" stroke-width="1.3" fill="none"/><path d="M53.5 213.5h-2.2M53.5 213.5v2.2M53.5 206.6h-1.2M60.4 213.5v1.2M53.5 202.6h-1.2M64.5 213.5v1.2M53.5 199.7h-1.2M67.3 213.5v1.2M53.5 197.5h-1.2M69.6 213.5v1.2M53.5 195.7h-1.2M71.4 213.5v1.2M53.5 194.2h-1.2M72.9 213.5v1.2M53.5 192.8h-1.2M74.3 213.5v1.2M53.5 191.7h-1.2M75.4 213.5v1.2M53.5 190.6h-2.2M76.5 213.5v2.2M53.5 183.7h-1.2M83.4 213.5v1.2M53.5 179.7h-1.2M87.5 213.5v1.2M53.5 176.9h-1.2M90.3 213.5v1.2M53.5 174.6h-1.2M92.6 213.5v1.2M53.5 172.8h-1.2M94.4 213.5v1.2M53.5 171.3h-1.2M95.9 213.5v1.2M53.5 170.0h-1.2M97.3 213.5v1.2M53.5 168.8h-1.2M98.4 213.5v1.2M53.5 167.8h-2.2M99.5 213.5v2.2M53.5 160.9h-1.2M106.4 213.5v1.2M53.5 156.8h-1.2M110.5 213.5v1.2M53.5 154.0h-1.2M113.3 213.5v1.2M53.5 151.8h-1.2M115.6 213.5v1.2M53.5 149.9h-1.2M117.4 213.5v1.2M53.5 148.4h-1.2M118.9 213.5v1.2M53.5 147.1h-1.2M120.3 213.5v1.2M53.5 145.9h-1.2M121.4 213.5v1.2M53.5 144.9h-2.2M122.5 213.5v2.2M53.5 138.0h-1.2M129.4 213.5v1.2M53.5 134.0h-1.2M133.5 213.5v1.2M53.5 131.1h-1.2M136.3 213.5v1.2M53.5 128.9h-1.2M138.6 213.5v1.2M53.5 127.1h-1.2M140.4 213.5v1.2M53.5 125.5h-1.2M141.9 213.5v1.2M53.5 124.2h-1.2M143.3 213.5v1.2M53.5 123.0h-1.2M144.4 213.5v1.2M53.5 122h-2.2M145.5 213.5v2.2" stroke="#222" stroke-width="0.7" fill="none"/><text x="51.0" y="215.7" font-size="5.6" font-weight="bold" text-anchor="end" textLength="6.5" lengthAdjust="spacingAndGlyphs">10<tspan font-size="4" dy="-2">0</tspan></text><text x="54.5" y="222.5" font-size="5.6" font-weight="bold" text-anchor="middle" textLength="6.5" lengthAdjust="spacingAndGlyphs">10<tspan font-size="4" dy="-2">0</tspan></text><text x="51.0" y="192.8" font-size="5.6" font-weight="bold" text-anchor="end" textLength="6.5" lengthAdjust="spacingAndGlyphs">10<tspan font-size="4" dy="-2">1</tspan></text><text x="77.5" y="222.5" font-size="5.6" font-weight="bold" text-anchor="middle" textLength="6.5" lengthAdjust="spacingAndGlyphs">10<tspan font-size="4" dy="-2">1</tspan></text><text x="51.0" y="169.9" font-size="5.6" font-weight="bold" text-anchor="end" textLength="6.5" lengthAdjust="spacingAndGlyphs">10<tspan font-size="4" dy="-2">2</tspan></text><text x="100.5" y="222.5" font-size="5.6" font-weight="bold" text-anchor="middle" textLength="6.5" lengthAdjust="spacingAndGlyphs">10<tspan font-size="4" dy="-2">2</tspan></text><text x="51.0" y="147.1" font-size="5.6" font-weight="bold" text-anchor="end" textLength="6.5" lengthAdjust="spacingAndGlyphs">10<tspan font-size="4" dy="-2">3</tspan></text><text x="123.5" y="222.5" font-size="5.6" font-weight="bold" text-anchor="middle" textLength="6.5" lengthAdjust="spacingAndGlyphs">10<tspan font-size="4" dy="-2">3</tspan></text><text x="51.0" y="124.2" font-size="5.6" font-weight="bold" text-anchor="end" textLength="6.5" lengthAdjust="spacingAndGlyphs">10<tspan font-size="4" dy="-2">4</tspan></text><text x="146.5" y="222.5" font-size="5.6" font-weight="bold" text-anchor="middle" textLength="6.5" lengthAdjust="spacingAndGlyphs">10<tspan font-size="4" dy="-2">4</tspan></text><text x="93.5" y="140.8" font-size="14.5" text-anchor="middle" stroke="#000" stroke-width="0.25">Control</text><clipPath id="c6"><rect x="176.5" y="122" width="92.0" height="91.5"/></clipPath><g clip-path="url(#c6)"><g filter="url(#bl)"><path d="M234.0 216.0L233.1 212.5L233.2 207.0L234.1 202.0L236.4 194.5L236.8 191.5L236.2 187.5L233.6 179.5L232.6 175.0L232.4 170.0L232.9 165.0L235.3 158.0L236.9 155.0L238.9 152.5L241.0 150.6L243.5 149.2L245.5 148.5L248.0 148.4L251.0 149.0L254.0 150.7L256.5 153.0L258.6 156.0L260.3 159.5L261.5 163.5L262.1 167.5L262.1 172.0L261.6 176.5L259.9 185.0L258.3 197.5L256.6 203.5L254.2 208.0L251.5 211.3L248.5 213.8L244.4 216.0ZM173.5 177.1L178.5 173.9L184.5 171.2L191.5 169.2L199.0 168.1L205.0 168.2L210.0 169.4L214.5 171.6L217.4 174.5L218.5 177.5L218.0 181.0L216.8 183.0L215.0 185.0L208.0 190.3L206.1 192.5L205.4 195.0L204.9 202.5L203.8 207.0L201.4 212.0L198.4 216.0Z" fill="rgb(225, 230, 250)" fill-rule="evenodd"/><path d="M240.5 215.1L238.5 215.4L236.9 215.0L235.6 213.5L235.1 211.5L235.2 208.5L235.8 205.5L239.1 196.5L239.8 193.0L239.4 188.0L236.6 175.0L236.3 171.0L236.5 167.5L237.8 162.0L240.7 157.0L244.0 154.3L246.0 153.6L248.0 153.5L251.0 154.5L254.0 157.0L256.3 160.5L257.9 165.0L258.4 171.5L256.4 182.5L256.5 192.5L254.4 201.0L251.2 207.0L246.5 211.7L243.5 213.7L240.5 215.1ZM173.5 181.8L177.0 178.8L181.5 176.3L187.5 174.3L193.5 173.2L199.5 172.9L205.0 173.6L209.0 175.2L211.4 177.5L211.9 180.0L211.0 182.5L208.7 185.0L203.5 189.3L202.0 191.4L201.4 194.0L201.4 201.5L200.3 206.5L197.4 212.0L195.5 214.1L193.1 216.0ZM178.0 216.0L175.6 214.0L173.5 211.5Z" fill="rgb(190, 202, 246)" fill-rule="evenodd"/><path d="M241.0 213.1L239.5 213.4L238.0 213.0L237.0 211.6L236.6 209.5L237.7 204.0L241.1 196.0L241.8 193.0L241.7 190.0L239.5 176.0L239.5 169.0L240.5 164.5L242.4 161.0L245.0 158.8L247.5 158.3L250.0 159.2L251.9 161.0L253.5 163.5L254.6 167.0L254.9 173.0L253.4 183.5L254.8 189.5L254.8 193.5L252.8 200.5L249.7 206.0L245.5 210.4L241.0 213.1ZM173.5 190.5L174.7 186.0L177.0 182.7L180.5 180.0L185.5 177.8L192.0 176.5L198.5 176.4L203.5 177.7L205.0 178.8L205.7 180.0L205.7 181.5L205.0 183.0L200.0 188.2L198.6 190.5L198.3 193.0L198.7 200.0L198.2 204.0L196.3 208.5L192.9 212.5L190.5 214.1L187.5 215.0L184.5 215.2L182.0 214.6L179.5 213.4L177.0 211.4L174.9 208.5L173.5 205.5Z" fill="rgb(135, 160, 240)" fill-rule="evenodd"/><path d="M241.5 211.6L240.0 211.8L239.0 211.5L238.2 210.5L237.8 208.5L238.8 203.5L242.7 195.0L243.5 192.0L241.5 179.0L241.5 171.0L242.3 167.5L243.8 164.5L245.5 162.9L247.5 162.6L249.0 163.3L250.2 164.5L251.3 166.5L252.1 169.0L252.4 174.5L251.4 185.0L251.8 187.0L253.4 190.5L253.6 194.0L252.1 199.5L249.1 205.0L245.5 209.0L241.5 211.6ZM187.0 212.5L183.5 212.4L180.5 211.1L178.0 208.9L176.1 206.0L175.0 202.5L174.7 199.0L175.2 195.0L176.6 189.5L177.7 186.5L179.1 184.5L181.0 182.7L183.5 181.2L187.0 179.9L190.5 179.2L194.0 179.1L197.0 179.5L199.1 180.5L199.9 182.0L199.5 183.5L196.5 187.9L195.7 190.0L195.6 192.5L196.4 199.5L195.8 204.0L194.5 207.0L192.5 209.6L190.0 211.5L187.0 212.5Z" fill="rgb(85, 125, 236)" fill-rule="evenodd"/><path d="M241.0 210.5L240.0 210.4L239.0 209.3L238.7 207.5L239.0 205.5L240.3 201.5L244.5 193.0L245.1 190.5L243.0 181.0L243.0 173.0L243.5 170.4L244.5 168.1L245.5 166.9L247.0 166.4L248.0 166.8L249.0 167.8L250.4 171.5L250.6 177.0L249.6 186.5L250.0 188.0L252.5 191.4L252.7 195.0L251.2 200.0L248.3 205.0L244.5 208.9L242.5 210.1L241.0 210.5ZM186.0 210.5L183.5 210.3L181.5 209.4L179.8 208.0L178.2 206.0L176.7 201.5L177.0 196.0L179.5 188.8L182.3 185.0L184.4 183.5L186.9 182.5L189.5 182.0L192.0 182.1L193.5 182.8L194.2 184.0L192.9 190.0L194.5 198.0L194.3 202.5L193.2 205.5L191.4 208.0L189.0 209.7L186.0 210.5Z" fill="rgb(75, 180, 235)" fill-rule="evenodd"/><path d="M247.0 185.6L246.0 185.3L245.0 183.5L244.2 178.5L244.8 173.0L245.5 171.4L246.5 170.6L247.5 170.9L248.3 172.0L249.1 176.5L248.5 182.5L247.8 184.5L247.0 185.6ZM187.5 208.5L186.0 208.8L184.0 208.6L181.2 207.0L179.1 204.0L178.2 200.0L178.9 195.5L181.0 191.2L184.0 187.8L185.5 186.9L187.0 186.5L188.4 187.0L189.1 188.0L192.2 195.5L193.0 199.5L192.7 202.5L191.7 205.0L190.0 207.1L187.5 208.5ZM243.0 209.0L241.0 209.5L239.8 208.5L239.5 206.0L240.3 203.0L242.3 198.5L246.5 191.5L248.0 190.1L249.5 190.2L251.0 191.1L251.9 193.0L251.9 195.5L251.2 198.5L249.6 202.0L247.6 205.0L245.5 207.2L243.0 209.0Z" fill="rgb(90, 220, 150)" fill-rule="evenodd"/><path d="M187.5 207.0L185.0 207.3L182.5 206.1L180.8 204.0L180.0 201.5L180.0 198.5L181.0 195.5L183.0 193.1L185.0 192.1L187.0 192.3L189.0 193.7L190.6 196.0L191.4 198.5L191.5 201.5L190.7 204.0L189.5 205.7L187.5 207.0ZM243.0 208.2L241.5 208.4L240.8 208.0L240.3 207.0L240.4 204.5L241.4 201.5L243.8 197.0L246.5 193.2L248.5 191.9L250.0 192.1L251.0 193.3L251.3 195.0L250.9 197.5L250.0 200.0L246.9 205.0L245.0 206.9L243.0 208.2Z" fill="rgb(120, 230, 60)" fill-rule="evenodd"/><path d="M244.0 206.1L242.5 206.3L241.8 205.5L241.8 204.0L242.5 201.5L244.0 198.6L246.0 195.8L247.5 194.6L249.0 194.4L249.6 195.0L249.8 196.5L248.9 200.0L246.5 203.9L244.0 206.1ZM187.0 205.1L185.5 205.2L184.0 204.7L182.9 203.5L182.1 201.5L182.1 199.5L182.7 198.0L184.0 196.5L185.5 195.9L187.0 196.1L188.3 197.0L189.3 198.5L189.7 200.0L189.2 203.0L188.0 204.5L187.0 205.1Z" fill="rgb(185, 230, 35)" fill-rule="evenodd"/><path d="M244.5 204.1L243.5 204.0L243.3 203.5L244.0 200.5L246.0 197.6L247.0 196.9L248.0 196.9L248.3 198.5L247.6 200.5L246.0 202.9L244.5 204.1ZM186.5 203.6L185.5 203.6L184.5 203.1L183.6 201.5L184.0 199.1L185.5 197.9L187.0 198.2L188.2 200.0L188.0 202.1L186.5 203.6Z" fill="rgb(240, 205, 25)" fill-rule="evenodd"/><path d="M186.5 201.7L186.0 202.0L185.2 201.5L185.0 200.5L185.5 199.8L186.6 200.0L186.9 201.0L186.5 201.7Z" fill="rgb(245, 135, 25)" fill-rule="evenodd"/></g><g filter="url(#bl2)"><path d="M253 134.5h1M250 135.5h1M251 135.5h1M226 139.5h1M235 140.5h1M245 140.5h1M255 140.5h1M248 141.5h1M251 141.5h1M256 142.5h1M248 143.5h1M250 143.5h1M247 144.5h1M248 144.5h1M253 144.5h1M245 145.5h1M247 145.5h1M255 145.5h1M259 145.5h1M252 146.5h1M255 146.5h1M240 147.5h1M245 147.5h1M249 147.5h1M252 147.5h1M236 148.5h1M246 148.5h1M249 148.5h1M251 148.5h1M252 148.5h1M253 148.5h1M231 149.5h1M235 149.5h1M237 149.5h1M242 149.5h1M244 149.5h1M245 149.5h1M247 149.5h1M234 150.5h1M246 150.5h1M239 151.5h1M240 151.5h1M243 151.5h1M245 151.5h1M250 151.5h1M254 151.5h1M235 152.5h1M242 152.5h1M244 152.5h1M253 152.5h1M257 152.5h1M226 153.5h1M234 153.5h1M255 153.5h1M257 153.5h1M234 154.5h1M240 154.5h1M241 154.5h1M256 154.5h1M258 154.5h1M260 154.5h1M222 155.5h1M232 155.5h1M239 155.5h1M186 156.5h1M191 156.5h1M223 156.5h1M228 156.5h1M236 156.5h1M237 156.5h1M257 156.5h1M260 156.5h1M229 157.5h1M230 157.5h1M238 157.5h1M259 157.5h1M261 157.5h1M234 158.5h1M236 158.5h1M257 158.5h1M259 158.5h1M261 158.5h1M223 159.5h1M258 159.5h1M259 159.5h1M226 160.5h1M228 160.5h1M232 160.5h1M233 160.5h1M236 160.5h1M259 160.5h1M265 160.5h1M178 161.5h1M206 161.5h1M231 161.5h1M236 161.5h1M261 161.5h1M262 161.5h1M264 161.5h1M266 161.5h1M184 162.5h1M194 162.5h1M226 162.5h1M230 162.5h1M197 164.5h1M202 164.5h1M203 164.5h1M227 164.5h1M189 165.5h1M190 165.5h1M195 165.5h1M198 165.5h1M202 165.5h1M204 165.5h1M205 165.5h1M207 165.5h1M210 165.5h1M234 165.5h1M235 165.5h1M260 165.5h1M268 165.5h1M207 166.5h1M213 166.5h1M216 166.5h1M227 166.5h1M231 166.5h1M234 166.5h1M235 166.5h1M261 166.5h1M265 166.5h1M187 167.5h1M189 167.5h1M195 167.5h1M205 167.5h1M214 167.5h1M230 167.5h1M232 167.5h1M233 167.5h1M188 168.5h1M191 168.5h1M197 168.5h1M200 168.5h1M205 168.5h1M209 168.5h1M214 168.5h1M219 168.5h1M220 168.5h1M225 168.5h1M228 168.5h1M184 169.5h1M185 169.5h1M186 169.5h1M191 169.5h1M195 169.5h1M197 169.5h1M200 169.5h1M204 169.5h1M205 169.5h1M206 169.5h1M208 169.5h1M220 169.5h1M232 169.5h1M261 169.5h1M191 170.5h1M195 170.5h1M196 170.5h1M198 170.5h1M199 170.5h1M200 170.5h1M206 170.5h1M208 170.5h1M210 170.5h1M211 170.5h1M223 170.5h1M231 170.5h1M260 170.5h1M261 170.5h1M180 171.5h1M185 171.5h1M188 171.5h1M189 171.5h1M190 171.5h1M193 171.5h1M197 171.5h1M204 171.5h1M208 171.5h1M212 171.5h1M217 171.5h1M219 171.5h1M232 171.5h1M235 171.5h1M261 171.5h1M262 171.5h1M265 171.5h1M181 172.5h1M183 172.5h1M184 172.5h1M186 172.5h1M209 172.5h1M210 172.5h1M211 172.5h1M220 172.5h1M232 172.5h1M234 172.5h1M179 173.5h1M185 173.5h1M211 173.5h1M213 173.5h1M221 173.5h1M224 173.5h1M263 173.5h1M177 174.5h1M179 174.5h1M215 174.5h1M217 174.5h1M221 174.5h1M232 174.5h1M235 174.5h1M260 174.5h1M261 174.5h1M179 175.5h1M220 175.5h1M228 175.5h1M233 175.5h1M265 175.5h1M178 176.5h1M221 176.5h1M223 176.5h1M226 176.5h1M234 176.5h1M235 176.5h1M229 177.5h1M233 177.5h1M266 177.5h1M216 178.5h1M220 178.5h1M224 178.5h1M225 178.5h1M263 178.5h1M264 178.5h1M215 179.5h1M216 179.5h1M219 179.5h1M222 179.5h1M235 179.5h1M260 179.5h1M215 180.5h1M216 180.5h1M219 180.5h1M224 180.5h1M230 180.5h1M234 180.5h1M235 180.5h1M260 180.5h1M218 181.5h1M220 181.5h1M231 181.5h1M233 181.5h1M235 181.5h1M236 181.5h1M259 181.5h1M218 182.5h1M220 182.5h1M227 182.5h1M233 182.5h1M234 182.5h1M236 182.5h1M217 183.5h1M235 183.5h1M259 183.5h1M265 183.5h1M213 184.5h1M225 184.5h1M237 184.5h1M212 185.5h1M220 185.5h1M221 185.5h1M235 185.5h1M236 185.5h1M259 185.5h1M262 185.5h1M213 186.5h1M220 186.5h1M221 186.5h1M236 186.5h1M259 186.5h1M210 187.5h1M212 187.5h1M213 187.5h1M234 187.5h1M236 187.5h1M237 187.5h1M260 187.5h1M218 188.5h1M236 188.5h1M258 188.5h1M259 188.5h1M260 188.5h1M261 188.5h1M265 188.5h1M207 189.5h1M226 189.5h1M231 189.5h1M235 189.5h1M238 189.5h1M259 189.5h1M261 189.5h1M207 190.5h1M210 190.5h1M220 190.5h1M238 190.5h1M259 190.5h1M209 191.5h1M210 191.5h1M211 191.5h1M231 191.5h1M258 191.5h1M263 191.5h1M257 192.5h1M260 192.5h1M205 193.5h1M215 193.5h1M234 193.5h1M238 193.5h1M204 194.5h1M206 194.5h1M208 194.5h1M210 194.5h1M228 194.5h1M230 194.5h1M232 194.5h1M237 194.5h1M238 194.5h1M257 194.5h1M259 194.5h1M205 195.5h1M219 195.5h1M233 195.5h1M234 195.5h1M236 195.5h1M238 195.5h1M219 196.5h1M220 196.5h1M257 196.5h1M258 196.5h1M259 196.5h1M208 197.5h1M211 197.5h1M227 197.5h1M236 197.5h1M258 197.5h1M261 197.5h1M204 198.5h1M207 198.5h1M222 198.5h1M257 198.5h1M258 198.5h1M260 198.5h1M208 199.5h1M211 199.5h1M217 199.5h1M219 199.5h1M233 199.5h1M203 200.5h1M216 200.5h1M236 200.5h1M237 200.5h1M208 201.5h1M210 201.5h1M211 201.5h1M212 201.5h1M223 201.5h1M226 201.5h1M235 201.5h1M260 201.5h1M205 202.5h1M231 202.5h1M234 202.5h1M235 202.5h1M236 202.5h1M216 203.5h1M217 203.5h1M219 203.5h1M230 203.5h1M257 203.5h1M204 204.5h1M215 204.5h1M233 204.5h1M260 204.5h1M205 205.5h1M208 205.5h1M229 205.5h1M231 205.5h1M232 205.5h1M233 205.5h1M235 205.5h1M257 205.5h1M203 206.5h1M255 206.5h1M256 206.5h1M260 206.5h1M261 206.5h1M208 207.5h1M260 207.5h1M202 208.5h1M206 208.5h1M208 208.5h1M215 208.5h1M231 208.5h1M232 208.5h1M234 208.5h1M252 208.5h1M259 208.5h1M203 209.5h1M208 209.5h1M222 209.5h1M230 209.5h1M253 209.5h1M204 210.5h1M207 210.5h1M216 210.5h1M231 210.5h1M254 210.5h1M200 211.5h1M201 211.5h1M250 211.5h1M251 211.5h1M257 211.5h1M206 212.5h1M217 212.5h1M248 212.5h1M253 212.5h1M230 213.5h1" stroke="#a0aef0" stroke-width="1" fill="none"/><path d="M248 151.5h1M247 152.5h1M248 152.5h1M244 153.5h1M246 153.5h1M248 153.5h1M250 153.5h1M251 153.5h1M242 154.5h1M243 154.5h1M244 154.5h1M247 154.5h1M250 154.5h1M251 154.5h1M245 155.5h1M247 155.5h1M249 155.5h1M253 155.5h1M255 155.5h1M244 156.5h1M245 156.5h1M246 156.5h1M247 156.5h1M249 156.5h1M251 156.5h1M254 156.5h1M255 156.5h1M240 157.5h1M243 157.5h1M245 157.5h1M246 157.5h1M248 157.5h1M251 157.5h1M253 157.5h1M256 157.5h1M240 158.5h1M241 158.5h1M243 158.5h1M244 158.5h1M245 158.5h1M248 158.5h1M249 158.5h1M251 158.5h1M252 158.5h1M254 158.5h1M239 159.5h1M240 159.5h1M243 159.5h1M251 159.5h1M254 159.5h1M238 160.5h1M240 160.5h1M241 160.5h1M242 160.5h1M243 160.5h1M255 160.5h1M256 160.5h1M237 161.5h1M239 161.5h1M253 161.5h1M254 161.5h1M256 161.5h1M257 161.5h1M236 162.5h1M237 162.5h1M239 162.5h1M240 162.5h1M255 162.5h1M238 163.5h1M239 163.5h1M240 163.5h1M256 163.5h1M257 163.5h1M236 164.5h1M238 164.5h1M255 164.5h1M256 164.5h1M237 165.5h1M238 165.5h1M239 165.5h1M240 165.5h1M255 165.5h1M257 165.5h1M258 165.5h1M235 166.5h1M239 166.5h1M257 166.5h1M258 166.5h1M256 167.5h1M258 167.5h1M259 167.5h1M236 168.5h1M237 168.5h1M256 168.5h1M257 168.5h1M258 168.5h1M259 168.5h1M260 168.5h1M236 169.5h1M237 169.5h1M239 169.5h1M256 169.5h1M257 169.5h1M236 170.5h1M239 170.5h1M257 170.5h1M259 170.5h1M202 171.5h1M256 171.5h1M257 171.5h1M258 171.5h1M193 172.5h1M195 172.5h1M199 172.5h1M235 172.5h1M237 172.5h1M256 172.5h1M257 172.5h1M258 172.5h1M187 173.5h1M189 173.5h1M190 173.5h1M192 173.5h1M196 173.5h1M201 173.5h1M202 173.5h1M204 173.5h1M206 173.5h1M209 173.5h1M237 173.5h1M238 173.5h1M256 173.5h1M257 173.5h1M259 173.5h1M184 174.5h1M185 174.5h1M186 174.5h1M187 174.5h1M190 174.5h1M196 174.5h1M197 174.5h1M200 174.5h1M201 174.5h1M202 174.5h1M203 174.5h1M208 174.5h1M209 174.5h1M236 174.5h1M237 174.5h1M238 174.5h1M255 174.5h1M257 174.5h1M182 175.5h1M184 175.5h1M186 175.5h1M187 175.5h1M188 175.5h1M191 175.5h1M196 175.5h1M197 175.5h1M198 175.5h1M199 175.5h1M204 175.5h1M205 175.5h1M206 175.5h1M207 175.5h1M211 175.5h1M212 175.5h1M213 175.5h1M255 175.5h1M256 175.5h1M260 175.5h1M180 176.5h1M183 176.5h1M185 176.5h1M188 176.5h1M189 176.5h1M190 176.5h1M192 176.5h1M193 176.5h1M194 176.5h1M195 176.5h1M197 176.5h1M199 176.5h1M200 176.5h1M204 176.5h1M206 176.5h1M209 176.5h1M211 176.5h1M214 176.5h1M237 176.5h1M238 176.5h1M239 176.5h1M255 176.5h1M257 176.5h1M178 177.5h1M181 177.5h1M183 177.5h1M184 177.5h1M186 177.5h1M187 177.5h1M203 177.5h1M207 177.5h1M209 177.5h1M210 177.5h1M255 177.5h1M256 177.5h1M258 177.5h1M177 178.5h1M178 178.5h1M179 178.5h1M180 178.5h1M181 178.5h1M183 178.5h1M207 178.5h1M210 178.5h1M237 178.5h1M238 178.5h1M239 178.5h1M258 178.5h1M259 178.5h1M178 179.5h1M180 179.5h1M209 179.5h1M211 179.5h1M212 179.5h1M214 179.5h1M237 179.5h1M256 179.5h1M178 180.5h1M179 180.5h1M180 180.5h1M209 180.5h1M210 180.5h1M212 180.5h1M213 180.5h1M237 180.5h1M238 180.5h1M255 180.5h1M178 181.5h1M207 181.5h1M208 181.5h1M212 181.5h1M237 181.5h1M240 181.5h1M207 182.5h1M209 182.5h1M239 182.5h1M257 182.5h1M258 182.5h1M206 183.5h1M208 183.5h1M209 183.5h1M211 183.5h1M237 183.5h1M254 183.5h1M255 183.5h1M206 184.5h1M207 184.5h1M209 184.5h1M210 184.5h1M211 184.5h1M239 184.5h1M240 184.5h1M255 184.5h1M205 185.5h1M206 185.5h1M207 185.5h1M208 185.5h1M211 185.5h1M212 185.5h1M240 185.5h1M255 185.5h1M204 186.5h1M205 186.5h1M206 186.5h1M207 186.5h1M208 186.5h1M254 186.5h1M255 186.5h1M258 186.5h1M202 187.5h1M203 187.5h1M204 187.5h1M205 187.5h1M206 187.5h1M207 187.5h1M238 187.5h1M239 187.5h1M240 187.5h1M241 187.5h1M255 187.5h1M256 187.5h1M201 188.5h1M202 188.5h1M206 188.5h1M207 188.5h1M200 189.5h1M202 189.5h1M204 189.5h1M239 189.5h1M256 189.5h1M201 190.5h1M202 190.5h1M241 190.5h1M255 190.5h1M256 190.5h1M199 191.5h1M203 191.5h1M204 191.5h1M240 191.5h1M241 191.5h1M257 191.5h1M199 192.5h1M200 192.5h1M201 192.5h1M202 192.5h1M239 192.5h1M241 192.5h1M242 192.5h1M256 192.5h1M201 193.5h1M203 193.5h1M240 193.5h1M241 193.5h1M255 193.5h1M257 193.5h1M199 194.5h1M201 194.5h1M239 194.5h1M255 194.5h1M199 195.5h1M241 195.5h1M256 195.5h1M203 196.5h1M238 196.5h1M240 196.5h1M255 196.5h1M199 197.5h1M201 197.5h1M254 197.5h1M256 197.5h1M200 198.5h1M202 198.5h1M238 198.5h1M239 198.5h1M240 198.5h1M255 198.5h1M256 198.5h1M239 199.5h1M254 199.5h1M200 200.5h1M201 200.5h1M203 200.5h1M254 200.5h1M255 200.5h1M199 201.5h1M202 201.5h1M238 201.5h1M255 201.5h1M199 202.5h1M203 202.5h1M237 202.5h1M199 203.5h1M201 203.5h1M202 203.5h1M237 203.5h1M238 203.5h1M253 203.5h1M254 203.5h1M199 204.5h1M200 204.5h1M201 204.5h1M236 204.5h1M237 204.5h1M251 204.5h1M199 205.5h1M200 205.5h1M236 205.5h1M251 205.5h1M198 206.5h1M199 206.5h1M200 206.5h1M250 206.5h1M251 206.5h1M252 206.5h1M253 206.5h1M198 207.5h1M199 207.5h1M200 207.5h1M235 207.5h1M250 207.5h1M251 207.5h1M198 208.5h1M199 208.5h1M201 208.5h1M251 208.5h1M197 209.5h1M200 209.5h1M201 209.5h1M250 209.5h1M196 210.5h1M200 210.5h1M235 210.5h1M236 210.5h1M249 210.5h1M195 211.5h1M196 211.5h1M198 211.5h1M199 211.5h1M200 211.5h1M235 211.5h1M246 211.5h1M248 211.5h1M195 212.5h1M196 212.5h1M197 212.5h1M199 212.5h1M237 212.5h1M246 212.5h1M247 212.5h1M198 213.5h1M243 213.5h1M244 213.5h1" stroke="#8898ec" stroke-width="1" fill="none"/><path d="M245 158.5h1M246 158.5h1M247 158.5h1M244 159.5h1M249 159.5h1M250 159.5h1M251 159.5h1M244 160.5h1M245 160.5h1M247 160.5h1M248 160.5h1M249 160.5h1M252 160.5h1M243 161.5h1M244 161.5h1M245 161.5h1M246 161.5h1M247 161.5h1M248 161.5h1M249 161.5h1M242 162.5h1M243 162.5h1M244 162.5h1M245 162.5h1M246 162.5h1M247 162.5h1M248 162.5h1M249 162.5h1M240 163.5h1M243 163.5h1M244 163.5h1M249 163.5h1M250 163.5h1M251 163.5h1M252 163.5h1M253 163.5h1M241 164.5h1M242 164.5h1M243 164.5h1M244 164.5h1M245 164.5h1M250 164.5h1M251 164.5h1M252 164.5h1M253 164.5h1M254 164.5h1M241 165.5h1M242 165.5h1M243 165.5h1M251 165.5h1M252 165.5h1M253 165.5h1M255 165.5h1M240 166.5h1M241 166.5h1M242 166.5h1M251 166.5h1M252 166.5h1M241 167.5h1M242 167.5h1M252 167.5h1M253 167.5h1M240 168.5h1M241 168.5h1M242 168.5h1M252 168.5h1M253 168.5h1M254 168.5h1M255 168.5h1M240 169.5h1M241 169.5h1M253 169.5h1M254 169.5h1M255 169.5h1M239 170.5h1M240 170.5h1M241 170.5h1M242 170.5h1M253 170.5h1M254 170.5h1M239 171.5h1M240 171.5h1M241 171.5h1M252 171.5h1M253 171.5h1M254 171.5h1M240 172.5h1M253 172.5h1M239 173.5h1M241 173.5h1M252 173.5h1M253 173.5h1M254 173.5h1M255 173.5h1M239 174.5h1M240 174.5h1M241 174.5h1M253 174.5h1M254 174.5h1M255 174.5h1M240 175.5h1M241 175.5h1M253 175.5h1M254 175.5h1M191 176.5h1M192 176.5h1M195 176.5h1M197 176.5h1M198 176.5h1M202 176.5h1M240 176.5h1M241 176.5h1M252 176.5h1M253 176.5h1M187 177.5h1M188 177.5h1M189 177.5h1M190 177.5h1M191 177.5h1M192 177.5h1M193 177.5h1M194 177.5h1M195 177.5h1M196 177.5h1M197 177.5h1M198 177.5h1M199 177.5h1M200 177.5h1M201 177.5h1M241 177.5h1M253 177.5h1M254 177.5h1M185 178.5h1M186 178.5h1M187 178.5h1M188 178.5h1M189 178.5h1M190 178.5h1M191 178.5h1M192 178.5h1M195 178.5h1M197 178.5h1M198 178.5h1M199 178.5h1M200 178.5h1M202 178.5h1M203 178.5h1M204 178.5h1M240 178.5h1M241 178.5h1M253 178.5h1M181 179.5h1M183 179.5h1M184 179.5h1M185 179.5h1M186 179.5h1M187 179.5h1M188 179.5h1M189 179.5h1M190 179.5h1M191 179.5h1M193 179.5h1M194 179.5h1M195 179.5h1M196 179.5h1M197 179.5h1M199 179.5h1M200 179.5h1M202 179.5h1M203 179.5h1M206 179.5h1M252 179.5h1M253 179.5h1M254 179.5h1M182 180.5h1M183 180.5h1M198 180.5h1M199 180.5h1M201 180.5h1M203 180.5h1M204 180.5h1M205 180.5h1M206 180.5h1M240 180.5h1M241 180.5h1M252 180.5h1M253 180.5h1M254 180.5h1M180 181.5h1M181 181.5h1M182 181.5h1M183 181.5h1M200 181.5h1M201 181.5h1M203 181.5h1M204 181.5h1M205 181.5h1M206 181.5h1M207 181.5h1M240 181.5h1M252 181.5h1M253 181.5h1M254 181.5h1M177 182.5h1M178 182.5h1M180 182.5h1M181 182.5h1M182 182.5h1M200 182.5h1M201 182.5h1M202 182.5h1M203 182.5h1M204 182.5h1M206 182.5h1M241 182.5h1M242 182.5h1M252 182.5h1M253 182.5h1M179 183.5h1M180 183.5h1M200 183.5h1M201 183.5h1M202 183.5h1M203 183.5h1M205 183.5h1M240 183.5h1M241 183.5h1M242 183.5h1M252 183.5h1M177 184.5h1M178 184.5h1M179 184.5h1M180 184.5h1M200 184.5h1M201 184.5h1M202 184.5h1M203 184.5h1M204 184.5h1M177 185.5h1M178 185.5h1M199 185.5h1M200 185.5h1M201 185.5h1M202 185.5h1M203 185.5h1M242 185.5h1M251 185.5h1M252 185.5h1M253 185.5h1M177 186.5h1M178 186.5h1M198 186.5h1M199 186.5h1M200 186.5h1M201 186.5h1M203 186.5h1M241 186.5h1M242 186.5h1M251 186.5h1M252 186.5h1M177 187.5h1M198 187.5h1M199 187.5h1M201 187.5h1M241 187.5h1M243 187.5h1M252 187.5h1M253 187.5h1M254 187.5h1M198 188.5h1M199 188.5h1M200 188.5h1M242 188.5h1M243 188.5h1M253 188.5h1M254 188.5h1M196 189.5h1M197 189.5h1M198 189.5h1M242 189.5h1M254 189.5h1M255 189.5h1M242 190.5h1M243 190.5h1M196 191.5h1M198 191.5h1M242 191.5h1M243 191.5h1M254 191.5h1M255 191.5h1M196 192.5h1M198 192.5h1M242 192.5h1M254 192.5h1M255 192.5h1M196 193.5h1M197 193.5h1M242 193.5h1M243 193.5h1M254 193.5h1M255 193.5h1M196 194.5h1M197 194.5h1M198 194.5h1M242 194.5h1M254 194.5h1M196 195.5h1M197 195.5h1M242 195.5h1M254 195.5h1M196 196.5h1M197 196.5h1M198 196.5h1M253 196.5h1M197 197.5h1M198 197.5h1M199 197.5h1M242 197.5h1M254 197.5h1M197 198.5h1M199 198.5h1M241 198.5h1M198 199.5h1M199 199.5h1M253 199.5h1M197 200.5h1M198 200.5h1M199 200.5h1M240 200.5h1M253 200.5h1M197 201.5h1M198 201.5h1M239 201.5h1M252 201.5h1M197 202.5h1M198 202.5h1M239 202.5h1M252 202.5h1M196 203.5h1M197 203.5h1M198 203.5h1M238 203.5h1M239 203.5h1M250 203.5h1M251 203.5h1M252 203.5h1M196 204.5h1M197 204.5h1M238 204.5h1M250 204.5h1M196 205.5h1M197 205.5h1M198 205.5h1M249 205.5h1M195 206.5h1M197 206.5h1M198 206.5h1M237 206.5h1M238 206.5h1M195 207.5h1M197 207.5h1M237 207.5h1M249 207.5h1M194 208.5h1M196 208.5h1M237 208.5h1M247 208.5h1M248 208.5h1M177 209.5h1M178 209.5h1M196 209.5h1M246 209.5h1M178 210.5h1M179 210.5h1M192 210.5h1M193 210.5h1M194 210.5h1M237 210.5h1M238 210.5h1M244 210.5h1M245 210.5h1M179 211.5h1M193 211.5h1M194 211.5h1M237 211.5h1M238 211.5h1M243 211.5h1M245 211.5h1M178 212.5h1M179 212.5h1M181 212.5h1M182 212.5h1M187 212.5h1M188 212.5h1M189 212.5h1M191 212.5h1M192 212.5h1M193 212.5h1M194 212.5h1M238 212.5h1M239 212.5h1M240 212.5h1M241 212.5h1M242 212.5h1M243 212.5h1M180 213.5h1M181 213.5h1M182 213.5h1M184 213.5h1M186 213.5h1M187 213.5h1M188 213.5h1M189 213.5h1M237 213.5h1M238 213.5h1M239 213.5h1" stroke="#6f88ea" stroke-width="1" fill="none"/><path d="M246 163.5h1M247 163.5h1M248 163.5h1M249 163.5h1M244 164.5h1M245 164.5h1M246 164.5h1M247 164.5h1M248 164.5h1M249 164.5h1M245 165.5h1M246 165.5h1M248 165.5h1M249 165.5h1M250 165.5h1M243 166.5h1M244 166.5h1M246 166.5h1M247 166.5h1M249 166.5h1M250 166.5h1M251 166.5h1M244 167.5h1M245 167.5h1M248 167.5h1M249 167.5h1M251 167.5h1M243 168.5h1M244 168.5h1M249 168.5h1M250 168.5h1M252 168.5h1M243 169.5h1M244 169.5h1M249 169.5h1M250 169.5h1M242 170.5h1M243 170.5h1M244 170.5h1M250 170.5h1M251 170.5h1M252 170.5h1M242 171.5h1M243 171.5h1M250 171.5h1M251 171.5h1M252 171.5h1M242 172.5h1M243 172.5h1M251 172.5h1M252 172.5h1M241 173.5h1M243 173.5h1M251 173.5h1M252 173.5h1M241 174.5h1M242 174.5h1M243 174.5h1M251 174.5h1M252 174.5h1M251 175.5h1M252 175.5h1M242 176.5h1M243 176.5h1M251 176.5h1M252 176.5h1M241 177.5h1M242 177.5h1M243 177.5h1M251 177.5h1M252 177.5h1M242 178.5h1M243 178.5h1M251 178.5h1M252 178.5h1M191 179.5h1M192 179.5h1M193 179.5h1M194 179.5h1M242 179.5h1M251 179.5h1M252 179.5h1M186 180.5h1M188 180.5h1M189 180.5h1M190 180.5h1M191 180.5h1M192 180.5h1M194 180.5h1M195 180.5h1M197 180.5h1M198 180.5h1M199 180.5h1M242 180.5h1M243 180.5h1M251 180.5h1M252 180.5h1M184 181.5h1M185 181.5h1M186 181.5h1M187 181.5h1M188 181.5h1M190 181.5h1M192 181.5h1M194 181.5h1M195 181.5h1M196 181.5h1M198 181.5h1M199 181.5h1M242 181.5h1M243 181.5h1M251 181.5h1M182 182.5h1M184 182.5h1M185 182.5h1M186 182.5h1M187 182.5h1M188 182.5h1M189 182.5h1M190 182.5h1M191 182.5h1M192 182.5h1M193 182.5h1M194 182.5h1M196 182.5h1M197 182.5h1M198 182.5h1M199 182.5h1M242 182.5h1M243 182.5h1M251 182.5h1M181 183.5h1M182 183.5h1M183 183.5h1M184 183.5h1M185 183.5h1M186 183.5h1M193 183.5h1M194 183.5h1M195 183.5h1M196 183.5h1M197 183.5h1M198 183.5h1M199 183.5h1M243 183.5h1M250 183.5h1M251 183.5h1M180 184.5h1M181 184.5h1M182 184.5h1M183 184.5h1M195 184.5h1M197 184.5h1M198 184.5h1M199 184.5h1M243 184.5h1M250 184.5h1M251 184.5h1M179 185.5h1M181 185.5h1M182 185.5h1M194 185.5h1M195 185.5h1M196 185.5h1M197 185.5h1M198 185.5h1M250 185.5h1M251 185.5h1M178 186.5h1M179 186.5h1M180 186.5h1M181 186.5h1M194 186.5h1M195 186.5h1M197 186.5h1M243 186.5h1M244 186.5h1M250 186.5h1M251 186.5h1M178 187.5h1M179 187.5h1M180 187.5h1M195 187.5h1M196 187.5h1M197 187.5h1M250 187.5h1M251 187.5h1M177 188.5h1M178 188.5h1M179 188.5h1M193 188.5h1M194 188.5h1M195 188.5h1M196 188.5h1M243 188.5h1M244 188.5h1M245 188.5h1M252 188.5h1M177 189.5h1M178 189.5h1M179 189.5h1M193 189.5h1M194 189.5h1M195 189.5h1M243 189.5h1M244 189.5h1M245 189.5h1M251 189.5h1M252 189.5h1M178 190.5h1M179 190.5h1M193 190.5h1M194 190.5h1M195 190.5h1M244 190.5h1M245 190.5h1M252 190.5h1M253 190.5h1M177 191.5h1M178 191.5h1M194 191.5h1M195 191.5h1M244 191.5h1M253 191.5h1M254 191.5h1M178 192.5h1M193 192.5h1M194 192.5h1M195 192.5h1M244 192.5h1M177 193.5h1M178 193.5h1M194 193.5h1M195 193.5h1M196 193.5h1M244 193.5h1M253 193.5h1M254 193.5h1M194 194.5h1M195 194.5h1M243 194.5h1M253 194.5h1M177 195.5h1M195 195.5h1M243 195.5h1M253 195.5h1M177 196.5h1M195 196.5h1M196 196.5h1M243 196.5h1M253 196.5h1M194 197.5h1M195 197.5h1M242 197.5h1M252 197.5h1M195 198.5h1M196 198.5h1M242 198.5h1M252 198.5h1M253 198.5h1M195 199.5h1M196 199.5h1M241 199.5h1M252 199.5h1M195 200.5h1M196 200.5h1M240 200.5h1M241 200.5h1M252 200.5h1M195 201.5h1M196 201.5h1M241 201.5h1M251 201.5h1M195 202.5h1M240 202.5h1M250 202.5h1M251 202.5h1M194 203.5h1M196 203.5h1M239 203.5h1M250 203.5h1M177 204.5h1M195 204.5h1M249 204.5h1M177 205.5h1M193 205.5h1M194 205.5h1M195 205.5h1M239 205.5h1M248 205.5h1M249 205.5h1M177 206.5h1M178 206.5h1M193 206.5h1M194 206.5h1M195 206.5h1M238 206.5h1M248 206.5h1M177 207.5h1M178 207.5h1M179 207.5h1M192 207.5h1M193 207.5h1M194 207.5h1M238 207.5h1M247 207.5h1M178 208.5h1M179 208.5h1M192 208.5h1M193 208.5h1M238 208.5h1M245 208.5h1M246 208.5h1M180 209.5h1M181 209.5h1M190 209.5h1M191 209.5h1M192 209.5h1M193 209.5h1M238 209.5h1M239 209.5h1M244 209.5h1M245 209.5h1M179 210.5h1M181 210.5h1M188 210.5h1M189 210.5h1M190 210.5h1M191 210.5h1M192 210.5h1M238 210.5h1M239 210.5h1M244 210.5h1M181 211.5h1M182 211.5h1M183 211.5h1M184 211.5h1M185 211.5h1M186 211.5h1M187 211.5h1M188 211.5h1M189 211.5h1M190 211.5h1M240 211.5h1M241 211.5h1M183 212.5h1M185 212.5h1M186 212.5h1M187 212.5h1M189 212.5h1M239 212.5h1M240 212.5h1M185 213.5h1" stroke="#68a8ef" stroke-width="1" fill="none"/><path d="M245 167.5h1M246 167.5h1M247 167.5h1M248 167.5h1M245 168.5h1M247 168.5h1M248 168.5h1M249 168.5h1M244 169.5h1M245 169.5h1M246 169.5h1M247 169.5h1M250 169.5h1M244 170.5h1M245 170.5h1M246 170.5h1M247 170.5h1M248 170.5h1M249 170.5h1M250 170.5h1M244 171.5h1M245 171.5h1M246 171.5h1M248 171.5h1M249 171.5h1M250 171.5h1M243 172.5h1M245 172.5h1M248 172.5h1M249 172.5h1M250 172.5h1M243 173.5h1M244 173.5h1M245 173.5h1M249 173.5h1M250 173.5h1M243 174.5h1M244 174.5h1M244 175.5h1M250 175.5h1M251 175.5h1M244 176.5h1M249 176.5h1M250 176.5h1M243 177.5h1M244 177.5h1M250 177.5h1M243 178.5h1M244 178.5h1M250 178.5h1M251 178.5h1M244 179.5h1M249 179.5h1M250 179.5h1M243 180.5h1M244 180.5h1M249 180.5h1M250 180.5h1M243 181.5h1M244 181.5h1M249 181.5h1M250 181.5h1M188 182.5h1M189 182.5h1M190 182.5h1M191 182.5h1M192 182.5h1M244 182.5h1M249 182.5h1M185 183.5h1M187 183.5h1M188 183.5h1M189 183.5h1M190 183.5h1M191 183.5h1M192 183.5h1M193 183.5h1M244 183.5h1M245 183.5h1M249 183.5h1M250 183.5h1M184 184.5h1M185 184.5h1M186 184.5h1M187 184.5h1M188 184.5h1M190 184.5h1M191 184.5h1M192 184.5h1M193 184.5h1M244 184.5h1M245 184.5h1M248 184.5h1M249 184.5h1M182 185.5h1M183 185.5h1M184 185.5h1M185 185.5h1M186 185.5h1M187 185.5h1M188 185.5h1M189 185.5h1M190 185.5h1M191 185.5h1M192 185.5h1M193 185.5h1M194 185.5h1M244 185.5h1M245 185.5h1M246 185.5h1M248 185.5h1M249 185.5h1M250 185.5h1M182 186.5h1M183 186.5h1M184 186.5h1M185 186.5h1M186 186.5h1M187 186.5h1M188 186.5h1M189 186.5h1M190 186.5h1M191 186.5h1M192 186.5h1M193 186.5h1M244 186.5h1M245 186.5h1M246 186.5h1M247 186.5h1M248 186.5h1M249 186.5h1M181 187.5h1M182 187.5h1M183 187.5h1M184 187.5h1M185 187.5h1M186 187.5h1M188 187.5h1M189 187.5h1M190 187.5h1M191 187.5h1M192 187.5h1M193 187.5h1M244 187.5h1M245 187.5h1M246 187.5h1M247 187.5h1M248 187.5h1M249 187.5h1M180 188.5h1M181 188.5h1M182 188.5h1M183 188.5h1M184 188.5h1M189 188.5h1M190 188.5h1M191 188.5h1M192 188.5h1M193 188.5h1M245 188.5h1M246 188.5h1M247 188.5h1M248 188.5h1M249 188.5h1M180 189.5h1M181 189.5h1M182 189.5h1M190 189.5h1M191 189.5h1M192 189.5h1M193 189.5h1M245 189.5h1M246 189.5h1M247 189.5h1M249 189.5h1M250 189.5h1M179 190.5h1M180 190.5h1M181 190.5h1M182 190.5h1M190 190.5h1M191 190.5h1M192 190.5h1M245 190.5h1M246 190.5h1M247 190.5h1M248 190.5h1M250 190.5h1M251 190.5h1M252 190.5h1M179 191.5h1M180 191.5h1M181 191.5h1M191 191.5h1M192 191.5h1M193 191.5h1M245 191.5h1M246 191.5h1M251 191.5h1M178 192.5h1M179 192.5h1M180 192.5h1M191 192.5h1M192 192.5h1M193 192.5h1M245 192.5h1M246 192.5h1M252 192.5h1M178 193.5h1M179 193.5h1M180 193.5h1M191 193.5h1M192 193.5h1M193 193.5h1M245 193.5h1M252 193.5h1M177 194.5h1M178 194.5h1M193 194.5h1M194 194.5h1M244 194.5h1M245 194.5h1M178 195.5h1M179 195.5h1M193 195.5h1M194 195.5h1M244 195.5h1M252 195.5h1M177 196.5h1M178 196.5h1M193 196.5h1M194 196.5h1M243 196.5h1M244 196.5h1M252 196.5h1M177 197.5h1M178 197.5h1M193 197.5h1M194 197.5h1M252 197.5h1M177 198.5h1M178 198.5h1M193 198.5h1M194 198.5h1M242 198.5h1M251 198.5h1M252 198.5h1M178 199.5h1M193 199.5h1M194 199.5h1M242 199.5h1M251 199.5h1M177 200.5h1M193 200.5h1M194 200.5h1M195 200.5h1M241 200.5h1M251 200.5h1M177 201.5h1M193 201.5h1M194 201.5h1M241 201.5h1M250 201.5h1M251 201.5h1M178 202.5h1M193 202.5h1M194 202.5h1M241 202.5h1M250 202.5h1M178 203.5h1M179 203.5h1M193 203.5h1M194 203.5h1M249 203.5h1M250 203.5h1M178 204.5h1M179 204.5h1M192 204.5h1M193 204.5h1M240 204.5h1M248 204.5h1M249 204.5h1M179 205.5h1M192 205.5h1M193 205.5h1M239 205.5h1M248 205.5h1M178 206.5h1M179 206.5h1M180 206.5h1M191 206.5h1M192 206.5h1M193 206.5h1M239 206.5h1M247 206.5h1M179 207.5h1M180 207.5h1M181 207.5h1M190 207.5h1M191 207.5h1M246 207.5h1M247 207.5h1M180 208.5h1M181 208.5h1M182 208.5h1M183 208.5h1M189 208.5h1M190 208.5h1M191 208.5h1M192 208.5h1M239 208.5h1M240 208.5h1M245 208.5h1M181 209.5h1M182 209.5h1M183 209.5h1M184 209.5h1M185 209.5h1M186 209.5h1M187 209.5h1M188 209.5h1M189 209.5h1M239 209.5h1M244 209.5h1M183 210.5h1M184 210.5h1M185 210.5h1M186 210.5h1M187 210.5h1M188 210.5h1M240 210.5h1M241 210.5h1M242 210.5h1" stroke="#68d0d8" stroke-width="1" fill="none"/><path d="M246 171.5h1M247 171.5h1M245 172.5h1M246 172.5h1M247 172.5h1M248 172.5h1M245 173.5h1M247 173.5h1M248 173.5h1M245 174.5h1M246 174.5h1M247 174.5h1M248 174.5h1M249 174.5h1M244 175.5h1M245 175.5h1M246 175.5h1M247 175.5h1M248 175.5h1M249 175.5h1M244 176.5h1M245 176.5h1M246 176.5h1M247 176.5h1M248 176.5h1M249 176.5h1M245 177.5h1M246 177.5h1M247 177.5h1M248 177.5h1M249 177.5h1M244 178.5h1M245 178.5h1M246 178.5h1M247 178.5h1M248 178.5h1M249 178.5h1M244 179.5h1M245 179.5h1M246 179.5h1M247 179.5h1M248 179.5h1M249 179.5h1M244 180.5h1M245 180.5h1M246 180.5h1M247 180.5h1M248 180.5h1M249 180.5h1M245 181.5h1M246 181.5h1M247 181.5h1M248 181.5h1M249 181.5h1M245 182.5h1M246 182.5h1M247 182.5h1M248 182.5h1M246 183.5h1M247 183.5h1M246 184.5h1M247 184.5h1M248 184.5h1M247 185.5h1M248 185.5h1M187 187.5h1M188 187.5h1M185 188.5h1M186 188.5h1M187 188.5h1M188 188.5h1M189 188.5h1M183 189.5h1M184 189.5h1M185 189.5h1M186 189.5h1M187 189.5h1M188 189.5h1M189 189.5h1M182 190.5h1M183 190.5h1M184 190.5h1M185 190.5h1M186 190.5h1M187 190.5h1M188 190.5h1M189 190.5h1M190 190.5h1M181 191.5h1M182 191.5h1M184 191.5h1M185 191.5h1M186 191.5h1M187 191.5h1M188 191.5h1M189 191.5h1M190 191.5h1M247 191.5h1M248 191.5h1M249 191.5h1M250 191.5h1M251 191.5h1M181 192.5h1M182 192.5h1M183 192.5h1M184 192.5h1M185 192.5h1M186 192.5h1M187 192.5h1M188 192.5h1M189 192.5h1M190 192.5h1M191 192.5h1M246 192.5h1M247 192.5h1M248 192.5h1M249 192.5h1M250 192.5h1M251 192.5h1M180 193.5h1M181 193.5h1M182 193.5h1M183 193.5h1M188 193.5h1M189 193.5h1M190 193.5h1M245 193.5h1M246 193.5h1M247 193.5h1M251 193.5h1M180 194.5h1M181 194.5h1M182 194.5h1M189 194.5h1M190 194.5h1M191 194.5h1M245 194.5h1M251 194.5h1M252 194.5h1M180 195.5h1M181 195.5h1M190 195.5h1M191 195.5h1M192 195.5h1M244 195.5h1M245 195.5h1M251 195.5h1M252 195.5h1M179 196.5h1M180 196.5h1M191 196.5h1M192 196.5h1M244 196.5h1M251 196.5h1M179 197.5h1M180 197.5h1M191 197.5h1M192 197.5h1M193 197.5h1M243 197.5h1M244 197.5h1M251 197.5h1M252 197.5h1M179 198.5h1M180 198.5h1M192 198.5h1M193 198.5h1M243 198.5h1M251 198.5h1M178 199.5h1M179 199.5h1M180 199.5h1M192 199.5h1M193 199.5h1M242 199.5h1M251 199.5h1M178 200.5h1M179 200.5h1M180 200.5h1M192 200.5h1M193 200.5h1M242 200.5h1M250 200.5h1M178 201.5h1M179 201.5h1M180 201.5h1M192 201.5h1M241 201.5h1M242 201.5h1M250 201.5h1M179 202.5h1M180 202.5h1M192 202.5h1M193 202.5h1M241 202.5h1M249 202.5h1M179 203.5h1M180 203.5h1M191 203.5h1M192 203.5h1M193 203.5h1M241 203.5h1M249 203.5h1M179 204.5h1M180 204.5h1M191 204.5h1M192 204.5h1M240 204.5h1M248 204.5h1M180 205.5h1M181 205.5h1M190 205.5h1M191 205.5h1M192 205.5h1M240 205.5h1M247 205.5h1M180 206.5h1M181 206.5h1M182 206.5h1M183 206.5h1M189 206.5h1M190 206.5h1M191 206.5h1M240 206.5h1M246 206.5h1M247 206.5h1M181 207.5h1M182 207.5h1M183 207.5h1M186 207.5h1M187 207.5h1M188 207.5h1M189 207.5h1M240 207.5h1M245 207.5h1M183 208.5h1M184 208.5h1M185 208.5h1M186 208.5h1M187 208.5h1M188 208.5h1M189 208.5h1M240 208.5h1M241 208.5h1M243 208.5h1M244 208.5h1M186 209.5h1M241 209.5h1M242 209.5h1M243 209.5h1" stroke="#80e090" stroke-width="1" fill="none"/><path d="M184 192.5h1M185 192.5h1M186 192.5h1M187 192.5h1M249 192.5h1M250 192.5h1M183 193.5h1M184 193.5h1M185 193.5h1M186 193.5h1M187 193.5h1M188 193.5h1M247 193.5h1M248 193.5h1M250 193.5h1M182 194.5h1M183 194.5h1M189 194.5h1M246 194.5h1M247 194.5h1M251 194.5h1M181 195.5h1M182 195.5h1M189 195.5h1M245 195.5h1M251 195.5h1M181 196.5h1M182 196.5h1M190 196.5h1M245 196.5h1M181 197.5h1M191 197.5h1M180 198.5h1M191 198.5h1M243 198.5h1M244 198.5h1M251 198.5h1M180 199.5h1M191 199.5h1M243 199.5h1M180 200.5h1M191 200.5h1M192 200.5h1M242 200.5h1M250 200.5h1M180 201.5h1M191 201.5h1M242 201.5h1M180 202.5h1M249 202.5h1M181 203.5h1M181 204.5h1M247 204.5h1M181 205.5h1M182 205.5h1M189 205.5h1M190 205.5h1M240 205.5h1M241 205.5h1M247 205.5h1M182 206.5h1M183 206.5h1M188 206.5h1M189 206.5h1M240 206.5h1M184 207.5h1M185 207.5h1M186 207.5h1M187 207.5h1M188 207.5h1M241 207.5h1M245 207.5h1M241 208.5h1" stroke="#98e050" stroke-width="1" fill="none"/></g></g><rect x="179.2" y="148.8" width="44.80000000000001" height="19.69999999999999" fill="none" stroke="#f8e8f8" stroke-width="4" stroke-opacity="0.7"/><rect x="179.2" y="168.5" width="35.10000000000002" height="20.30000000000001" fill="none" stroke="#f8e8f8" stroke-width="4" stroke-opacity="0.7"/><rect x="224" y="148.8" width="39.80000000000001" height="25.399999999999977" fill="none" stroke="#f8e8f8" stroke-width="4" stroke-opacity="0.7"/><rect x="228.8" y="174.2" width="35.0" height="17.5" fill="none" stroke="#f8e8f8" stroke-width="4" stroke-opacity="0.7"/><rect x="228.8" y="191.7" width="35.0" height="21.30000000000001" fill="none" stroke="#f8e8f8" stroke-width="4" stroke-opacity="0.7"/><rect x="179.2" y="148.8" width="44.80000000000001" height="19.69999999999999" fill="none" stroke="#b828d8" stroke-opacity="0.66" stroke-width="1.35"/><rect x="179.2" y="168.5" width="35.10000000000002" height="20.30000000000001" fill="none" stroke="#b828d8" stroke-opacity="0.66" stroke-width="1.35"/><rect x="224" y="148.8" width="39.80000000000001" height="25.399999999999977" fill="none" stroke="#b828d8" stroke-opacity="0.66" stroke-width="1.35"/><rect x="228.8" y="174.2" width="35.0" height="17.5" fill="none" stroke="#b828d8" stroke-opacity="0.66" stroke-width="1.35"/><rect x="228.8" y="191.7" width="35.0" height="21.30000000000001" fill="none" stroke="#b828d8" stroke-opacity="0.66" stroke-width="1.35"/><path d="M176.5 122H268.5V213.5" stroke="#7a7a7a" stroke-width="1" fill="none"/><path d="M176.5 122V213.5H268.5" stroke="#222" stroke-width="1.3" fill="none"/><path d="M176.5 213.5h-2.2M176.5 213.5v2.2M176.5 206.6h-1.2M183.4 213.5v1.2M176.5 202.6h-1.2M187.5 213.5v1.2M176.5 199.7h-1.2M190.3 213.5v1.2M176.5 197.5h-1.2M192.6 213.5v1.2M176.5 195.7h-1.2M194.4 213.5v1.2M176.5 194.2h-1.2M195.9 213.5v1.2M176.5 192.8h-1.2M197.3 213.5v1.2M176.5 191.7h-1.2M198.4 213.5v1.2M176.5 190.6h-2.2M199.5 213.5v2.2M176.5 183.7h-1.2M206.4 213.5v1.2M176.5 179.7h-1.2M210.5 213.5v1.2M176.5 176.9h-1.2M213.3 213.5v1.2M176.5 174.6h-1.2M215.6 213.5v1.2M176.5 172.8h-1.2M217.4 213.5v1.2M176.5 171.3h-1.2M218.9 213.5v1.2M176.5 170.0h-1.2M220.3 213.5v1.2M176.5 168.8h-1.2M221.4 213.5v1.2M176.5 167.8h-2.2M222.5 213.5v2.2M176.5 160.9h-1.2M229.4 213.5v1.2M176.5 156.8h-1.2M233.5 213.5v1.2M176.5 154.0h-1.2M236.3 213.5v1.2M176.5 151.8h-1.2M238.6 213.5v1.2M176.5 149.9h-1.2M240.4 213.5v1.2M176.5 148.4h-1.2M241.9 213.5v1.2M176.5 147.1h-1.2M243.3 213.5v1.2M176.5 145.9h-1.2M244.4 213.5v1.2M176.5 144.9h-2.2M245.5 213.5v2.2M176.5 138.0h-1.2M252.4 213.5v1.2M176.5 134.0h-1.2M256.5 213.5v1.2M176.5 131.1h-1.2M259.3 213.5v1.2M176.5 128.9h-1.2M261.6 213.5v1.2M176.5 127.1h-1.2M263.4 213.5v1.2M176.5 125.5h-1.2M264.9 213.5v1.2M176.5 124.2h-1.2M266.3 213.5v1.2M176.5 123.0h-1.2M267.4 213.5v1.2M176.5 122h-2.2M268.5 213.5v2.2" stroke="#222" stroke-width="0.7" fill="none"/><text x="174.0" y="215.7" font-size="5.6" font-weight="bold" text-anchor="end" textLength="6.5" lengthAdjust="spacingAndGlyphs">10<tspan font-size="4" dy="-2">0</tspan></text><text x="177.5" y="222.5" font-size="5.6" font-weight="bold" text-anchor="middle" textLength="6.5" lengthAdjust="spacingAndGlyphs">10<tspan font-size="4" dy="-2">0</tspan></text><text x="174.0" y="192.8" font-size="5.6" font-weight="bold" text-anchor="end" textLength="6.5" lengthAdjust="spacingAndGlyphs">10<tspan font-size="4" dy="-2">1</tspan></text><text x="200.5" y="222.5" font-size="5.6" font-weight="bold" text-anchor="middle" textLength="6.5" lengthAdjust="spacingAndGlyphs">10<tspan font-size="4" dy="-2">1</tspan></text><text x="174.0" y="169.9" font-size="5.6" font-weight="bold" text-anchor="end" textLength="6.5" lengthAdjust="spacingAndGlyphs">10<tspan font-size="4" dy="-2">2</tspan></text><text x="223.5" y="222.5" font-size="5.6" font-weight="bold" text-anchor="middle" textLength="6.5" lengthAdjust="spacingAndGlyphs">10<tspan font-size="4" dy="-2">2</tspan></text><text x="174.0" y="147.1" font-size="5.6" font-weight="bold" text-anchor="end" textLength="6.5" lengthAdjust="spacingAndGlyphs">10<tspan font-size="4" dy="-2">3</tspan></text><text x="246.5" y="222.5" font-size="5.6" font-weight="bold" text-anchor="middle" textLength="6.5" lengthAdjust="spacingAndGlyphs">10<tspan font-size="4" dy="-2">3</tspan></text><text x="174.0" y="124.2" font-size="5.6" font-weight="bold" text-anchor="end" textLength="6.5" lengthAdjust="spacingAndGlyphs">10<tspan font-size="4" dy="-2">4</tspan></text><text x="269.5" y="222.5" font-size="5.6" font-weight="bold" text-anchor="middle" textLength="6.5" lengthAdjust="spacingAndGlyphs">10<tspan font-size="4" dy="-2">4</tspan></text><text x="217" y="140.8" font-size="14.5" text-anchor="middle" stroke="#000" stroke-width="0.25">S310A</text><clipPath id="c7"><rect x="300" y="122" width="92" height="94"/></clipPath><g clip-path="url(#c7)"><g filter="url(#bl)"><path d="M361.0 218.5L360.6 214.5L361.9 205.5L360.4 191.5L360.5 185.5L361.1 179.0L362.7 171.5L364.8 165.0L367.0 161.0L368.0 160.2L369.0 159.9L370.5 160.5L372.3 163.0L375.3 171.5L377.1 181.5L377.6 194.0L376.7 202.0L374.2 210.0L371.5 214.5L366.8 218.5ZM297.0 197.0L299.5 193.4L303.0 189.9L307.0 187.0L312.0 184.3L324.5 178.8L330.5 176.7L335.5 176.1L337.0 176.6L337.8 177.5L338.1 179.0L337.3 181.5L330.2 192.5L326.8 201.5L325.0 205.0L321.0 209.4L314.0 214.1L310.1 218.5ZM298.3 218.5L297.0 216.6Z" fill="rgb(225, 230, 250)" fill-rule="evenodd"/><path d="M365.0 217.5L364.0 217.8L362.9 217.5L362.2 216.5L361.9 215.0L362.2 211.5L364.1 202.5L362.9 192.5L363.0 184.5L364.2 175.0L365.4 169.0L367.0 164.8L368.0 163.6L369.0 163.2L370.0 163.6L371.4 165.5L373.3 172.0L374.8 183.0L375.6 197.5L374.4 204.0L372.1 209.5L368.7 214.5L365.0 217.5ZM297.0 204.2L298.2 201.0L300.5 197.6L305.5 192.9L309.5 189.8L315.5 186.6L322.5 183.9L326.5 183.1L327.5 183.3L328.4 184.0L328.5 185.0L328.0 187.0L320.7 201.5L318.4 204.5L314.0 208.3L310.0 215.5L307.1 218.5ZM301.1 218.5L298.6 216.0L297.0 212.1Z" fill="rgb(190, 202, 246)" fill-rule="evenodd"/><path d="M365.5 215.6L363.8 215.5L363.2 214.5L363.0 213.0L363.6 209.0L365.8 201.0L364.6 191.0L365.3 177.0L365.7 172.5L366.7 168.5L368.0 166.2L369.0 165.7L370.0 166.2L370.9 167.5L372.2 172.5L374.1 199.0L373.2 204.0L371.1 209.0L368.1 213.5L365.5 215.6ZM305.0 217.5L303.0 217.5L301.5 216.8L300.0 215.3L298.9 213.5L298.2 211.0L298.0 208.5L298.3 206.0L299.1 203.5L300.7 201.0L303.0 199.1L308.0 196.8L313.5 192.9L315.5 192.2L317.0 192.4L317.5 193.5L316.7 196.0L311.9 202.0L310.7 209.5L309.4 213.5L307.5 216.1L305.0 217.5Z" fill="rgb(135, 160, 240)" fill-rule="evenodd"/><path d="M365.5 214.1L364.3 213.5L364.0 211.5L364.6 208.0L367.0 200.5L365.6 191.5L366.2 175.5L367.2 170.0L368.0 168.3L369.0 167.7L370.0 168.3L370.6 169.5L371.7 174.0L372.5 195.0L373.0 200.5L372.2 204.5L370.3 209.0L368.0 212.3L365.5 214.1ZM304.5 216.1L302.5 215.7L300.6 214.0L299.5 211.5L299.1 208.5L299.7 205.5L301.0 203.1L303.0 201.5L305.0 201.0L307.0 201.6L308.2 203.0L309.1 205.5L309.4 208.5L308.8 211.5L307.9 213.5L306.5 215.2L304.5 216.1Z" fill="rgb(85, 125, 236)" fill-rule="evenodd"/><path d="M366.0 212.6L365.0 212.0L364.9 209.5L368.0 200.0L366.7 195.0L366.2 191.5L366.7 175.5L367.5 171.2L368.1 170.0L369.0 169.3L369.9 170.0L370.4 171.0L371.2 175.0L371.8 190.0L371.6 196.5L372.1 201.5L371.4 205.0L369.8 208.5L368.0 211.2L366.0 212.6ZM305.0 214.7L303.0 214.6L301.5 213.5L300.5 211.7L300.1 209.5L300.3 207.0L301.1 205.0L302.5 203.5L304.5 202.8L306.0 203.3L307.0 204.2L307.9 206.0L308.3 208.0L308.2 210.0L307.5 212.1L306.5 213.7L305.0 214.7Z" fill="rgb(75, 180, 235)" fill-rule="evenodd"/><path d="M367.0 211.0L365.9 211.0L365.7 208.5L369.4 199.0L367.3 195.0L366.7 190.5L367.3 183.0L367.3 175.0L368.0 171.9L369.0 170.9L370.0 172.0L370.8 176.0L370.7 183.0L371.3 191.0L370.2 198.5L371.1 200.5L371.2 202.5L369.7 207.5L368.5 209.5L367.0 211.0ZM304.5 213.6L303.0 213.3L302.0 212.5L301.0 209.5L301.2 207.5L301.8 206.0L303.0 204.7L304.0 204.4L305.1 204.5L306.3 205.5L307.3 208.5L307.1 210.5L306.5 212.0L305.5 213.1L304.5 213.6Z" fill="rgb(90, 220, 150)" fill-rule="evenodd"/><path d="M369.5 195.8L368.5 195.6L368.0 194.8L367.2 190.5L368.1 183.0L367.9 175.5L368.4 173.5L369.0 172.8L369.6 173.5L370.1 175.5L369.9 183.0L370.8 190.0L370.5 193.6L369.5 195.8ZM367.5 209.2L367.0 209.3L366.7 209.0L367.0 206.6L368.0 204.4L369.5 202.6L370.1 203.0L370.0 205.0L369.0 207.4L367.5 209.2ZM304.0 212.0L302.5 211.0L302.1 209.0L302.7 207.0L304.0 206.1L305.5 206.9L306.1 209.0L305.5 211.2L304.0 212.0Z" fill="rgb(120, 230, 60)" fill-rule="evenodd"/><path d="M369.0 192.1L368.5 190.5L369.0 188.6L369.5 190.5L369.0 192.1Z" fill="rgb(185, 230, 35)" fill-rule="evenodd"/></g><g filter="url(#bl2)"><path d="M366 134.5h1M372 146.5h1M357 152.5h1M369 154.5h1M369 155.5h1M369 157.5h1M375 157.5h1M379 157.5h1M364 160.5h1M320 161.5h1M363 161.5h1M365 161.5h1M368 161.5h1M373 161.5h1M365 162.5h1M371 162.5h1M358 163.5h1M364 163.5h1M361 164.5h1M373 164.5h1M351 165.5h1M357 165.5h1M363 165.5h1M364 165.5h1M365 165.5h1M373 165.5h1M363 166.5h1M365 166.5h1M343 167.5h1M365 167.5h1M373 167.5h1M375 167.5h1M364 168.5h1M362 169.5h1M363 169.5h1M373 169.5h1M375 169.5h1M377 169.5h1M339 170.5h1M352 170.5h1M364 170.5h1M375 170.5h1M324 171.5h1M327 171.5h1M328 171.5h1M361 171.5h1M332 172.5h1M336 172.5h1M337 172.5h1M338 172.5h1M339 172.5h1M360 172.5h1M361 172.5h1M375 172.5h1M331 173.5h1M338 173.5h1M340 173.5h1M362 173.5h1M377 173.5h1M321 174.5h1M327 174.5h1M333 174.5h1M334 174.5h1M351 174.5h1M362 174.5h1M363 174.5h1M375 174.5h1M376 174.5h1M306 175.5h1M318 175.5h1M322 175.5h1M326 175.5h1M327 175.5h1M331 175.5h1M339 175.5h1M359 175.5h1M362 175.5h1M377 175.5h1M307 176.5h1M310 176.5h1M331 176.5h1M336 176.5h1M337 176.5h1M338 176.5h1M359 176.5h1M375 176.5h1M383 176.5h1M313 177.5h1M322 177.5h1M325 177.5h1M326 177.5h1M327 177.5h1M333 177.5h1M335 177.5h1M336 177.5h1M337 177.5h1M355 177.5h1M363 177.5h1M301 178.5h1M320 178.5h1M328 178.5h1M330 178.5h1M331 178.5h1M333 178.5h1M335 178.5h1M337 178.5h1M339 178.5h1M344 178.5h1M362 178.5h1M377 178.5h1M381 178.5h1M311 179.5h1M320 179.5h1M326 179.5h1M328 179.5h1M331 179.5h1M353 179.5h1M355 179.5h1M360 179.5h1M361 179.5h1M362 179.5h1M376 179.5h1M377 179.5h1M311 180.5h1M312 180.5h1M327 180.5h1M356 180.5h1M359 180.5h1M377 180.5h1M382 180.5h1M312 181.5h1M315 181.5h1M325 181.5h1M337 181.5h1M342 181.5h1M360 181.5h1M361 181.5h1M377 181.5h1M308 182.5h1M310 182.5h1M318 182.5h1M321 182.5h1M322 182.5h1M334 182.5h1M337 182.5h1M377 182.5h1M378 182.5h1M381 182.5h1M313 183.5h1M314 183.5h1M317 183.5h1M319 183.5h1M334 183.5h1M336 183.5h1M339 183.5h1M340 183.5h1M343 183.5h1M361 183.5h1M303 184.5h1M306 184.5h1M307 184.5h1M310 184.5h1M333 184.5h1M335 184.5h1M336 184.5h1M346 184.5h1M347 184.5h1M360 184.5h1M361 184.5h1M377 184.5h1M307 185.5h1M334 185.5h1M362 185.5h1M378 185.5h1M306 186.5h1M309 186.5h1M312 186.5h1M332 186.5h1M335 186.5h1M342 186.5h1M376 186.5h1M304 187.5h1M310 187.5h1M332 187.5h1M378 187.5h1M301 188.5h1M304 188.5h1M306 188.5h1M308 188.5h1M309 188.5h1M331 188.5h1M338 188.5h1M377 188.5h1M378 188.5h1M381 188.5h1M304 189.5h1M305 189.5h1M306 189.5h1M307 189.5h1M331 189.5h1M335 189.5h1M360 189.5h1M361 189.5h1M362 189.5h1M377 189.5h1M378 189.5h1M329 190.5h1M339 190.5h1M340 190.5h1M351 190.5h1M382 190.5h1M301 191.5h1M302 191.5h1M330 191.5h1M361 191.5h1M362 191.5h1M377 191.5h1M329 192.5h1M330 192.5h1M361 192.5h1M329 193.5h1M332 193.5h1M334 193.5h1M335 193.5h1M349 193.5h1M357 193.5h1M359 193.5h1M360 193.5h1M327 194.5h1M328 194.5h1M334 194.5h1M335 194.5h1M359 194.5h1M388 194.5h1M301 195.5h1M327 195.5h1M328 195.5h1M362 195.5h1M380 195.5h1M326 196.5h1M349 196.5h1M358 196.5h1M360 196.5h1M329 197.5h1M334 197.5h1M349 197.5h1M355 197.5h1M377 197.5h1M327 198.5h1M329 198.5h1M330 198.5h1M333 198.5h1M345 198.5h1M348 198.5h1M361 198.5h1M362 198.5h1M378 198.5h1M338 199.5h1M358 199.5h1M377 199.5h1M328 200.5h1M363 200.5h1M376 200.5h1M377 200.5h1M378 200.5h1M381 200.5h1M326 201.5h1M327 201.5h1M352 201.5h1M324 202.5h1M325 202.5h1M357 202.5h1M361 202.5h1M323 203.5h1M324 203.5h1M325 203.5h1M337 203.5h1M352 203.5h1M360 203.5h1M324 204.5h1M325 204.5h1M358 204.5h1M362 204.5h1M377 204.5h1M322 205.5h1M326 205.5h1M328 205.5h1M330 205.5h1M333 205.5h1M335 205.5h1M347 205.5h1M354 205.5h1M341 206.5h1M348 206.5h1M357 206.5h1M375 206.5h1M376 206.5h1M320 207.5h1M326 207.5h1M328 207.5h1M336 207.5h1M374 207.5h1M380 207.5h1M319 208.5h1M320 208.5h1M321 208.5h1M324 208.5h1M328 208.5h1M374 208.5h1M375 208.5h1M376 208.5h1M379 208.5h1M318 209.5h1M320 209.5h1M323 209.5h1M326 209.5h1M374 209.5h1M375 209.5h1M382 209.5h1M322 210.5h1M373 210.5h1M376 210.5h1M314 211.5h1M315 211.5h1M328 211.5h1M329 211.5h1M375 211.5h1M318 212.5h1M326 212.5h1M375 212.5h1M313 213.5h1M314 213.5h1M316 213.5h1M318 213.5h1M321 213.5h1M371 213.5h1M373 213.5h1M374 213.5h1M375 213.5h1M312 214.5h1M313 214.5h1M316 214.5h1M374 214.5h1M379 214.5h1M312 215.5h1M313 215.5h1M314 215.5h1M317 215.5h1M332 215.5h1M372 215.5h1" stroke="#a0aef0" stroke-width="1" fill="none"/><path d="M368 163.5h1M369 163.5h1M368 164.5h1M369 164.5h1M371 164.5h1M367 165.5h1M368 165.5h1M369 165.5h1M370 165.5h1M371 165.5h1M371 166.5h1M372 166.5h1M366 167.5h1M371 167.5h1M372 167.5h1M366 168.5h1M371 168.5h1M365 169.5h1M366 169.5h1M373 169.5h1M373 171.5h1M364 172.5h1M365 172.5h1M373 172.5h1M365 173.5h1M364 174.5h1M373 174.5h1M374 174.5h1M363 175.5h1M364 175.5h1M365 175.5h1M373 175.5h1M373 176.5h1M365 177.5h1M373 177.5h1M364 178.5h1M374 178.5h1M375 178.5h1M364 179.5h1M374 179.5h1M375 179.5h1M330 180.5h1M363 180.5h1M365 180.5h1M375 180.5h1M327 181.5h1M328 181.5h1M329 181.5h1M330 181.5h1M331 181.5h1M362 181.5h1M323 182.5h1M325 182.5h1M327 182.5h1M329 182.5h1M331 182.5h1M333 182.5h1M363 182.5h1M364 182.5h1M365 182.5h1M375 182.5h1M321 183.5h1M323 183.5h1M326 183.5h1M327 183.5h1M328 183.5h1M331 183.5h1M332 183.5h1M362 183.5h1M363 183.5h1M365 183.5h1M376 183.5h1M319 184.5h1M321 184.5h1M324 184.5h1M325 184.5h1M326 184.5h1M327 184.5h1M364 184.5h1M316 185.5h1M320 185.5h1M321 185.5h1M322 185.5h1M324 185.5h1M325 185.5h1M327 185.5h1M330 185.5h1M331 185.5h1M332 185.5h1M363 185.5h1M364 185.5h1M374 185.5h1M375 185.5h1M376 185.5h1M313 186.5h1M315 186.5h1M318 186.5h1M324 186.5h1M325 186.5h1M362 186.5h1M374 186.5h1M311 187.5h1M312 187.5h1M313 187.5h1M314 187.5h1M315 187.5h1M318 187.5h1M321 187.5h1M322 187.5h1M323 187.5h1M324 187.5h1M326 187.5h1M327 187.5h1M329 187.5h1M330 187.5h1M331 187.5h1M363 187.5h1M374 187.5h1M375 187.5h1M310 188.5h1M314 188.5h1M315 188.5h1M317 188.5h1M318 188.5h1M320 188.5h1M321 188.5h1M323 188.5h1M326 188.5h1M327 188.5h1M362 188.5h1M374 188.5h1M375 188.5h1M376 188.5h1M308 189.5h1M309 189.5h1M311 189.5h1M313 189.5h1M317 189.5h1M318 189.5h1M320 189.5h1M321 189.5h1M323 189.5h1M326 189.5h1M327 189.5h1M328 189.5h1M363 189.5h1M374 189.5h1M375 189.5h1M376 189.5h1M307 190.5h1M308 190.5h1M309 190.5h1M310 190.5h1M311 190.5h1M312 190.5h1M313 190.5h1M314 190.5h1M315 190.5h1M316 190.5h1M317 190.5h1M318 190.5h1M321 190.5h1M322 190.5h1M323 190.5h1M324 190.5h1M325 190.5h1M328 190.5h1M374 190.5h1M375 190.5h1M376 190.5h1M306 191.5h1M307 191.5h1M308 191.5h1M309 191.5h1M310 191.5h1M312 191.5h1M313 191.5h1M314 191.5h1M315 191.5h1M319 191.5h1M321 191.5h1M323 191.5h1M324 191.5h1M325 191.5h1M326 191.5h1M328 191.5h1M364 191.5h1M376 191.5h1M307 192.5h1M308 192.5h1M311 192.5h1M320 192.5h1M323 192.5h1M326 192.5h1M327 192.5h1M362 192.5h1M363 192.5h1M364 192.5h1M374 192.5h1M375 192.5h1M376 192.5h1M305 193.5h1M306 193.5h1M307 193.5h1M308 193.5h1M309 193.5h1M311 193.5h1M312 193.5h1M321 193.5h1M322 193.5h1M323 193.5h1M324 193.5h1M326 193.5h1M362 193.5h1M375 193.5h1M302 194.5h1M304 194.5h1M308 194.5h1M309 194.5h1M320 194.5h1M322 194.5h1M324 194.5h1M363 194.5h1M364 194.5h1M375 194.5h1M303 195.5h1M305 195.5h1M308 195.5h1M309 195.5h1M319 195.5h1M320 195.5h1M321 195.5h1M323 195.5h1M324 195.5h1M326 195.5h1M362 195.5h1M363 195.5h1M364 195.5h1M301 196.5h1M304 196.5h1M305 196.5h1M306 196.5h1M307 196.5h1M308 196.5h1M320 196.5h1M322 196.5h1M323 196.5h1M326 196.5h1M363 196.5h1M375 196.5h1M376 196.5h1M304 197.5h1M305 197.5h1M319 197.5h1M320 197.5h1M322 197.5h1M325 197.5h1M375 197.5h1M376 197.5h1M301 198.5h1M303 198.5h1M319 198.5h1M321 198.5h1M322 198.5h1M323 198.5h1M363 198.5h1M375 198.5h1M376 198.5h1M301 199.5h1M303 199.5h1M316 199.5h1M320 199.5h1M321 199.5h1M324 199.5h1M375 199.5h1M319 200.5h1M364 200.5h1M365 200.5h1M374 200.5h1M314 201.5h1M316 201.5h1M317 201.5h1M319 201.5h1M320 201.5h1M365 201.5h1M366 201.5h1M313 202.5h1M314 202.5h1M316 202.5h1M318 202.5h1M320 202.5h1M322 202.5h1M374 202.5h1M313 203.5h1M314 203.5h1M316 203.5h1M319 203.5h1M320 203.5h1M322 203.5h1M365 203.5h1M314 204.5h1M316 204.5h1M318 204.5h1M320 204.5h1M364 204.5h1M374 204.5h1M375 204.5h1M312 205.5h1M313 205.5h1M314 205.5h1M317 205.5h1M319 205.5h1M320 205.5h1M364 205.5h1M373 205.5h1M374 205.5h1M312 206.5h1M313 206.5h1M316 206.5h1M319 206.5h1M312 207.5h1M314 207.5h1M313 208.5h1M316 208.5h1M317 208.5h1M372 208.5h1M373 208.5h1M312 209.5h1M313 209.5h1M315 209.5h1M372 209.5h1M311 210.5h1M313 210.5h1M362 210.5h1M371 210.5h1M311 211.5h1M314 211.5h1M363 211.5h1M371 211.5h1M372 211.5h1M312 212.5h1M363 212.5h1M371 212.5h1M311 213.5h1M369 213.5h1M370 213.5h1M310 214.5h1M362 214.5h1M368 214.5h1M370 214.5h1M310 215.5h1M363 215.5h1M368 215.5h1" stroke="#8898ec" stroke-width="1" fill="none"/><path d="M369 166.5h1M367 167.5h1M368 167.5h1M370 167.5h1M367 168.5h1M368 168.5h1M370 168.5h1M367 169.5h1M368 169.5h1M366 170.5h1M367 170.5h1M371 170.5h1M366 171.5h1M367 171.5h1M366 173.5h1M372 173.5h1M366 174.5h1M372 174.5h1M366 175.5h1M372 175.5h1M372 176.5h1M366 177.5h1M372 177.5h1M366 178.5h1M372 178.5h1M372 179.5h1M373 179.5h1M366 180.5h1M372 180.5h1M373 180.5h1M372 181.5h1M373 181.5h1M365 182.5h1M366 182.5h1M372 182.5h1M373 182.5h1M372 183.5h1M373 183.5h1M365 184.5h1M366 184.5h1M372 184.5h1M373 184.5h1M365 185.5h1M366 185.5h1M373 185.5h1M365 186.5h1M365 187.5h1M366 187.5h1M373 187.5h1M365 188.5h1M366 188.5h1M373 188.5h1M373 189.5h1M365 190.5h1M366 190.5h1M373 190.5h1M315 191.5h1M316 191.5h1M319 191.5h1M366 191.5h1M373 191.5h1M314 192.5h1M317 192.5h1M318 192.5h1M319 192.5h1M365 192.5h1M373 192.5h1M313 193.5h1M314 193.5h1M316 193.5h1M317 193.5h1M318 193.5h1M319 193.5h1M365 193.5h1M372 193.5h1M373 193.5h1M311 194.5h1M312 194.5h1M314 194.5h1M315 194.5h1M316 194.5h1M317 194.5h1M318 194.5h1M365 194.5h1M366 194.5h1M372 194.5h1M373 194.5h1M309 195.5h1M310 195.5h1M311 195.5h1M313 195.5h1M315 195.5h1M316 195.5h1M318 195.5h1M365 195.5h1M309 196.5h1M310 196.5h1M312 196.5h1M313 196.5h1M314 196.5h1M315 196.5h1M316 196.5h1M317 196.5h1M366 196.5h1M373 196.5h1M306 197.5h1M309 197.5h1M310 197.5h1M311 197.5h1M312 197.5h1M313 197.5h1M314 197.5h1M316 197.5h1M317 197.5h1M366 197.5h1M373 197.5h1M374 197.5h1M304 198.5h1M305 198.5h1M306 198.5h1M307 198.5h1M308 198.5h1M309 198.5h1M311 198.5h1M312 198.5h1M313 198.5h1M316 198.5h1M317 198.5h1M366 198.5h1M374 198.5h1M302 199.5h1M303 199.5h1M304 199.5h1M305 199.5h1M306 199.5h1M307 199.5h1M308 199.5h1M311 199.5h1M313 199.5h1M315 199.5h1M316 199.5h1M366 199.5h1M374 199.5h1M303 200.5h1M304 200.5h1M305 200.5h1M306 200.5h1M307 200.5h1M308 200.5h1M309 200.5h1M310 200.5h1M312 200.5h1M314 200.5h1M315 200.5h1M301 201.5h1M302 201.5h1M304 201.5h1M305 201.5h1M307 201.5h1M308 201.5h1M309 201.5h1M310 201.5h1M311 201.5h1M312 201.5h1M313 201.5h1M314 201.5h1M373 201.5h1M374 201.5h1M301 202.5h1M302 202.5h1M303 202.5h1M308 202.5h1M309 202.5h1M311 202.5h1M313 202.5h1M373 202.5h1M374 202.5h1M308 203.5h1M309 203.5h1M310 203.5h1M311 203.5h1M312 203.5h1M366 203.5h1M373 203.5h1M310 204.5h1M311 204.5h1M312 204.5h1M366 204.5h1M373 204.5h1M311 205.5h1M365 205.5h1M372 205.5h1M373 205.5h1M310 206.5h1M311 206.5h1M365 206.5h1M372 206.5h1M310 207.5h1M365 207.5h1M371 207.5h1M372 207.5h1M311 208.5h1M364 208.5h1M371 208.5h1M364 209.5h1M310 210.5h1M311 210.5h1M363 210.5h1M364 210.5h1M370 210.5h1M371 210.5h1M309 211.5h1M310 211.5h1M311 211.5h1M363 211.5h1M364 211.5h1M369 211.5h1M370 211.5h1M309 212.5h1M310 212.5h1M363 212.5h1M364 212.5h1M368 212.5h1M369 212.5h1M309 213.5h1M364 213.5h1M368 213.5h1M307 214.5h1M308 214.5h1M309 214.5h1M363 214.5h1M364 214.5h1M365 214.5h1M366 214.5h1M367 214.5h1M301 215.5h1M307 215.5h1M308 215.5h1M364 215.5h1M365 215.5h1M366 215.5h1M367 215.5h1" stroke="#6f88ea" stroke-width="1" fill="none"/><path d="M368 168.5h1M369 168.5h1M367 169.5h1M368 169.5h1M369 169.5h1M370 169.5h1M370 170.5h1M367 171.5h1M370 171.5h1M371 171.5h1M371 172.5h1M367 174.5h1M372 174.5h1M366 175.5h1M367 176.5h1M372 176.5h1M366 177.5h1M371 177.5h1M372 177.5h1M366 178.5h1M367 178.5h1M372 178.5h1M366 179.5h1M366 180.5h1M371 180.5h1M366 181.5h1M367 181.5h1M366 182.5h1M367 182.5h1M371 182.5h1M372 182.5h1M366 183.5h1M367 183.5h1M366 184.5h1M367 184.5h1M372 184.5h1M366 185.5h1M367 185.5h1M372 185.5h1M372 187.5h1M366 188.5h1M366 189.5h1M366 190.5h1M366 191.5h1M372 191.5h1M366 192.5h1M372 192.5h1M366 193.5h1M366 194.5h1M367 194.5h1M372 195.5h1M372 196.5h1M367 197.5h1M372 197.5h1M373 197.5h1M367 198.5h1M372 198.5h1M367 199.5h1M368 199.5h1M372 199.5h1M373 199.5h1M368 200.5h1M373 200.5h1M304 201.5h1M305 201.5h1M306 201.5h1M367 201.5h1M368 201.5h1M372 201.5h1M373 201.5h1M305 202.5h1M306 202.5h1M307 202.5h1M308 202.5h1M367 202.5h1M372 202.5h1M373 202.5h1M301 203.5h1M302 203.5h1M303 203.5h1M305 203.5h1M306 203.5h1M307 203.5h1M366 203.5h1M367 203.5h1M372 203.5h1M301 204.5h1M302 204.5h1M307 204.5h1M308 204.5h1M372 204.5h1M301 205.5h1M308 205.5h1M309 205.5h1M366 205.5h1M372 205.5h1M301 206.5h1M308 206.5h1M309 206.5h1M365 206.5h1M366 206.5h1M371 206.5h1M308 207.5h1M309 207.5h1M365 207.5h1M371 207.5h1M308 208.5h1M370 208.5h1M371 208.5h1M308 209.5h1M309 209.5h1M365 209.5h1M369 209.5h1M370 209.5h1M308 210.5h1M309 210.5h1M364 210.5h1M365 210.5h1M369 210.5h1M370 210.5h1M309 211.5h1M369 211.5h1M364 212.5h1M367 212.5h1M368 212.5h1M301 213.5h1M307 213.5h1M308 213.5h1M366 213.5h1M367 213.5h1M301 214.5h1M307 214.5h1M365 214.5h1M366 214.5h1M302 215.5h1M303 215.5h1M304 215.5h1M305 215.5h1M306 215.5h1" stroke="#68a8ef" stroke-width="1" fill="none"/><path d="M369 169.5h1M368 170.5h1M369 170.5h1M368 171.5h1M369 171.5h1M368 172.5h1M370 172.5h1M367 173.5h1M371 173.5h1M367 174.5h1M371 174.5h1M367 175.5h1M371 175.5h1M367 176.5h1M371 176.5h1M367 177.5h1M367 178.5h1M371 178.5h1M367 179.5h1M371 179.5h1M371 180.5h1M367 181.5h1M371 181.5h1M367 182.5h1M371 182.5h1M367 183.5h1M371 183.5h1M367 184.5h1M371 184.5h1M367 185.5h1M371 185.5h1M367 186.5h1M371 186.5h1M367 187.5h1M372 187.5h1M367 188.5h1M371 188.5h1M372 188.5h1M367 189.5h1M371 189.5h1M372 189.5h1M366 190.5h1M367 190.5h1M371 190.5h1M372 190.5h1M367 192.5h1M372 192.5h1M367 193.5h1M371 193.5h1M372 193.5h1M367 194.5h1M367 195.5h1M371 195.5h1M372 195.5h1M371 196.5h1M368 197.5h1M371 197.5h1M368 198.5h1M369 198.5h1M371 198.5h1M369 199.5h1M370 199.5h1M371 199.5h1M368 200.5h1M369 200.5h1M371 200.5h1M372 200.5h1M368 201.5h1M369 201.5h1M371 201.5h1M367 202.5h1M372 202.5h1M304 203.5h1M305 203.5h1M367 203.5h1M368 203.5h1M371 203.5h1M372 203.5h1M302 204.5h1M303 204.5h1M306 204.5h1M307 204.5h1M367 204.5h1M371 204.5h1M301 205.5h1M302 205.5h1M306 205.5h1M307 205.5h1M367 205.5h1M371 205.5h1M301 206.5h1M307 206.5h1M308 206.5h1M301 207.5h1M307 207.5h1M308 207.5h1M366 207.5h1M370 207.5h1M371 207.5h1M301 208.5h1M307 208.5h1M308 208.5h1M370 208.5h1M301 209.5h1M308 209.5h1M301 210.5h1M307 210.5h1M308 210.5h1M365 210.5h1M368 210.5h1M369 210.5h1M301 211.5h1M307 211.5h1M308 211.5h1M365 211.5h1M366 211.5h1M367 211.5h1M301 212.5h1M302 212.5h1M307 212.5h1M365 212.5h1M366 212.5h1M367 212.5h1M301 213.5h1M302 213.5h1M305 213.5h1M306 213.5h1M307 213.5h1M302 214.5h1M304 214.5h1M305 214.5h1M306 214.5h1M304 215.5h1" stroke="#68d0d8" stroke-width="1" fill="none"/><path d="M369 171.5h1M370 171.5h1M368 172.5h1M369 172.5h1M370 172.5h1M368 173.5h1M369 173.5h1M370 173.5h1M368 174.5h1M370 174.5h1M368 175.5h1M370 175.5h1M370 176.5h1M371 176.5h1M367 177.5h1M371 177.5h1M367 178.5h1M370 178.5h1M371 178.5h1M367 179.5h1M370 179.5h1M371 179.5h1M368 180.5h1M370 180.5h1M371 180.5h1M368 181.5h1M370 181.5h1M371 181.5h1M367 182.5h1M368 182.5h1M370 182.5h1M367 183.5h1M368 183.5h1M370 183.5h1M371 183.5h1M368 184.5h1M370 184.5h1M367 185.5h1M368 185.5h1M370 185.5h1M371 185.5h1M367 186.5h1M371 186.5h1M367 187.5h1M371 187.5h1M367 188.5h1M367 189.5h1M371 189.5h1M367 190.5h1M367 191.5h1M371 191.5h1M367 192.5h1M371 192.5h1M367 193.5h1M371 193.5h1M367 194.5h1M368 194.5h1M371 194.5h1M368 195.5h1M370 195.5h1M371 195.5h1M368 196.5h1M369 196.5h1M370 196.5h1M368 197.5h1M369 197.5h1M370 197.5h1M371 197.5h1M370 198.5h1M370 199.5h1M369 200.5h1M370 200.5h1M371 200.5h1M369 201.5h1M370 201.5h1M371 201.5h1M369 202.5h1M370 202.5h1M371 202.5h1M368 203.5h1M369 203.5h1M371 203.5h1M368 204.5h1M370 204.5h1M371 204.5h1M303 205.5h1M304 205.5h1M305 205.5h1M367 205.5h1M370 205.5h1M371 205.5h1M302 206.5h1M303 206.5h1M304 206.5h1M305 206.5h1M306 206.5h1M367 206.5h1M370 206.5h1M301 207.5h1M302 207.5h1M303 207.5h1M306 207.5h1M307 207.5h1M366 207.5h1M367 207.5h1M369 207.5h1M370 207.5h1M301 208.5h1M306 208.5h1M307 208.5h1M366 208.5h1M369 208.5h1M301 209.5h1M302 209.5h1M306 209.5h1M307 209.5h1M366 209.5h1M367 209.5h1M368 209.5h1M302 210.5h1M306 210.5h1M307 210.5h1M366 210.5h1M367 210.5h1M368 210.5h1M301 211.5h1M302 211.5h1M306 211.5h1M366 211.5h1M367 211.5h1M302 212.5h1M303 212.5h1M304 212.5h1M305 212.5h1M306 212.5h1M307 212.5h1M303 213.5h1M304 213.5h1M305 213.5h1M306 213.5h1M304 214.5h1" stroke="#80e090" stroke-width="1" fill="none"/><path d="M369 173.5h1M368 174.5h1M369 174.5h1M370 174.5h1M368 175.5h1M370 175.5h1M368 176.5h1M370 176.5h1M370 177.5h1M368 178.5h1M368 179.5h1M370 179.5h1M368 180.5h1M368 181.5h1M370 181.5h1M368 182.5h1M370 182.5h1M368 183.5h1M370 183.5h1M368 184.5h1M370 184.5h1M368 185.5h1M370 185.5h1M370 186.5h1M367 187.5h1M368 187.5h1M370 187.5h1M367 188.5h1M368 188.5h1M371 188.5h1M371 189.5h1M367 190.5h1M371 192.5h1M370 193.5h1M370 194.5h1M368 195.5h1M369 195.5h1M370 195.5h1M370 196.5h1M370 203.5h1M368 204.5h1M369 204.5h1M370 204.5h1M368 205.5h1M370 205.5h1M305 206.5h1M367 206.5h1M370 206.5h1M303 207.5h1M305 207.5h1M306 207.5h1M367 207.5h1M369 207.5h1M302 208.5h1M303 208.5h1M306 208.5h1M367 208.5h1M368 208.5h1M369 208.5h1M306 209.5h1M367 209.5h1M368 209.5h1M302 210.5h1M306 210.5h1M303 211.5h1M304 211.5h1M305 211.5h1M306 211.5h1M304 212.5h1M305 212.5h1" stroke="#98e050" stroke-width="1" fill="none"/></g></g><rect x="300.8" y="160.5" width="47.5" height="15.300000000000011" fill="none" stroke="#f8e8f8" stroke-width="4" stroke-opacity="0.7"/><rect x="300.8" y="175.8" width="33.69999999999999" height="17.899999999999977" fill="none" stroke="#f8e8f8" stroke-width="4" stroke-opacity="0.7"/><rect x="348.3" y="160.5" width="34.19999999999999" height="21.5" fill="none" stroke="#f8e8f8" stroke-width="4" stroke-opacity="0.7"/><rect x="355.2" y="182" width="27.30000000000001" height="16.5" fill="none" stroke="#f8e8f8" stroke-width="4" stroke-opacity="0.7"/><rect x="354.7" y="198.5" width="26.900000000000034" height="17.0" fill="none" stroke="#f8e8f8" stroke-width="4" stroke-opacity="0.7"/><rect x="300.8" y="160.5" width="47.5" height="15.300000000000011" fill="none" stroke="#b828d8" stroke-opacity="0.66" stroke-width="1.35"/><rect x="300.8" y="175.8" width="33.69999999999999" height="17.899999999999977" fill="none" stroke="#b828d8" stroke-opacity="0.66" stroke-width="1.35"/><rect x="348.3" y="160.5" width="34.19999999999999" height="21.5" fill="none" stroke="#b828d8" stroke-opacity="0.66" stroke-width="1.35"/><rect x="355.2" y="182" width="27.30000000000001" height="16.5" fill="none" stroke="#b828d8" stroke-opacity="0.66" stroke-width="1.35"/><rect x="354.7" y="198.5" width="26.900000000000034" height="17.0" fill="none" stroke="#b828d8" stroke-opacity="0.66" stroke-width="1.35"/><path d="M300 122H392V216" stroke="#7a7a7a" stroke-width="1" fill="none"/><path d="M300 122V216H392" stroke="#222" stroke-width="1.3" fill="none"/><path d="M300 216.0h-2.2M300.0 216v2.2M300 208.9h-1.2M306.9 216v1.2M300 204.8h-1.2M311.0 216v1.2M300 201.9h-1.2M313.8 216v1.2M300 199.6h-1.2M316.1 216v1.2M300 197.7h-1.2M317.9 216v1.2M300 196.1h-1.2M319.4 216v1.2M300 194.8h-1.2M320.8 216v1.2M300 193.6h-1.2M321.9 216v1.2M300 192.5h-2.2M323.0 216v2.2M300 185.4h-1.2M329.9 216v1.2M300 181.3h-1.2M334.0 216v1.2M300 178.4h-1.2M336.8 216v1.2M300 176.1h-1.2M339.1 216v1.2M300 174.2h-1.2M340.9 216v1.2M300 172.6h-1.2M342.4 216v1.2M300 171.3h-1.2M343.8 216v1.2M300 170.1h-1.2M344.9 216v1.2M300 169.0h-2.2M346.0 216v2.2M300 161.9h-1.2M352.9 216v1.2M300 157.8h-1.2M357.0 216v1.2M300 154.9h-1.2M359.8 216v1.2M300 152.6h-1.2M362.1 216v1.2M300 150.7h-1.2M363.9 216v1.2M300 149.1h-1.2M365.4 216v1.2M300 147.8h-1.2M366.8 216v1.2M300 146.6h-1.2M367.9 216v1.2M300 145.5h-2.2M369.0 216v2.2M300 138.4h-1.2M375.9 216v1.2M300 134.3h-1.2M380.0 216v1.2M300 131.4h-1.2M382.8 216v1.2M300 129.1h-1.2M385.1 216v1.2M300 127.2h-1.2M386.9 216v1.2M300 125.6h-1.2M388.4 216v1.2M300 124.3h-1.2M389.8 216v1.2M300 123.1h-1.2M390.9 216v1.2M300 122h-2.2M392 216v2.2" stroke="#222" stroke-width="0.7" fill="none"/><text x="297.5" y="218.2" font-size="5.6" font-weight="bold" text-anchor="end" textLength="6.5" lengthAdjust="spacingAndGlyphs">10<tspan font-size="4" dy="-2">0</tspan></text><text x="301.0" y="225.0" font-size="5.6" font-weight="bold" text-anchor="middle" textLength="6.5" lengthAdjust="spacingAndGlyphs">10<tspan font-size="4" dy="-2">0</tspan></text><text x="297.5" y="194.7" font-size="5.6" font-weight="bold" text-anchor="end" textLength="6.5" lengthAdjust="spacingAndGlyphs">10<tspan font-size="4" dy="-2">1</tspan></text><text x="324.0" y="225.0" font-size="5.6" font-weight="bold" text-anchor="middle" textLength="6.5" lengthAdjust="spacingAndGlyphs">10<tspan font-size="4" dy="-2">1</tspan></text><text x="297.5" y="171.2" font-size="5.6" font-weight="bold" text-anchor="end" textLength="6.5" lengthAdjust="spacingAndGlyphs">10<tspan font-size="4" dy="-2">2</tspan></text><text x="347.0" y="225.0" font-size="5.6" font-weight="bold" text-anchor="middle" textLength="6.5" lengthAdjust="spacingAndGlyphs">10<tspan font-size="4" dy="-2">2</tspan></text><text x="297.5" y="147.7" font-size="5.6" font-weight="bold" text-anchor="end" textLength="6.5" lengthAdjust="spacingAndGlyphs">10<tspan font-size="4" dy="-2">3</tspan></text><text x="370.0" y="225.0" font-size="5.6" font-weight="bold" text-anchor="middle" textLength="6.5" lengthAdjust="spacingAndGlyphs">10<tspan font-size="4" dy="-2">3</tspan></text><text x="297.5" y="124.2" font-size="5.6" font-weight="bold" text-anchor="end" textLength="6.5" lengthAdjust="spacingAndGlyphs">10<tspan font-size="4" dy="-2">4</tspan></text><text x="393.0" y="225.0" font-size="5.6" font-weight="bold" text-anchor="middle" textLength="6.5" lengthAdjust="spacingAndGlyphs">10<tspan font-size="4" dy="-2">4</tspan></text><text x="344" y="140.8" font-size="14.5" text-anchor="middle" stroke="#000" stroke-width="0.25">Control</text><clipPath id="c8"><rect x="423.5" y="122" width="91.5" height="93.5"/></clipPath><g clip-path="url(#c8)"><g filter="url(#bl)"><path d="M484.8 218.0L484.6 214.5L485.9 205.5L484.4 191.5L484.5 185.5L485.1 179.0L486.7 171.5L488.8 165.0L491.0 161.0L492.0 160.2L493.0 159.9L494.5 160.5L496.3 163.0L499.3 171.5L501.1 181.5L501.7 193.5L500.8 201.5L498.2 210.0L495.5 214.5L491.5 218.0ZM420.5 197.0L423.0 193.4L426.5 189.9L430.5 187.0L435.5 184.3L448.0 178.8L454.0 176.7L459.0 176.1L460.5 176.6L461.3 177.5L461.6 179.0L460.8 181.5L453.7 192.5L450.3 201.5L448.5 205.0L444.5 209.4L437.5 214.1L434.1 218.0ZM421.4 218.0L420.5 216.6Z" fill="rgb(225, 230, 250)" fill-rule="evenodd"/><path d="M489.0 217.5L488.0 217.8L486.9 217.5L486.2 216.5L485.9 215.0L486.2 211.5L488.1 202.5L486.9 192.5L487.0 184.5L488.2 175.0L489.4 169.0L491.0 164.8L492.0 163.6L493.0 163.2L494.0 163.6L495.4 165.5L497.3 172.0L498.8 183.0L499.6 197.5L498.4 204.0L496.1 209.5L492.7 214.5L489.0 217.5ZM420.5 204.2L421.7 201.0L424.0 197.6L429.0 192.9L433.0 189.8L439.0 186.6L446.0 183.9L450.0 183.1L451.0 183.3L451.8 184.0L452.0 185.0L451.5 187.0L444.2 201.5L441.8 204.5L437.5 208.3L433.9 215.0L431.3 218.0ZM423.9 218.0L421.8 215.5L420.5 212.1Z" fill="rgb(190, 202, 246)" fill-rule="evenodd"/><path d="M489.5 215.6L487.8 215.5L487.2 214.5L487.0 213.0L487.6 209.0L489.8 201.0L488.6 191.0L489.3 177.0L489.7 172.5L490.7 168.5L492.0 166.2L493.0 165.7L494.0 166.2L494.9 167.5L496.2 172.5L498.1 199.0L497.2 204.0L495.1 209.0L492.1 213.5L489.5 215.6ZM428.5 217.5L426.5 217.5L425.0 216.8L423.5 215.3L422.4 213.5L421.7 211.0L421.5 208.5L421.8 206.0L422.6 203.5L424.2 201.0L426.5 199.1L431.5 196.8L437.0 192.9L439.0 192.2L440.5 192.4L441.0 193.5L440.2 196.0L435.4 202.0L434.2 209.5L432.9 213.5L431.0 216.1L428.5 217.5Z" fill="rgb(135, 160, 240)" fill-rule="evenodd"/><path d="M489.5 214.1L488.3 213.5L488.0 211.5L488.6 208.0L491.0 200.5L489.6 191.5L490.2 175.5L491.2 170.0L492.0 168.3L493.0 167.7L494.0 168.3L494.6 169.5L495.7 174.0L496.5 195.0L497.0 200.5L496.2 204.5L494.3 209.0L492.0 212.3L489.5 214.1ZM428.0 216.1L426.0 215.7L424.1 214.0L423.0 211.5L422.6 208.5L423.2 205.5L424.5 203.1L426.5 201.5L428.5 201.0L430.5 201.6L431.7 203.0L432.6 205.5L432.9 208.5L432.3 211.5L431.4 213.5L430.0 215.2L428.0 216.1Z" fill="rgb(85, 125, 236)" fill-rule="evenodd"/><path d="M490.0 212.6L489.0 212.0L488.9 209.5L492.0 200.0L490.7 195.0L490.2 191.5L490.7 175.5L491.5 171.2L492.1 170.0L493.0 169.3L493.9 170.0L494.4 171.0L495.2 175.0L495.8 190.0L495.6 196.5L496.1 201.5L495.4 205.0L493.8 208.5L492.0 211.2L490.0 212.6ZM428.5 214.7L426.5 214.6L425.0 213.5L424.0 211.7L423.6 209.5L423.8 207.0L424.6 205.0L426.0 203.5L428.0 202.8L429.5 203.3L430.5 204.2L431.4 206.0L431.8 208.0L431.7 210.0L431.0 212.1L430.0 213.7L428.5 214.7Z" fill="rgb(75, 180, 235)" fill-rule="evenodd"/><path d="M491.0 211.0L489.9 211.0L489.7 208.5L493.4 199.0L491.3 195.0L490.7 190.5L491.3 183.0L491.3 175.0L492.0 171.9L493.0 170.9L494.0 172.0L494.8 176.0L494.7 183.0L495.3 191.0L494.2 198.5L495.1 200.5L495.2 202.5L493.7 207.5L492.5 209.5L491.0 211.0ZM428.0 213.6L426.5 213.3L425.5 212.5L424.5 209.5L424.7 207.5L425.3 206.0L426.5 204.7L427.5 204.4L428.6 204.5L429.8 205.5L430.8 208.5L430.6 210.5L430.0 212.0L429.0 213.1L428.0 213.6Z" fill="rgb(90, 220, 150)" fill-rule="evenodd"/><path d="M493.5 195.8L492.5 195.6L492.0 194.8L491.2 190.5L492.1 183.0L491.9 175.5L492.4 173.5L493.0 172.8L493.6 173.5L494.1 175.5L493.9 183.0L494.8 190.0L494.5 193.6L493.5 195.8ZM491.5 209.2L491.0 209.3L490.7 209.0L491.0 206.6L492.0 204.4L493.5 202.6L494.1 203.0L494.0 205.0L493.0 207.4L491.5 209.2ZM427.5 212.0L426.0 211.0L425.6 209.0L426.2 207.0L427.5 206.1L429.0 206.9L429.6 209.0L429.0 211.2L427.5 212.0Z" fill="rgb(120, 230, 60)" fill-rule="evenodd"/><path d="M493.0 192.1L492.5 190.5L493.0 188.6L493.5 190.5L493.0 192.1Z" fill="rgb(185, 230, 35)" fill-rule="evenodd"/></g><g filter="url(#bl2)"><path d="M499 146.5h1M480 148.5h1M498 149.5h1M500 151.5h1M497 155.5h1M491 156.5h1M498 157.5h1M501 157.5h1M498 158.5h1M499 158.5h1M498 159.5h1M466 160.5h1M492 160.5h1M494 160.5h1M497 160.5h1M492 161.5h1M494 161.5h1M501 161.5h1M493 162.5h1M497 162.5h1M495 163.5h1M497 164.5h1M502 164.5h1M461 165.5h1M496 165.5h1M465 166.5h1M488 166.5h1M488 167.5h1M489 167.5h1M497 167.5h1M502 167.5h1M485 168.5h1M489 168.5h1M500 168.5h1M502 168.5h1M451 169.5h1M461 169.5h1M462 169.5h1M463 169.5h1M482 169.5h1M499 169.5h1M458 170.5h1M471 170.5h1M488 170.5h1M502 170.5h1M508 170.5h1M498 171.5h1M475 172.5h1M487 172.5h1M501 172.5h1M455 173.5h1M498 173.5h1M501 173.5h1M459 174.5h1M470 174.5h1M474 174.5h1M499 174.5h1M443 175.5h1M450 175.5h1M455 175.5h1M466 175.5h1M499 175.5h1M438 176.5h1M440 176.5h1M447 176.5h1M450 176.5h1M457 176.5h1M459 176.5h1M471 176.5h1M485 176.5h1M499 176.5h1M445 177.5h1M450 177.5h1M456 177.5h1M461 177.5h1M465 177.5h1M467 177.5h1M480 177.5h1M485 177.5h1M500 177.5h1M441 178.5h1M449 178.5h1M455 178.5h1M456 178.5h1M458 178.5h1M462 178.5h1M463 178.5h1M464 178.5h1M482 178.5h1M487 178.5h1M500 178.5h1M502 178.5h1M504 178.5h1M434 179.5h1M445 179.5h1M452 179.5h1M460 179.5h1M463 179.5h1M467 179.5h1M473 179.5h1M481 179.5h1M442 180.5h1M444 180.5h1M452 180.5h1M458 180.5h1M463 180.5h1M439 181.5h1M441 181.5h1M443 181.5h1M444 181.5h1M445 181.5h1M446 181.5h1M456 181.5h1M457 181.5h1M485 181.5h1M500 181.5h1M439 182.5h1M443 182.5h1M444 182.5h1M460 182.5h1M464 182.5h1M484 182.5h1M486 182.5h1M500 182.5h1M501 182.5h1M429 183.5h1M439 183.5h1M441 183.5h1M442 183.5h1M475 183.5h1M500 183.5h1M435 184.5h1M436 184.5h1M437 184.5h1M438 184.5h1M439 184.5h1M440 184.5h1M458 184.5h1M473 184.5h1M486 184.5h1M501 184.5h1M430 185.5h1M436 185.5h1M456 185.5h1M457 185.5h1M460 185.5h1M461 185.5h1M485 185.5h1M501 185.5h1M502 185.5h1M425 186.5h1M430 186.5h1M433 186.5h1M436 186.5h1M456 186.5h1M462 186.5h1M467 186.5h1M486 186.5h1M505 186.5h1M428 187.5h1M430 187.5h1M433 187.5h1M458 187.5h1M468 187.5h1M501 187.5h1M425 188.5h1M429 188.5h1M430 188.5h1M431 188.5h1M432 188.5h1M456 188.5h1M501 188.5h1M505 188.5h1M454 189.5h1M456 189.5h1M472 189.5h1M484 189.5h1M501 189.5h1M502 189.5h1M427 190.5h1M429 190.5h1M453 190.5h1M457 190.5h1M464 190.5h1M465 190.5h1M466 190.5h1M425 191.5h1M452 191.5h1M457 191.5h1M458 191.5h1M460 191.5h1M483 191.5h1M501 191.5h1M513 191.5h1M426 192.5h1M427 192.5h1M452 192.5h1M474 192.5h1M486 192.5h1M504 192.5h1M425 193.5h1M426 193.5h1M451 193.5h1M453 193.5h1M454 193.5h1M481 193.5h1M506 193.5h1M425 194.5h1M450 194.5h1M454 194.5h1M456 194.5h1M463 194.5h1M466 194.5h1M467 194.5h1M472 194.5h1M474 194.5h1M486 194.5h1M450 195.5h1M452 195.5h1M457 195.5h1M465 195.5h1M486 195.5h1M502 195.5h1M449 196.5h1M472 196.5h1M485 196.5h1M501 196.5h1M502 196.5h1M506 196.5h1M449 197.5h1M452 197.5h1M453 197.5h1M459 197.5h1M483 197.5h1M484 197.5h1M485 197.5h1M500 197.5h1M501 197.5h1M502 197.5h1M451 198.5h1M452 198.5h1M455 198.5h1M456 198.5h1M460 198.5h1M473 198.5h1M505 198.5h1M448 199.5h1M450 199.5h1M451 199.5h1M452 199.5h1M453 199.5h1M471 199.5h1M501 199.5h1M502 199.5h1M504 199.5h1M448 200.5h1M451 200.5h1M458 200.5h1M509 200.5h1M447 201.5h1M449 201.5h1M454 201.5h1M455 201.5h1M456 201.5h1M457 201.5h1M484 201.5h1M448 202.5h1M450 202.5h1M452 202.5h1M463 202.5h1M474 202.5h1M484 202.5h1M447 203.5h1M451 203.5h1M452 203.5h1M455 203.5h1M456 203.5h1M484 203.5h1M445 204.5h1M446 204.5h1M447 204.5h1M449 204.5h1M481 204.5h1M486 204.5h1M487 204.5h1M445 205.5h1M486 205.5h1M501 205.5h1M504 205.5h1M446 206.5h1M454 206.5h1M499 206.5h1M500 206.5h1M503 206.5h1M504 206.5h1M445 207.5h1M447 207.5h1M462 207.5h1M483 207.5h1M487 207.5h1M441 208.5h1M443 208.5h1M450 208.5h1M453 208.5h1M455 208.5h1M456 208.5h1M472 208.5h1M498 208.5h1M500 208.5h1M441 209.5h1M443 209.5h1M448 209.5h1M449 209.5h1M452 209.5h1M484 209.5h1M443 210.5h1M450 210.5h1M472 210.5h1M498 210.5h1M499 210.5h1M505 210.5h1M437 211.5h1M438 211.5h1M439 211.5h1M442 211.5h1M484 211.5h1M485 211.5h1M497 211.5h1M499 211.5h1M501 211.5h1M438 212.5h1M440 212.5h1M444 212.5h1M502 212.5h1M448 213.5h1M443 214.5h1M474 214.5h1M485 214.5h1M494 214.5h1M501 214.5h1M502 214.5h1M435 215.5h1M469 215.5h1M483 215.5h1" stroke="#a0aef0" stroke-width="1" fill="none"/><path d="M493 163.5h1M491 164.5h1M492 164.5h1M494 164.5h1M491 165.5h1M492 165.5h1M494 165.5h1M495 165.5h1M490 166.5h1M496 166.5h1M497 167.5h1M490 168.5h1M495 168.5h1M496 168.5h1M497 168.5h1M490 169.5h1M496 169.5h1M497 169.5h1M490 170.5h1M496 170.5h1M489 171.5h1M497 171.5h1M498 171.5h1M489 172.5h1M496 172.5h1M489 173.5h1M496 173.5h1M488 174.5h1M489 174.5h1M497 174.5h1M498 174.5h1M488 175.5h1M489 175.5h1M497 176.5h1M489 177.5h1M497 177.5h1M499 177.5h1M487 178.5h1M497 178.5h1M498 178.5h1M499 178.5h1M488 179.5h1M451 180.5h1M453 180.5h1M488 180.5h1M498 180.5h1M452 181.5h1M455 181.5h1M487 181.5h1M488 181.5h1M489 181.5h1M497 181.5h1M449 182.5h1M450 182.5h1M452 182.5h1M453 182.5h1M454 182.5h1M456 182.5h1M487 182.5h1M488 182.5h1M498 182.5h1M499 182.5h1M446 183.5h1M448 183.5h1M452 183.5h1M453 183.5h1M454 183.5h1M455 183.5h1M487 183.5h1M489 183.5h1M497 183.5h1M498 183.5h1M500 183.5h1M442 184.5h1M443 184.5h1M447 184.5h1M448 184.5h1M449 184.5h1M450 184.5h1M451 184.5h1M456 184.5h1M487 184.5h1M488 184.5h1M489 184.5h1M498 184.5h1M499 184.5h1M438 185.5h1M439 185.5h1M447 185.5h1M449 185.5h1M451 185.5h1M452 185.5h1M453 185.5h1M454 185.5h1M486 185.5h1M487 185.5h1M489 185.5h1M498 185.5h1M500 185.5h1M440 186.5h1M441 186.5h1M442 186.5h1M443 186.5h1M445 186.5h1M447 186.5h1M449 186.5h1M451 186.5h1M487 186.5h1M488 186.5h1M499 186.5h1M437 187.5h1M438 187.5h1M442 187.5h1M444 187.5h1M448 187.5h1M449 187.5h1M450 187.5h1M451 187.5h1M452 187.5h1M453 187.5h1M486 187.5h1M487 187.5h1M488 187.5h1M434 188.5h1M437 188.5h1M439 188.5h1M441 188.5h1M443 188.5h1M445 188.5h1M449 188.5h1M450 188.5h1M453 188.5h1M488 188.5h1M498 188.5h1M499 188.5h1M436 189.5h1M438 189.5h1M439 189.5h1M440 189.5h1M441 189.5h1M446 189.5h1M448 189.5h1M450 189.5h1M451 189.5h1M486 189.5h1M488 189.5h1M500 189.5h1M432 190.5h1M433 190.5h1M435 190.5h1M437 190.5h1M438 190.5h1M439 190.5h1M440 190.5h1M441 190.5h1M442 190.5h1M443 190.5h1M445 190.5h1M446 190.5h1M448 190.5h1M449 190.5h1M450 190.5h1M488 190.5h1M498 190.5h1M499 190.5h1M429 191.5h1M431 191.5h1M432 191.5h1M433 191.5h1M434 191.5h1M435 191.5h1M436 191.5h1M437 191.5h1M438 191.5h1M442 191.5h1M444 191.5h1M445 191.5h1M446 191.5h1M447 191.5h1M448 191.5h1M449 191.5h1M450 191.5h1M451 191.5h1M487 191.5h1M498 191.5h1M499 191.5h1M500 191.5h1M428 192.5h1M429 192.5h1M430 192.5h1M431 192.5h1M433 192.5h1M434 192.5h1M435 192.5h1M436 192.5h1M444 192.5h1M446 192.5h1M449 192.5h1M451 192.5h1M487 192.5h1M488 192.5h1M427 193.5h1M430 193.5h1M431 193.5h1M433 193.5h1M435 193.5h1M443 193.5h1M444 193.5h1M446 193.5h1M447 193.5h1M448 193.5h1M486 193.5h1M487 193.5h1M488 193.5h1M427 194.5h1M428 194.5h1M429 194.5h1M430 194.5h1M433 194.5h1M443 194.5h1M444 194.5h1M446 194.5h1M448 194.5h1M449 194.5h1M487 194.5h1M498 194.5h1M499 194.5h1M425 195.5h1M426 195.5h1M430 195.5h1M443 195.5h1M444 195.5h1M447 195.5h1M498 195.5h1M499 195.5h1M500 195.5h1M427 196.5h1M428 196.5h1M429 196.5h1M431 196.5h1M432 196.5h1M442 196.5h1M444 196.5h1M447 196.5h1M448 196.5h1M486 196.5h1M487 196.5h1M488 196.5h1M498 196.5h1M426 197.5h1M427 197.5h1M428 197.5h1M441 197.5h1M442 197.5h1M443 197.5h1M449 197.5h1M488 197.5h1M489 197.5h1M500 197.5h1M425 198.5h1M426 198.5h1M427 198.5h1M428 198.5h1M441 198.5h1M442 198.5h1M443 198.5h1M445 198.5h1M446 198.5h1M447 198.5h1M488 198.5h1M499 198.5h1M425 199.5h1M441 199.5h1M443 199.5h1M445 199.5h1M446 199.5h1M448 199.5h1M488 199.5h1M499 199.5h1M424 200.5h1M425 200.5h1M439 200.5h1M441 200.5h1M442 200.5h1M443 200.5h1M444 200.5h1M445 200.5h1M487 200.5h1M488 200.5h1M489 200.5h1M490 200.5h1M499 200.5h1M440 201.5h1M443 201.5h1M446 201.5h1M447 201.5h1M487 201.5h1M488 201.5h1M489 201.5h1M438 202.5h1M439 202.5h1M440 202.5h1M441 202.5h1M442 202.5h1M443 202.5h1M444 202.5h1M445 202.5h1M488 202.5h1M489 202.5h1M498 202.5h1M499 202.5h1M438 203.5h1M439 203.5h1M441 203.5h1M442 203.5h1M443 203.5h1M488 203.5h1M489 203.5h1M498 203.5h1M499 203.5h1M439 204.5h1M442 204.5h1M488 204.5h1M497 204.5h1M498 204.5h1M437 205.5h1M438 205.5h1M439 205.5h1M440 205.5h1M443 205.5h1M445 205.5h1M488 205.5h1M436 206.5h1M439 206.5h1M440 206.5h1M442 206.5h1M443 206.5h1M487 206.5h1M497 206.5h1M498 206.5h1M435 207.5h1M436 207.5h1M437 207.5h1M438 207.5h1M439 207.5h1M442 207.5h1M487 207.5h1M488 207.5h1M497 207.5h1M436 208.5h1M437 208.5h1M438 208.5h1M441 208.5h1M497 208.5h1M435 209.5h1M438 209.5h1M487 209.5h1M496 209.5h1M497 209.5h1M434 210.5h1M435 210.5h1M487 210.5h1M434 211.5h1M435 211.5h1M496 211.5h1M434 212.5h1M435 212.5h1M436 212.5h1M487 212.5h1M493 212.5h1M495 212.5h1M436 213.5h1M433 214.5h1M435 214.5h1M487 214.5h1M493 214.5h1M433 215.5h1" stroke="#8898ec" stroke-width="1" fill="none"/><path d="M493 166.5h1M494 166.5h1M493 167.5h1M494 167.5h1M495 167.5h1M491 168.5h1M492 168.5h1M494 168.5h1M495 168.5h1M491 169.5h1M494 169.5h1M495 169.5h1M490 170.5h1M491 170.5h1M495 170.5h1M496 170.5h1M490 171.5h1M491 171.5h1M490 172.5h1M491 172.5h1M496 173.5h1M490 174.5h1M496 175.5h1M489 176.5h1M490 176.5h1M496 176.5h1M490 177.5h1M497 177.5h1M489 178.5h1M490 178.5h1M490 179.5h1M497 179.5h1M489 180.5h1M490 180.5h1M496 180.5h1M497 180.5h1M489 181.5h1M490 181.5h1M496 181.5h1M497 181.5h1M489 182.5h1M496 182.5h1M496 183.5h1M489 184.5h1M490 184.5h1M489 185.5h1M497 185.5h1M489 186.5h1M490 186.5h1M496 186.5h1M497 186.5h1M489 187.5h1M497 187.5h1M488 188.5h1M489 189.5h1M497 189.5h1M489 190.5h1M497 190.5h1M439 191.5h1M441 191.5h1M489 191.5h1M498 191.5h1M436 192.5h1M437 192.5h1M439 192.5h1M440 192.5h1M441 192.5h1M442 192.5h1M497 192.5h1M435 193.5h1M436 193.5h1M437 193.5h1M438 193.5h1M439 193.5h1M440 193.5h1M441 193.5h1M442 193.5h1M497 193.5h1M433 194.5h1M437 194.5h1M438 194.5h1M439 194.5h1M440 194.5h1M442 194.5h1M489 194.5h1M490 194.5h1M497 194.5h1M498 194.5h1M435 195.5h1M436 195.5h1M437 195.5h1M439 195.5h1M440 195.5h1M489 195.5h1M490 195.5h1M497 195.5h1M498 195.5h1M431 196.5h1M433 196.5h1M434 196.5h1M435 196.5h1M436 196.5h1M437 196.5h1M439 196.5h1M440 196.5h1M489 196.5h1M498 196.5h1M429 197.5h1M431 197.5h1M433 197.5h1M435 197.5h1M436 197.5h1M437 197.5h1M438 197.5h1M439 197.5h1M440 197.5h1M441 197.5h1M490 197.5h1M497 197.5h1M427 198.5h1M429 198.5h1M430 198.5h1M431 198.5h1M433 198.5h1M434 198.5h1M435 198.5h1M436 198.5h1M437 198.5h1M438 198.5h1M439 198.5h1M440 198.5h1M490 198.5h1M497 198.5h1M426 199.5h1M427 199.5h1M429 199.5h1M430 199.5h1M432 199.5h1M433 199.5h1M434 199.5h1M435 199.5h1M436 199.5h1M437 199.5h1M439 199.5h1M440 199.5h1M490 199.5h1M426 200.5h1M427 200.5h1M428 200.5h1M429 200.5h1M430 200.5h1M431 200.5h1M432 200.5h1M434 200.5h1M435 200.5h1M436 200.5h1M437 200.5h1M439 200.5h1M490 200.5h1M424 201.5h1M426 201.5h1M427 201.5h1M428 201.5h1M429 201.5h1M430 201.5h1M431 201.5h1M432 201.5h1M433 201.5h1M434 201.5h1M435 201.5h1M436 201.5h1M490 201.5h1M491 201.5h1M498 201.5h1M425 202.5h1M431 202.5h1M432 202.5h1M433 202.5h1M436 202.5h1M490 202.5h1M491 202.5h1M497 202.5h1M498 202.5h1M424 203.5h1M425 203.5h1M433 203.5h1M434 203.5h1M436 203.5h1M489 203.5h1M490 203.5h1M497 203.5h1M432 204.5h1M433 204.5h1M435 204.5h1M489 204.5h1M490 204.5h1M497 204.5h1M433 205.5h1M435 205.5h1M489 205.5h1M490 205.5h1M497 205.5h1M433 206.5h1M434 206.5h1M488 206.5h1M496 206.5h1M433 207.5h1M434 207.5h1M488 207.5h1M489 207.5h1M496 207.5h1M434 208.5h1M435 208.5h1M488 208.5h1M495 208.5h1M496 208.5h1M433 209.5h1M434 209.5h1M488 209.5h1M433 210.5h1M494 210.5h1M433 211.5h1M488 211.5h1M493 211.5h1M433 212.5h1M487 212.5h1M488 212.5h1M492 212.5h1M493 212.5h1M433 213.5h1M488 213.5h1M492 213.5h1M493 213.5h1M431 214.5h1M432 214.5h1M488 214.5h1M489 214.5h1M490 214.5h1M491 214.5h1M432 215.5h1M487 215.5h1M488 215.5h1" stroke="#6f88ea" stroke-width="1" fill="none"/><path d="M493 168.5h1M492 169.5h1M494 169.5h1M492 170.5h1M494 170.5h1M495 170.5h1M495 171.5h1M491 172.5h1M495 172.5h1M491 173.5h1M496 173.5h1M490 176.5h1M495 176.5h1M496 176.5h1M490 177.5h1M490 179.5h1M495 179.5h1M490 180.5h1M496 180.5h1M490 181.5h1M490 182.5h1M496 182.5h1M496 183.5h1M490 184.5h1M491 184.5h1M496 184.5h1M490 185.5h1M496 185.5h1M490 186.5h1M496 186.5h1M490 187.5h1M496 187.5h1M490 188.5h1M496 188.5h1M490 190.5h1M490 191.5h1M496 191.5h1M490 192.5h1M496 192.5h1M490 193.5h1M490 194.5h1M496 194.5h1M490 195.5h1M490 196.5h1M491 196.5h1M496 196.5h1M491 197.5h1M496 197.5h1M491 198.5h1M496 198.5h1M491 199.5h1M492 199.5h1M496 199.5h1M491 200.5h1M497 200.5h1M429 201.5h1M496 201.5h1M497 201.5h1M426 202.5h1M427 202.5h1M428 202.5h1M429 202.5h1M430 202.5h1M431 202.5h1M496 202.5h1M497 202.5h1M425 203.5h1M426 203.5h1M427 203.5h1M428 203.5h1M429 203.5h1M430 203.5h1M431 203.5h1M491 203.5h1M496 203.5h1M425 204.5h1M430 204.5h1M431 204.5h1M432 204.5h1M491 204.5h1M496 204.5h1M424 205.5h1M425 205.5h1M431 205.5h1M433 205.5h1M496 205.5h1M424 206.5h1M432 206.5h1M490 206.5h1M432 207.5h1M489 207.5h1M490 207.5h1M432 208.5h1M489 208.5h1M432 209.5h1M489 209.5h1M494 209.5h1M432 210.5h1M488 210.5h1M489 210.5h1M493 210.5h1M494 210.5h1M432 211.5h1M489 211.5h1M493 211.5h1M424 212.5h1M432 212.5h1M489 212.5h1M491 212.5h1M492 212.5h1M431 213.5h1M489 213.5h1M491 213.5h1M430 214.5h1M431 214.5h1M489 214.5h1M427 215.5h1M428 215.5h1M429 215.5h1" stroke="#68a8ef" stroke-width="1" fill="none"/><path d="M492 170.5h1M493 170.5h1M493 171.5h1M494 171.5h1M491 172.5h1M492 172.5h1M494 172.5h1M495 172.5h1M491 173.5h1M495 173.5h1M491 174.5h1M495 175.5h1M491 176.5h1M495 176.5h1M491 177.5h1M495 177.5h1M491 178.5h1M495 178.5h1M491 179.5h1M495 179.5h1M491 180.5h1M495 180.5h1M491 181.5h1M495 181.5h1M491 182.5h1M495 182.5h1M491 183.5h1M495 183.5h1M491 184.5h1M495 184.5h1M495 185.5h1M491 186.5h1M495 186.5h1M490 188.5h1M491 188.5h1M496 188.5h1M490 190.5h1M491 191.5h1M495 191.5h1M490 192.5h1M496 192.5h1M491 193.5h1M495 193.5h1M491 194.5h1M491 195.5h1M495 195.5h1M491 196.5h1M492 196.5h1M495 196.5h1M492 197.5h1M495 197.5h1M492 198.5h1M493 198.5h1M495 198.5h1M492 199.5h1M493 199.5h1M495 199.5h1M496 199.5h1M492 200.5h1M493 200.5h1M495 200.5h1M496 200.5h1M492 201.5h1M493 201.5h1M495 201.5h1M496 201.5h1M492 202.5h1M496 202.5h1M427 203.5h1M428 203.5h1M429 203.5h1M491 203.5h1M495 203.5h1M496 203.5h1M426 204.5h1M427 204.5h1M428 204.5h1M429 204.5h1M495 204.5h1M425 205.5h1M426 205.5h1M429 205.5h1M430 205.5h1M490 205.5h1M425 206.5h1M430 206.5h1M431 206.5h1M490 206.5h1M495 206.5h1M424 207.5h1M425 207.5h1M431 207.5h1M494 207.5h1M424 208.5h1M431 208.5h1M490 208.5h1M494 208.5h1M431 209.5h1M432 209.5h1M489 209.5h1M493 209.5h1M424 210.5h1M425 210.5h1M431 210.5h1M489 210.5h1M490 210.5h1M492 210.5h1M493 210.5h1M424 211.5h1M431 211.5h1M489 211.5h1M490 211.5h1M491 211.5h1M492 211.5h1M424 212.5h1M425 212.5h1M430 212.5h1M431 212.5h1M490 212.5h1M491 212.5h1M425 213.5h1M426 213.5h1M427 213.5h1M429 213.5h1M430 213.5h1M490 213.5h1M425 214.5h1M426 214.5h1M427 214.5h1M428 214.5h1M429 214.5h1M428 215.5h1M429 215.5h1" stroke="#68d0d8" stroke-width="1" fill="none"/><path d="M493 171.5h1M492 172.5h1M493 172.5h1M494 172.5h1M492 173.5h1M493 173.5h1M494 173.5h1M492 174.5h1M494 174.5h1M491 175.5h1M492 175.5h1M494 175.5h1M495 175.5h1M491 176.5h1M492 176.5h1M494 176.5h1M495 176.5h1M492 177.5h1M494 177.5h1M495 177.5h1M491 178.5h1M492 178.5h1M494 178.5h1M495 178.5h1M491 179.5h1M492 179.5h1M494 179.5h1M491 180.5h1M492 180.5h1M494 180.5h1M492 181.5h1M494 181.5h1M495 181.5h1M492 182.5h1M494 182.5h1M495 182.5h1M491 183.5h1M492 183.5h1M494 183.5h1M495 183.5h1M491 184.5h1M492 184.5h1M494 184.5h1M495 184.5h1M491 185.5h1M492 185.5h1M494 185.5h1M491 186.5h1M494 186.5h1M495 186.5h1M491 187.5h1M495 187.5h1M491 188.5h1M495 188.5h1M491 189.5h1M495 189.5h1M491 190.5h1M495 190.5h1M495 191.5h1M495 192.5h1M492 193.5h1M495 193.5h1M491 194.5h1M494 194.5h1M495 194.5h1M491 195.5h1M492 195.5h1M494 195.5h1M495 195.5h1M492 196.5h1M493 196.5h1M494 196.5h1M495 196.5h1M492 197.5h1M493 197.5h1M494 197.5h1M493 198.5h1M494 198.5h1M494 199.5h1M494 200.5h1M495 200.5h1M493 201.5h1M494 201.5h1M493 202.5h1M494 202.5h1M495 202.5h1M492 203.5h1M493 203.5h1M494 203.5h1M495 203.5h1M491 204.5h1M492 204.5h1M494 204.5h1M495 204.5h1M426 205.5h1M427 205.5h1M428 205.5h1M429 205.5h1M491 205.5h1M494 205.5h1M426 206.5h1M427 206.5h1M428 206.5h1M429 206.5h1M491 206.5h1M494 206.5h1M425 207.5h1M426 207.5h1M429 207.5h1M430 207.5h1M491 207.5h1M493 207.5h1M494 207.5h1M425 208.5h1M430 208.5h1M490 208.5h1M491 208.5h1M493 208.5h1M494 208.5h1M425 209.5h1M430 209.5h1M431 209.5h1M490 209.5h1M491 209.5h1M492 209.5h1M493 209.5h1M425 210.5h1M426 210.5h1M430 210.5h1M431 210.5h1M490 210.5h1M491 210.5h1M492 210.5h1M425 211.5h1M426 211.5h1M430 211.5h1M490 211.5h1M491 211.5h1M425 212.5h1M426 212.5h1M427 212.5h1M428 212.5h1M429 212.5h1M430 212.5h1M427 213.5h1M428 213.5h1M429 213.5h1" stroke="#80e090" stroke-width="1" fill="none"/><path d="M493 173.5h1M493 174.5h1M492 175.5h1M494 175.5h1M492 176.5h1M494 177.5h1M494 178.5h1M492 179.5h1M494 179.5h1M492 180.5h1M494 180.5h1M492 181.5h1M494 181.5h1M492 182.5h1M494 182.5h1M494 183.5h1M492 184.5h1M494 184.5h1M492 185.5h1M494 185.5h1M492 186.5h1M494 186.5h1M494 187.5h1M495 188.5h1M491 189.5h1M491 191.5h1M491 192.5h1M492 194.5h1M494 194.5h1M492 195.5h1M493 195.5h1M494 195.5h1M493 196.5h1M493 203.5h1M494 203.5h1M493 204.5h1M494 204.5h1M492 205.5h1M494 205.5h1M491 206.5h1M492 206.5h1M493 206.5h1M426 207.5h1M427 207.5h1M428 207.5h1M429 207.5h1M491 207.5h1M493 207.5h1M429 208.5h1M491 208.5h1M492 208.5h1M426 209.5h1M429 209.5h1M491 209.5h1M426 210.5h1M429 210.5h1M426 211.5h1M427 211.5h1M429 211.5h1M427 212.5h1M428 212.5h1" stroke="#98e050" stroke-width="1" fill="none"/></g></g><rect x="423.8" y="160.5" width="47.69999999999999" height="15.300000000000011" fill="none" stroke="#f8e8f8" stroke-width="4" stroke-opacity="0.7"/><rect x="423.8" y="175.8" width="33.69999999999999" height="17.69999999999999" fill="none" stroke="#f8e8f8" stroke-width="4" stroke-opacity="0.7"/><rect x="471.5" y="160.5" width="34.10000000000002" height="21.5" fill="none" stroke="#f8e8f8" stroke-width="4" stroke-opacity="0.7"/><rect x="478.3" y="182" width="27.30000000000001" height="16.5" fill="none" stroke="#f8e8f8" stroke-width="4" stroke-opacity="0.7"/><rect x="477.7" y="198.5" width="27.30000000000001" height="16.5" fill="none" stroke="#f8e8f8" stroke-width="4" stroke-opacity="0.7"/><rect x="423.8" y="160.5" width="47.69999999999999" height="15.300000000000011" fill="none" stroke="#b828d8" stroke-opacity="0.66" stroke-width="1.35"/><rect x="423.8" y="175.8" width="33.69999999999999" height="17.69999999999999" fill="none" stroke="#b828d8" stroke-opacity="0.66" stroke-width="1.35"/><rect x="471.5" y="160.5" width="34.10000000000002" height="21.5" fill="none" stroke="#b828d8" stroke-opacity="0.66" stroke-width="1.35"/><rect x="478.3" y="182" width="27.30000000000001" height="16.5" fill="none" stroke="#b828d8" stroke-opacity="0.66" stroke-width="1.35"/><rect x="477.7" y="198.5" width="27.30000000000001" height="16.5" fill="none" stroke="#b828d8" stroke-opacity="0.66" stroke-width="1.35"/><path d="M423.5 122H515V215.5" stroke="#7a7a7a" stroke-width="1" fill="none"/><path d="M423.5 122V215.5H515" stroke="#222" stroke-width="1.3" fill="none"/><path d="M423.5 215.5h-2.2M423.5 215.5v2.2M423.5 208.5h-1.2M430.4 215.5v1.2M423.5 204.3h-1.2M434.4 215.5v1.2M423.5 201.4h-1.2M437.3 215.5v1.2M423.5 199.2h-1.2M439.5 215.5v1.2M423.5 197.3h-1.2M441.3 215.5v1.2M423.5 195.7h-1.2M442.8 215.5v1.2M423.5 194.4h-1.2M444.2 215.5v1.2M423.5 193.2h-1.2M445.3 215.5v1.2M423.5 192.1h-2.2M446.4 215.5v2.2M423.5 185.1h-1.2M453.3 215.5v1.2M423.5 181.0h-1.2M457.3 215.5v1.2M423.5 178.1h-1.2M460.1 215.5v1.2M423.5 175.8h-1.2M462.4 215.5v1.2M423.5 173.9h-1.2M464.2 215.5v1.2M423.5 172.4h-1.2M465.7 215.5v1.2M423.5 171.0h-1.2M467.0 215.5v1.2M423.5 169.8h-1.2M468.2 215.5v1.2M423.5 168.8h-2.2M469.2 215.5v2.2M423.5 161.7h-1.2M476.1 215.5v1.2M423.5 157.6h-1.2M480.2 215.5v1.2M423.5 154.7h-1.2M483.0 215.5v1.2M423.5 152.4h-1.2M485.2 215.5v1.2M423.5 150.6h-1.2M487.1 215.5v1.2M423.5 149.0h-1.2M488.6 215.5v1.2M423.5 147.6h-1.2M489.9 215.5v1.2M423.5 146.4h-1.2M491.1 215.5v1.2M423.5 145.4h-2.2M492.1 215.5v2.2M423.5 138.3h-1.2M499.0 215.5v1.2M423.5 134.2h-1.2M503.0 215.5v1.2M423.5 131.3h-1.2M505.9 215.5v1.2M423.5 129.0h-1.2M508.1 215.5v1.2M423.5 127.2h-1.2M509.9 215.5v1.2M423.5 125.6h-1.2M511.5 215.5v1.2M423.5 124.3h-1.2M512.8 215.5v1.2M423.5 123.1h-1.2M514.0 215.5v1.2M423.5 122h-2.2M515 215.5v2.2" stroke="#222" stroke-width="0.7" fill="none"/><text x="421.0" y="217.7" font-size="5.6" font-weight="bold" text-anchor="end" textLength="6.5" lengthAdjust="spacingAndGlyphs">10<tspan font-size="4" dy="-2">0</tspan></text><text x="424.5" y="224.5" font-size="5.6" font-weight="bold" text-anchor="middle" textLength="6.5" lengthAdjust="spacingAndGlyphs">10<tspan font-size="4" dy="-2">0</tspan></text><text x="421.0" y="194.3" font-size="5.6" font-weight="bold" text-anchor="end" textLength="6.5" lengthAdjust="spacingAndGlyphs">10<tspan font-size="4" dy="-2">1</tspan></text><text x="447.4" y="224.5" font-size="5.6" font-weight="bold" text-anchor="middle" textLength="6.5" lengthAdjust="spacingAndGlyphs">10<tspan font-size="4" dy="-2">1</tspan></text><text x="421.0" y="170.9" font-size="5.6" font-weight="bold" text-anchor="end" textLength="6.5" lengthAdjust="spacingAndGlyphs">10<tspan font-size="4" dy="-2">2</tspan></text><text x="470.2" y="224.5" font-size="5.6" font-weight="bold" text-anchor="middle" textLength="6.5" lengthAdjust="spacingAndGlyphs">10<tspan font-size="4" dy="-2">2</tspan></text><text x="421.0" y="147.6" font-size="5.6" font-weight="bold" text-anchor="end" textLength="6.5" lengthAdjust="spacingAndGlyphs">10<tspan font-size="4" dy="-2">3</tspan></text><text x="493.1" y="224.5" font-size="5.6" font-weight="bold" text-anchor="middle" textLength="6.5" lengthAdjust="spacingAndGlyphs">10<tspan font-size="4" dy="-2">3</tspan></text><text x="421.0" y="124.2" font-size="5.6" font-weight="bold" text-anchor="end" textLength="6.5" lengthAdjust="spacingAndGlyphs">10<tspan font-size="4" dy="-2">4</tspan></text><text x="516.0" y="224.5" font-size="5.6" font-weight="bold" text-anchor="middle" textLength="6.5" lengthAdjust="spacingAndGlyphs">10<tspan font-size="4" dy="-2">4</tspan></text><text x="466" y="140.8" font-size="14.5" text-anchor="middle" stroke="#000" stroke-width="0.25">3SA</text><path d="M17.3 112V237.9H138.5" stroke="#000" stroke-width="3.6" fill="none" stroke-linejoin="miter"/><path d="M17.3 98.2L24.2 110.6H10.4Z" fill="#fff" stroke="#000" stroke-width="2.4" stroke-linejoin="miter"/><path d="M151.3 238.2L139 231.3V245.1Z" fill="#fff" stroke="#000" stroke-width="2.4" stroke-linejoin="miter"/><text transform="translate(10.5,230.5) rotate(-90)" font-size="13.5" textLength="104.5" lengthAdjust="spacingAndGlyphs" stroke="#000" stroke-width="0.3">CD71-FITC(RFU)</text><text x="17.8" y="252.2" font-size="13.5" textLength="113" lengthAdjust="spacingAndGlyphs" stroke="#000" stroke-width="0.3">Ter119-FITC (RFU)</text><text transform="translate(10.5,397.5) rotate(-90)" font-size="12" textLength="122" lengthAdjust="spacingAndGlyphs" stroke="#000" stroke-width="0.25">Colonies/1 x 10<tspan font-size="8" dy="-4.5">5</tspan><tspan dy="4.5"> cells</tspan></text><rect x="32.4" y="322.3" width="11.800000000000004" height="56.19999999999999" fill="#7cc4f8" stroke="#203050" stroke-width="0.8"/><rect x="44.2" y="331.8" width="10.099999999999994" height="46.69999999999999" fill="#ee0a1e" stroke="#400808" stroke-width="0.8"/><path d="M38.5 306.6V338.5M36.5 306.6h4M36.5 338.5h4" stroke="#111" stroke-width="1.1" fill="none"/><path d="M48.6 320.9V343.1M46.6 320.9h4M46.6 343.1h4" stroke="#111" stroke-width="1.1" fill="none"/><rect x="58.3" y="352.6" width="11.100000000000009" height="25.899999999999977" fill="#7cc4f8" stroke="#203050" stroke-width="0.8"/><rect x="69.4" y="354.2" width="10.5" height="24.30000000000001" fill="#ee0a1e" stroke="#400808" stroke-width="0.8"/><path d="M63.9 345.1V360.7M61.9 345.1h4M61.9 360.7h4" stroke="#111" stroke-width="1.1" fill="none"/><path d="M74.4 347.1V361.1M72.4 347.1h4M72.4 361.1h4" stroke="#111" stroke-width="1.1" fill="none"/><rect x="84.5" y="364.7" width="10.700000000000003" height="13.800000000000011" fill="#7cc4f8" stroke="#203050" stroke-width="0.8"/><rect x="95.2" y="367.1" width="10.5" height="11.399999999999977" fill="#ee0a1e" stroke="#400808" stroke-width="0.8"/><path d="M90.6 361.7V367.1M88.6 361.7h4M88.6 367.1h4" stroke="#111" stroke-width="1.1" fill="none"/><path d="M100.7 365.7V368.4M98.7 365.7h4M98.7 368.4h4" stroke="#111" stroke-width="1.1" fill="none"/><rect x="110.4" y="324.3" width="10.899999999999991" height="54.19999999999999" fill="#7cc4f8" stroke="#203050" stroke-width="0.8"/><rect x="121.3" y="338.1" width="10.100000000000009" height="40.39999999999998" fill="#ee0a1e" stroke="#400808" stroke-width="0.8"/><path d="M114.8 323.3V325.5M112.8 323.3h4M112.8 325.5h4" stroke="#111" stroke-width="1.1" fill="none"/><path d="M125.9 327.8V349M123.9 327.8h4M123.9 349h4" stroke="#111" stroke-width="1.1" fill="none"/><path d="M30.5 305.3V378.5H133" stroke="#111" stroke-width="1.3" fill="none"/><text x="29.7" y="380.90" font-size="9.5" text-anchor="end" textLength="4.6" lengthAdjust="spacingAndGlyphs" stroke="#000" stroke-width="0.3">0</text><text x="29.7" y="362.65" font-size="9.5" text-anchor="end" textLength="9.2" lengthAdjust="spacingAndGlyphs" stroke="#000" stroke-width="0.3">20</text><text x="29.7" y="344.40" font-size="9.5" text-anchor="end" textLength="9.2" lengthAdjust="spacingAndGlyphs" stroke="#000" stroke-width="0.3">40</text><text x="29.7" y="326.15" font-size="9.5" text-anchor="end" textLength="9.2" lengthAdjust="spacingAndGlyphs" stroke="#000" stroke-width="0.3">60</text><text x="29.7" y="307.90" font-size="9.5" text-anchor="end" textLength="9.2" lengthAdjust="spacingAndGlyphs" stroke="#000" stroke-width="0.3">80</text><path d="M30.5 378.50h-2M30.5 360.25h-2M30.5 342.00h-2M30.5 323.75h-2M30.5 305.50h-2M30.5 369.38h-1.2M30.5 351.12h-1.2M30.5 332.88h-1.2M30.5 314.62h-1.2" stroke="#111" stroke-width="0.9" fill="none"/><text x="43.4" y="387.3" font-size="9.3" text-anchor="middle" textLength="21" lengthAdjust="spacingAndGlyphs" stroke="#000" stroke-width="0.3">E12.5</text><text x="69.1" y="387.3" font-size="9.3" text-anchor="middle" textLength="21" lengthAdjust="spacingAndGlyphs" stroke="#000" stroke-width="0.3">E14.5</text><text x="95.1" y="387.3" font-size="9.3" text-anchor="middle" textLength="21" lengthAdjust="spacingAndGlyphs" stroke="#000" stroke-width="0.3">E17.5</text><text x="121" y="387.3" font-size="9.3" text-anchor="middle" textLength="20" lengthAdjust="spacingAndGlyphs" stroke="#000" stroke-width="0.3">Adult</text><text x="79.6" y="296.0" font-size="11.3" text-anchor="middle" textLength="31.8" lengthAdjust="spacingAndGlyphs" stroke="#000" stroke-width="0.3">BFU-E</text><text x="79.6" y="309.0" font-size="11.3" text-anchor="middle" textLength="35" lengthAdjust="spacingAndGlyphs" stroke="#000" stroke-width="0.3">S310A</text><rect x="159.5" y="319.5" width="10.5" height="58.0" fill="#7cc4f8" stroke="#203050" stroke-width="0.8"/><rect x="170" y="321.25" width="10.5" height="56.25" fill="#ee0a1e" stroke="#400808" stroke-width="0.8"/><path d="M164.5 315V325M162.5 315h4M162.5 325h4" stroke="#111" stroke-width="1.1" fill="none"/><path d="M175.5 311.25V331.25M173.5 311.25h4M173.5 331.25h4" stroke="#111" stroke-width="1.1" fill="none"/><rect x="184.5" y="333.75" width="11.0" height="43.75" fill="#7cc4f8" stroke="#203050" stroke-width="0.8"/><rect x="195.5" y="344.25" width="10.75" height="33.25" fill="#ee0a1e" stroke="#400808" stroke-width="0.8"/><path d="M190.5 324.5V343M188.5 324.5h4M188.5 343h4" stroke="#111" stroke-width="1.1" fill="none"/><path d="M201.25 340.5V347.5M199.25 340.5h4M199.25 347.5h4" stroke="#111" stroke-width="1.1" fill="none"/><rect x="210.5" y="345" width="10.75" height="32.5" fill="#7cc4f8" stroke="#203050" stroke-width="0.8"/><rect x="221.25" y="356.25" width="10.5" height="21.25" fill="#ee0a1e" stroke="#400808" stroke-width="0.8"/><path d="M216.25 342.5V348M214.25 342.5h4M214.25 348h4" stroke="#111" stroke-width="1.1" fill="none"/><path d="M226.25 350V362.5M224.25 350h4M224.25 362.5h4" stroke="#111" stroke-width="1.1" fill="none"/><rect x="236.25" y="319.5" width="11.25" height="58.0" fill="#7cc4f8" stroke="#203050" stroke-width="0.8"/><rect x="247.5" y="343.25" width="10.0" height="34.25" fill="#ee0a1e" stroke="#400808" stroke-width="0.8"/><path d="M241.25 309.5V329.5M239.25 309.5h4M239.25 329.5h4" stroke="#111" stroke-width="1.1" fill="none"/><path d="M252.5 336.25V351.25M250.5 336.25h4M250.5 351.25h4" stroke="#111" stroke-width="1.1" fill="none"/><path d="M156.5 305.0V377.5H259" stroke="#111" stroke-width="1.3" fill="none"/><text x="155.7" y="379.90" font-size="9.5" text-anchor="end" textLength="4.6" lengthAdjust="spacingAndGlyphs" stroke="#000" stroke-width="0.3">0</text><text x="155.7" y="355.90" font-size="9.5" text-anchor="end" textLength="9.2" lengthAdjust="spacingAndGlyphs" stroke="#000" stroke-width="0.3">20</text><text x="155.7" y="331.90" font-size="9.5" text-anchor="end" textLength="9.2" lengthAdjust="spacingAndGlyphs" stroke="#000" stroke-width="0.3">40</text><text x="155.7" y="307.90" font-size="9.5" text-anchor="end" textLength="9.2" lengthAdjust="spacingAndGlyphs" stroke="#000" stroke-width="0.3">60</text><path d="M156.5 377.50h-2M156.5 353.50h-2M156.5 329.50h-2M156.5 305.50h-2M156.5 365.50h-1.2M156.5 341.50h-1.2M156.5 317.50h-1.2" stroke="#111" stroke-width="0.9" fill="none"/><text x="170" y="386.3" font-size="9.3" text-anchor="middle" textLength="21" lengthAdjust="spacingAndGlyphs" stroke="#000" stroke-width="0.3">E12.5</text><text x="195.4" y="386.3" font-size="9.3" text-anchor="middle" textLength="21" lengthAdjust="spacingAndGlyphs" stroke="#000" stroke-width="0.3">E14.5</text><text x="221.1" y="386.3" font-size="9.3" text-anchor="middle" textLength="21" lengthAdjust="spacingAndGlyphs" stroke="#000" stroke-width="0.3">E17.5</text><text x="247" y="386.3" font-size="9.3" text-anchor="middle" textLength="20" lengthAdjust="spacingAndGlyphs" stroke="#000" stroke-width="0.3">Adult</text><text x="210.6" y="296" font-size="11.3" text-anchor="middle" textLength="32.2" lengthAdjust="spacingAndGlyphs" stroke="#000" stroke-width="0.3">BFU-E</text><text x="210.6" y="309" font-size="11.3" text-anchor="middle" textLength="21.5" lengthAdjust="spacingAndGlyphs" stroke="#000" stroke-width="0.3">3SA</text><path d="M253.3 329.8l0.00 -3.10M253.3 329.8l2.95 -0.96M253.3 329.8l1.82 2.51M253.3 329.8l-1.82 2.51M253.3 329.8l-2.95 -0.96" stroke="#111" stroke-width="1.5" fill="none"/><rect x="293" y="340.75" width="10" height="36.25" fill="#7cc4f8" stroke="#203050" stroke-width="0.8"/><rect x="303" y="329.5" width="10.75" height="47.5" fill="#ee0a1e" stroke="#400808" stroke-width="0.8"/><path d="M298 333.25V348M296 333.25h4M296 348h4" stroke="#111" stroke-width="1.1" fill="none"/><path d="M308.75 306.25V353.75M306.75 306.25h4M306.75 353.75h4" stroke="#111" stroke-width="1.1" fill="none"/><rect x="318.25" y="342.5" width="10.0" height="34.5" fill="#7cc4f8" stroke="#203050" stroke-width="0.8"/><rect x="328.25" y="340.5" width="11.0" height="36.5" fill="#ee0a1e" stroke="#400808" stroke-width="0.8"/><path d="M323.75 338.75V346.25M321.75 338.75h4M321.75 346.25h4" stroke="#111" stroke-width="1.1" fill="none"/><path d="M333.75 331.25V350M331.75 331.25h4M331.75 350h4" stroke="#111" stroke-width="1.1" fill="none"/><rect x="343" y="372" width="10" height="5" fill="#7cc4f8" stroke="#203050" stroke-width="0.8"/><rect x="353" y="373" width="10.75" height="4" fill="#ee0a1e" stroke="#400808" stroke-width="0.8"/><path d="M348.25 371.25V373M346.25 371.25h4M346.25 373h4" stroke="#111" stroke-width="1.1" fill="none"/><rect x="368.25" y="359.5" width="10.0" height="17.5" fill="#7cc4f8" stroke="#203050" stroke-width="0.8"/><rect x="378.25" y="361.25" width="11.0" height="15.75" fill="#ee0a1e" stroke="#400808" stroke-width="0.8"/><path d="M373.25 356.25V363M371.25 356.25h4M371.25 363h4" stroke="#111" stroke-width="1.1" fill="none"/><path d="M384.25 358V363.75M382.25 358h4M382.25 363.75h4" stroke="#111" stroke-width="1.1" fill="none"/><path d="M291.25 305.0V377H391" stroke="#111" stroke-width="1.3" fill="none"/><text x="290.45" y="379.40" font-size="9.5" text-anchor="end" textLength="4.4" lengthAdjust="spacingAndGlyphs" stroke="#000" stroke-width="0.3">0</text><text x="290.45" y="355.57" font-size="9.5" text-anchor="end" textLength="13.200000000000001" lengthAdjust="spacingAndGlyphs" stroke="#000" stroke-width="0.3">400</text><text x="290.45" y="331.73" font-size="9.5" text-anchor="end" textLength="13.200000000000001" lengthAdjust="spacingAndGlyphs" stroke="#000" stroke-width="0.3">800</text><text x="290.45" y="307.90" font-size="9.5" text-anchor="end" textLength="17.6" lengthAdjust="spacingAndGlyphs" stroke="#000" stroke-width="0.3">1200</text><path d="M291.25 377.00h-2M291.25 353.17h-2M291.25 329.33h-2M291.25 305.50h-2M291.25 365.08h-1.2M291.25 341.25h-1.2M291.25 317.42h-1.2" stroke="#111" stroke-width="0.9" fill="none"/><text x="303" y="385.8" font-size="9.3" text-anchor="middle" textLength="21" lengthAdjust="spacingAndGlyphs" stroke="#000" stroke-width="0.3">E12.5</text><text x="328.5" y="385.8" font-size="9.3" text-anchor="middle" textLength="21" lengthAdjust="spacingAndGlyphs" stroke="#000" stroke-width="0.3">E14.5</text><text x="353.3" y="385.8" font-size="9.3" text-anchor="middle" textLength="21" lengthAdjust="spacingAndGlyphs" stroke="#000" stroke-width="0.3">E17.5</text><text x="378.6" y="385.8" font-size="9.3" text-anchor="middle" textLength="20" lengthAdjust="spacingAndGlyphs" stroke="#000" stroke-width="0.3">Adult</text><text x="339" y="294.4" font-size="11.3" text-anchor="middle" textLength="32.2" lengthAdjust="spacingAndGlyphs" stroke="#000" stroke-width="0.3">CFU-E</text><text x="339" y="307.4" font-size="11.3" text-anchor="middle" textLength="35.5" lengthAdjust="spacingAndGlyphs" stroke="#000" stroke-width="0.3">S310A</text><rect x="419.5" y="323.75" width="10.0" height="52.75" fill="#7cc4f8" stroke="#203050" stroke-width="0.8"/><rect x="429.5" y="343.25" width="10.5" height="33.25" fill="#ee0a1e" stroke="#400808" stroke-width="0.8"/><path d="M425 306.25V342.5M423 306.25h4M423 342.5h4" stroke="#111" stroke-width="1.1" fill="none"/><path d="M435 337V349.5M433 337h4M433 349.5h4" stroke="#111" stroke-width="1.1" fill="none"/><rect x="444.5" y="340.5" width="10.0" height="36.0" fill="#7cc4f8" stroke="#203050" stroke-width="0.8"/><rect x="454.5" y="333.75" width="10.5" height="42.75" fill="#ee0a1e" stroke="#400808" stroke-width="0.8"/><path d="M449.25 336.25V343.75M447.25 336.25h4M447.25 343.75h4" stroke="#111" stroke-width="1.1" fill="none"/><path d="M460 318V349.5M458 318h4M458 349.5h4" stroke="#111" stroke-width="1.1" fill="none"/><rect x="469.5" y="370" width="9.75" height="6.5" fill="#7cc4f8" stroke="#203050" stroke-width="0.8"/><rect x="479.25" y="368" width="10.75" height="8.5" fill="#ee0a1e" stroke="#400808" stroke-width="0.8"/><path d="M474.25 369V371M472.25 369h4M472.25 371h4" stroke="#111" stroke-width="1.1" fill="none"/><path d="M484.5 366.5V369M482.5 366.5h4M482.5 369h4" stroke="#111" stroke-width="1.1" fill="none"/><rect x="494.5" y="363" width="10.5" height="13.5" fill="#7cc4f8" stroke="#203050" stroke-width="0.8"/><rect x="505" y="370" width="10" height="6.5" fill="#ee0a1e" stroke="#400808" stroke-width="0.8"/><path d="M499.25 362V364.5M497.25 362h4M497.25 364.5h4" stroke="#111" stroke-width="1.1" fill="none"/><path d="M510 368.75V371.75M508 368.75h4M508 371.75h4" stroke="#111" stroke-width="1.1" fill="none"/><path d="M417.5 304.5V376.5H517" stroke="#111" stroke-width="1.3" fill="none"/><text x="416.7" y="378.90" font-size="9.5" text-anchor="end" textLength="4.4" lengthAdjust="spacingAndGlyphs" stroke="#000" stroke-width="0.3">0</text><text x="416.7" y="354.90" font-size="9.5" text-anchor="end" textLength="13.200000000000001" lengthAdjust="spacingAndGlyphs" stroke="#000" stroke-width="0.3">600</text><text x="416.7" y="330.90" font-size="9.5" text-anchor="end" textLength="17.6" lengthAdjust="spacingAndGlyphs" stroke="#000" stroke-width="0.3">1200</text><text x="416.7" y="306.90" font-size="9.5" text-anchor="end" textLength="17.6" lengthAdjust="spacingAndGlyphs" stroke="#000" stroke-width="0.3">1800</text><path d="M417.5 376.50h-2M417.5 352.50h-2M417.5 328.50h-2M417.5 304.50h-2M417.5 364.50h-1.2M417.5 340.50h-1.2M417.5 316.50h-1.2" stroke="#111" stroke-width="0.9" fill="none"/><text x="429.7" y="385.3" font-size="9.3" text-anchor="middle" textLength="21" lengthAdjust="spacingAndGlyphs" stroke="#000" stroke-width="0.3">E12.5</text><text x="454.8" y="385.3" font-size="9.3" text-anchor="middle" textLength="21" lengthAdjust="spacingAndGlyphs" stroke="#000" stroke-width="0.3">E14.5</text><text x="479.7" y="385.3" font-size="9.3" text-anchor="middle" textLength="21" lengthAdjust="spacingAndGlyphs" stroke="#000" stroke-width="0.3">E17.5</text><text x="504.8" y="385.3" font-size="9.3" text-anchor="middle" textLength="20" lengthAdjust="spacingAndGlyphs" stroke="#000" stroke-width="0.3">Adult</text><text x="470.3" y="294.4" font-size="11.3" text-anchor="middle" textLength="32.5" lengthAdjust="spacingAndGlyphs" stroke="#000" stroke-width="0.3">CFU-E</text><text x="470.3" y="307.4" font-size="11.3" text-anchor="middle" textLength="21.4" lengthAdjust="spacingAndGlyphs" stroke="#000" stroke-width="0.3">3SA</text><path d="M511.3 362.3l0.00 -2.60M511.3 362.3l2.47 -0.80M511.3 362.3l1.53 2.10M511.3 362.3l-1.53 2.10M511.3 362.3l-2.47 -0.80" stroke="#111" stroke-width="1.5" fill="none"/><path d="M516.3 362.3l0.00 -2.60M516.3 362.3l2.47 -0.80M516.3 362.3l1.53 2.10M516.3 362.3l-1.53 2.10M516.3 362.3l-2.47 -0.80" stroke="#111" stroke-width="1.5" fill="none"/><text x="32.3" y="533.50" font-size="10" text-anchor="end" textLength="5" lengthAdjust="spacingAndGlyphs" stroke="#000" stroke-width="0.3">0</text><text x="32.3" y="507.00" font-size="10" text-anchor="end" textLength="10" lengthAdjust="spacingAndGlyphs" stroke="#000" stroke-width="0.3">20</text><text x="32.3" y="480.50" font-size="10" text-anchor="end" textLength="10" lengthAdjust="spacingAndGlyphs" stroke="#000" stroke-width="0.3">40</text><text x="32.3" y="454.00" font-size="10" text-anchor="end" textLength="10" lengthAdjust="spacingAndGlyphs" stroke="#000" stroke-width="0.3">60</text><text x="38.00" y="544.2" font-size="10.2" text-anchor="middle" textLength="5.3" lengthAdjust="spacingAndGlyphs" stroke="#000" stroke-width="0.3">0</text><text x="57.50" y="544.2" font-size="10.2" text-anchor="middle" textLength="5.3" lengthAdjust="spacingAndGlyphs" stroke="#000" stroke-width="0.3">2</text><text x="73.40" y="544.2" font-size="10.2" text-anchor="middle" textLength="5.3" lengthAdjust="spacingAndGlyphs" stroke="#000" stroke-width="0.3">4</text><text x="91.50" y="544.2" font-size="10.2" text-anchor="middle" textLength="5.3" lengthAdjust="spacingAndGlyphs" stroke="#000" stroke-width="0.3">6</text><text x="109.60" y="544.2" font-size="10.2" text-anchor="middle" textLength="5.3" lengthAdjust="spacingAndGlyphs" stroke="#000" stroke-width="0.3">8</text><text x="128.90" y="544.2" font-size="10.2" text-anchor="middle" textLength="9.6" lengthAdjust="spacingAndGlyphs" stroke="#000" stroke-width="0.3">10</text><text x="147.00" y="544.2" font-size="10.2" text-anchor="middle" textLength="9.6" lengthAdjust="spacingAndGlyphs" stroke="#000" stroke-width="0.3">12</text><text x="165.10" y="544.2" font-size="10.2" text-anchor="middle" textLength="9.6" lengthAdjust="spacingAndGlyphs" stroke="#000" stroke-width="0.3">14</text><path d="M36.8 530.00h-3M36.8 503.50h-3M36.8 477.00h-3M36.8 450.50h-3M37.20 530v3M55.30 530v3M73.40 530v3M91.50 530v3M109.60 530v3M127.70 530v3M145.80 530v3M163.90 530v3" stroke="#111" stroke-width="2" fill="none"/><path d="M36.8 447.85V530H164.90000000000003" stroke="#111" stroke-width="2.5" fill="none"/><path d="M37.2 450.1V461.1" stroke="#111" stroke-width="1.8" fill="none"/><path d="M33.7 450.1h7M33.7 461.1h7" stroke="#111" stroke-width="2.6" fill="none"/><path d="M91.5 475.7V488.9" stroke="#111" stroke-width="1.8" fill="none"/><path d="M88.0 475.7h7M88.0 488.9h7" stroke="#111" stroke-width="2.6" fill="none"/><path d="M91.5 488.9V502.6" stroke="#111" stroke-width="1.8" fill="none"/><path d="M88.0 488.9h7M88.0 502.6h7" stroke="#111" stroke-width="2.6" fill="none"/><polyline points="37.2,458.1 64.4,499.8 91.5,485.7 118.7,458.4 163.9,458.4" stroke="#111" stroke-width="3.2" fill="none" stroke-linejoin="round"/><circle cx="37.2" cy="458.1" r="3.9" fill="#111"/><circle cx="64.4" cy="499.8" r="3.9" fill="#111"/><circle cx="91.5" cy="485.7" r="3.9" fill="#111"/><circle cx="118.7" cy="458.4" r="3.9" fill="#111"/><circle cx="163.9" cy="458.4" r="3.9" fill="#111"/><polyline points="37.2,461.1 64.4,503.2 91.5,488.9 118.7,463.0 163.9,464.8" stroke="#86908c" stroke-width="2.4" stroke-dasharray="6 3" fill="none"/><rect x="33.7" y="457.6" width="7" height="7" fill="#7f8985" stroke="#4a4f4d" stroke-width="0.7"/><rect x="60.9" y="499.7" width="7" height="7" fill="#7f8985" stroke="#4a4f4d" stroke-width="0.7"/><rect x="88.0" y="485.4" width="7" height="7" fill="#7f8985" stroke="#4a4f4d" stroke-width="0.7"/><rect x="115.2" y="459.5" width="7" height="7" fill="#7f8985" stroke="#4a4f4d" stroke-width="0.7"/><rect x="160.4" y="461.3" width="7" height="7" fill="#7f8985" stroke="#4a4f4d" stroke-width="0.7"/><text x="76" y="452.7" font-size="13.5" text-anchor="middle" stroke="#000" stroke-width="0.3">S310A</text><text transform="translate(13,519.5) rotate(-90)" font-size="13.5" textLength="53" lengthAdjust="spacingAndGlyphs" stroke="#000" stroke-width="0.3">HCT (%)</text><path d="M45.8 530.4l-4.2 8h8.4z" fill="#fff" stroke="#111" stroke-width="1.4" stroke-linejoin="miter"/><path d="M45.8 538.2V549.8" stroke="#111" stroke-width="1.8"/><path d="M54.0 530.4l-4.2 8h8.4z" fill="#fff" stroke="#111" stroke-width="1.4" stroke-linejoin="miter"/><path d="M54.0 538.2V549.8" stroke="#111" stroke-width="1.8"/><text x="219.3" y="532.10" font-size="10" text-anchor="end" textLength="5" lengthAdjust="spacingAndGlyphs" stroke="#000" stroke-width="0.3">0</text><text x="219.3" y="506.24" font-size="10" text-anchor="end" textLength="10" lengthAdjust="spacingAndGlyphs" stroke="#000" stroke-width="0.3">20</text><text x="219.3" y="480.38" font-size="10" text-anchor="end" textLength="10" lengthAdjust="spacingAndGlyphs" stroke="#000" stroke-width="0.3">40</text><text x="219.3" y="454.52" font-size="10" text-anchor="end" textLength="10" lengthAdjust="spacingAndGlyphs" stroke="#000" stroke-width="0.3">60</text><text x="224.80" y="544.2" font-size="10.2" text-anchor="middle" textLength="5.3" lengthAdjust="spacingAndGlyphs" stroke="#000" stroke-width="0.3">0</text><text x="244.44" y="544.2" font-size="10.2" text-anchor="middle" textLength="5.3" lengthAdjust="spacingAndGlyphs" stroke="#000" stroke-width="0.3">2</text><text x="260.48" y="544.2" font-size="10.2" text-anchor="middle" textLength="5.3" lengthAdjust="spacingAndGlyphs" stroke="#000" stroke-width="0.3">4</text><text x="278.72" y="544.2" font-size="10.2" text-anchor="middle" textLength="5.3" lengthAdjust="spacingAndGlyphs" stroke="#000" stroke-width="0.3">6</text><text x="296.96" y="544.2" font-size="10.2" text-anchor="middle" textLength="5.3" lengthAdjust="spacingAndGlyphs" stroke="#000" stroke-width="0.3">8</text><text x="316.40" y="544.2" font-size="10.2" text-anchor="middle" textLength="9.6" lengthAdjust="spacingAndGlyphs" stroke="#000" stroke-width="0.3">10</text><text x="334.64" y="544.2" font-size="10.2" text-anchor="middle" textLength="9.6" lengthAdjust="spacingAndGlyphs" stroke="#000" stroke-width="0.3">12</text><text x="352.88" y="544.2" font-size="10.2" text-anchor="middle" textLength="9.6" lengthAdjust="spacingAndGlyphs" stroke="#000" stroke-width="0.3">14</text><path d="M223.4 528.60h-3M223.4 502.74h-3M223.4 476.88h-3M223.4 451.02h-3M224.00 528.6v3M242.24 528.6v3M260.48 528.6v3M278.72 528.6v3M296.96 528.6v3M315.20 528.6v3M333.44 528.6v3M351.68 528.6v3" stroke="#111" stroke-width="2" fill="none"/><path d="M223.4 448.434V528.6H352.68" stroke="#111" stroke-width="2.5" fill="none"/><path d="M224.0 451.1V461.4" stroke="#111" stroke-width="1.8" fill="none"/><path d="M220.5 451.1h7M220.5 461.4h7" stroke="#111" stroke-width="2.6" fill="none"/><path d="M251.4 489.8V498.0" stroke="#111" stroke-width="1.8" fill="none"/><path d="M247.9 489.8h7M247.9 498.0h7" stroke="#111" stroke-width="2.6" fill="none"/><path d="M278.7 482.1V486.2" stroke="#111" stroke-width="1.8" fill="none"/><path d="M275.2 482.1h7M275.2 486.2h7" stroke="#111" stroke-width="2.6" fill="none"/><polyline points="224.0,458.8 251.4,489.8 278.7,476.9 306.1,460.1 351.7,460.1" stroke="#111" stroke-width="3.2" fill="none" stroke-linejoin="round"/><circle cx="224.0" cy="458.8" r="3.9" fill="#111"/><circle cx="251.4" cy="489.8" r="3.9" fill="#111"/><circle cx="278.7" cy="476.9" r="3.9" fill="#111"/><circle cx="306.1" cy="460.1" r="3.9" fill="#111"/><circle cx="351.7" cy="460.1" r="3.9" fill="#111"/><polyline points="224.0,460.7 251.4,492.4 278.7,482.1 306.1,460.1 351.7,460.7" stroke="#86908c" stroke-width="2.4" stroke-dasharray="6 3" fill="none"/><rect x="220.5" y="457.2" width="7" height="7" fill="#7f8985" stroke="#4a4f4d" stroke-width="0.7"/><rect x="247.9" y="488.9" width="7" height="7" fill="#7f8985" stroke="#4a4f4d" stroke-width="0.7"/><rect x="275.2" y="478.6" width="7" height="7" fill="#7f8985" stroke="#4a4f4d" stroke-width="0.7"/><rect x="302.6" y="456.6" width="7" height="7" fill="#7f8985" stroke="#4a4f4d" stroke-width="0.7"/><rect x="348.2" y="457.2" width="7" height="7" fill="#7f8985" stroke="#4a4f4d" stroke-width="0.7"/><text x="264" y="462.3" font-size="13.5" text-anchor="middle" stroke="#000" stroke-width="0.3">3SA</text><text transform="translate(200,518.1) rotate(-90)" font-size="13.5" textLength="53" lengthAdjust="spacingAndGlyphs" stroke="#000" stroke-width="0.3">HCT (%)</text><path d="M231.6 529.0l-4.2 8h8.4z" fill="#fff" stroke="#111" stroke-width="1.4" stroke-linejoin="miter"/><path d="M231.6 536.8000000000001V548.4" stroke="#111" stroke-width="1.8"/><path d="M239.7 529.0l-4.2 8h8.4z" fill="#fff" stroke="#111" stroke-width="1.4" stroke-linejoin="miter"/><path d="M239.7 536.8000000000001V548.4" stroke="#111" stroke-width="1.8"/>
</svg></body></html>
